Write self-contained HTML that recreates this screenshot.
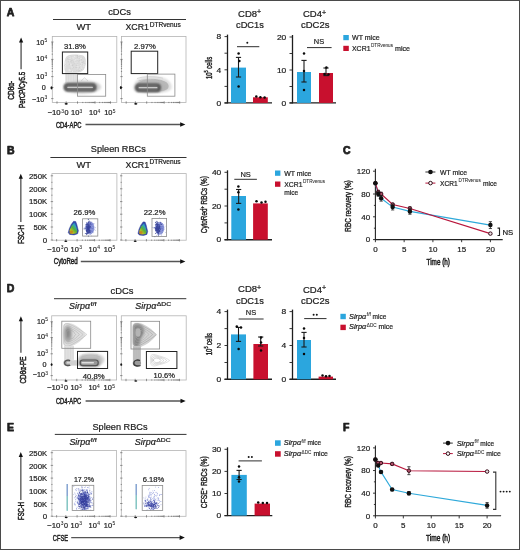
<!DOCTYPE html>
<html><head><meta charset="utf-8"><style>
html,body{margin:0;padding:0;background:#fff;}
svg{display:block;}
text{font-family:"Liberation Sans", sans-serif;fill:#1e1e1e;stroke:#1e1e1e;stroke-width:0.22px;stroke-linejoin:round;paint-order:stroke;}
</style></head><body>
<svg width="520" height="550" viewBox="0 0 520 550">
<defs>
<radialGradient id="gk" cx="0.5" cy="0.5" r="0.5">
 <stop offset="0" stop-color="#1c1c1c"/><stop offset="0.35" stop-color="#3c3c3c"/>
 <stop offset="0.6" stop-color="#808080"/><stop offset="0.85" stop-color="#c4c4c4"/>
 <stop offset="1" stop-color="#e8e8e8" stop-opacity="0"/></radialGradient>
<radialGradient id="gl" cx="0.5" cy="0.5" r="0.5">
 <stop offset="0" stop-color="#9a9a9a"/><stop offset="0.5" stop-color="#bcbcbc"/>
 <stop offset="0.85" stop-color="#dadada"/><stop offset="1" stop-color="#f0f0f0" stop-opacity="0"/></radialGradient>
<radialGradient id="gm" cx="0.5" cy="0.5" r="0.5">
 <stop offset="0" stop-color="#555"/><stop offset="0.4" stop-color="#7a7a7a"/>
 <stop offset="0.75" stop-color="#b8b8b8"/><stop offset="1" stop-color="#e6e6e6" stop-opacity="0"/></radialGradient>
<filter id="bl" x="-30%" y="-30%" width="160%" height="160%"><feGaussianBlur stdDeviation="0.6"/></filter>
<filter id="bl3" x="-30%" y="-30%" width="160%" height="160%"><feGaussianBlur stdDeviation="0.85"/></filter>
<filter id="bl2" x="-30%" y="-30%" width="160%" height="160%"><feGaussianBlur stdDeviation="1.0"/></filter>
<linearGradient id="rb1" x1="0.1" y1="0.95" x2="0.8" y2="0">
 <stop offset="0" stop-color="#c98a20"/><stop offset="0.22" stop-color="#b8c020"/>
 <stop offset="0.5" stop-color="#58b038"/><stop offset="0.78" stop-color="#2ea4c0"/>
 <stop offset="1" stop-color="#3050b8"/></linearGradient>
</defs>
<rect x="0" y="0" width="520" height="550" fill="#fff"/>
<g opacity="0.999"><text x="6.70" y="15.80" font-size="10.5" style="stroke-width:0.75px" font-weight="bold" fill="#000">A</text>
<text x="119.60" y="14.60" font-size="9" text-anchor="middle" textLength="22.8" lengthAdjust="spacingAndGlyphs">cDCs</text>
<line x1="53" y1="19.5" x2="186" y2="19.5" stroke="#333" stroke-width="1" />
<text x="83.80" y="30.00" font-size="9" text-anchor="middle" textLength="14.7" lengthAdjust="spacingAndGlyphs">WT</text>
<text x="125.40" y="30.00" font-size="9" textLength="23.6" lengthAdjust="spacingAndGlyphs">XCR1</text>
<text x="149.70" y="26.60" font-size="6.5" textLength="31" lengthAdjust="spacingAndGlyphs">DTRvenus</text>
<rect x="52.30" y="36.50" width="64.50" height="66.00" fill="#fff" stroke="#b4b4b4" stroke-width="0.8" />
<line x1="51.099999999999994" y1="42" x2="53.5" y2="42" stroke="#555" stroke-width="0.6" />
<line x1="51.099999999999994" y1="59.4" x2="53.5" y2="59.4" stroke="#555" stroke-width="0.6" />
<line x1="51.099999999999994" y1="76.6" x2="53.5" y2="76.6" stroke="#555" stroke-width="0.6" />
<line x1="51.099999999999994" y1="87.5" x2="53.5" y2="87.5" stroke="#555" stroke-width="0.6" />
<line x1="51.099999999999994" y1="98.6" x2="53.5" y2="98.6" stroke="#555" stroke-width="0.6" />
<line x1="51.699999999999996" y1="54.16207807544673" x2="52.9" y2="54.16207807544673" stroke="#555" stroke-width="0.6" />
<line x1="51.699999999999996" y1="51.09809016787787" x2="52.9" y2="51.09809016787787" stroke="#555" stroke-width="0.6" />
<line x1="51.699999999999996" y1="48.92415615089345" x2="52.9" y2="48.92415615089345" stroke="#555" stroke-width="0.6" />
<line x1="51.699999999999996" y1="47.23792192455327" x2="52.9" y2="47.23792192455327" stroke="#555" stroke-width="0.6" />
<line x1="51.699999999999996" y1="45.8601682433246" x2="52.9" y2="45.8601682433246" stroke="#555" stroke-width="0.6" />
<line x1="51.699999999999996" y1="44.695294103751934" x2="52.9" y2="44.695294103751934" stroke="#555" stroke-width="0.6" />
<line x1="51.699999999999996" y1="43.68623422634018" x2="52.9" y2="43.68623422634018" stroke="#555" stroke-width="0.6" />
<line x1="51.699999999999996" y1="42.79618033575575" x2="52.9" y2="42.79618033575575" stroke="#555" stroke-width="0.6" />
<line x1="51.699999999999996" y1="71.42228407457952" x2="52.9" y2="71.42228407457952" stroke="#555" stroke-width="0.6" />
<line x1="51.699999999999996" y1="68.39351441882181" x2="52.9" y2="68.39351441882181" stroke="#555" stroke-width="0.6" />
<line x1="51.699999999999996" y1="66.24456814915905" x2="52.9" y2="66.24456814915905" stroke="#555" stroke-width="0.6" />
<line x1="51.699999999999996" y1="64.57771592542048" x2="52.9" y2="64.57771592542048" stroke="#555" stroke-width="0.6" />
<line x1="51.699999999999996" y1="63.21579849340132" x2="52.9" y2="63.21579849340132" stroke="#555" stroke-width="0.6" />
<line x1="51.699999999999996" y1="62.06431371175478" x2="52.9" y2="62.06431371175478" stroke="#555" stroke-width="0.6" />
<line x1="51.699999999999996" y1="61.06685222373857" x2="52.9" y2="61.06685222373857" stroke="#555" stroke-width="0.6" />
<line x1="51.699999999999996" y1="60.18702883764361" x2="52.9" y2="60.18702883764361" stroke="#555" stroke-width="0.6" />
<line x1="57" y1="101.3" x2="57" y2="103.7" stroke="#555" stroke-width="0.6" />
<line x1="66.2" y1="101.3" x2="66.2" y2="103.7" stroke="#555" stroke-width="0.6" />
<line x1="77.5" y1="101.3" x2="77.5" y2="103.7" stroke="#555" stroke-width="0.6" />
<line x1="95" y1="101.3" x2="95" y2="103.7" stroke="#555" stroke-width="0.6" />
<line x1="110.5" y1="101.3" x2="110.5" y2="103.7" stroke="#555" stroke-width="0.6" />
<line x1="82.76802492411967" y1="101.9" x2="82.76802492411967" y2="103.1" stroke="#555" stroke-width="0.6" />
<line x1="85.8496219575941" y1="101.9" x2="85.8496219575941" y2="103.1" stroke="#555" stroke-width="0.6" />
<line x1="88.03604984823934" y1="101.9" x2="88.03604984823934" y2="103.1" stroke="#555" stroke-width="0.6" />
<line x1="89.73197507588033" y1="101.9" x2="89.73197507588033" y2="103.1" stroke="#555" stroke-width="0.6" />
<line x1="91.11764688171377" y1="101.9" x2="91.11764688171377" y2="103.1" stroke="#555" stroke-width="0.6" />
<line x1="92.2892157002495" y1="101.9" x2="92.2892157002495" y2="103.1" stroke="#555" stroke-width="0.6" />
<line x1="93.30407477235902" y1="101.9" x2="93.30407477235902" y2="103.1" stroke="#555" stroke-width="0.6" />
<line x1="94.19924391518819" y1="101.9" x2="94.19924391518819" y2="103.1" stroke="#555" stroke-width="0.6" />
<line x1="99.66596493279171" y1="101.9" x2="99.66596493279171" y2="103.1" stroke="#555" stroke-width="0.6" />
<line x1="102.39537944815477" y1="101.9" x2="102.39537944815477" y2="103.1" stroke="#555" stroke-width="0.6" />
<line x1="104.33192986558342" y1="101.9" x2="104.33192986558342" y2="103.1" stroke="#555" stroke-width="0.6" />
<line x1="105.83403506720829" y1="101.9" x2="105.83403506720829" y2="103.1" stroke="#555" stroke-width="0.6" />
<line x1="107.06134438094648" y1="101.9" x2="107.06134438094648" y2="103.1" stroke="#555" stroke-width="0.6" />
<line x1="108.09901962022099" y1="101.9" x2="108.09901962022099" y2="103.1" stroke="#555" stroke-width="0.6" />
<line x1="108.99789479837513" y1="101.9" x2="108.99789479837513" y2="103.1" stroke="#555" stroke-width="0.6" />
<line x1="109.79075889630954" y1="101.9" x2="109.79075889630954" y2="103.1" stroke="#555" stroke-width="0.6" />
<text x="47.50" y="115.20" font-size="7.2" textLength="13.2" lengthAdjust="spacingAndGlyphs">−10</text>
<text x="61.20" y="112.60" font-size="4.9" style="stroke-width:0.06px">3</text>
<text x="64.50" y="115.20" font-size="7.2">0</text>
<text x="71.00" y="115.20" font-size="7.2" textLength="8.3" lengthAdjust="spacingAndGlyphs">10</text>
<text x="79.60" y="112.60" font-size="4.9" style="stroke-width:0.06px">3</text>
<text x="89.00" y="115.20" font-size="7.2" textLength="8.3" lengthAdjust="spacingAndGlyphs">10</text>
<text x="97.60" y="112.60" font-size="4.9" style="stroke-width:0.06px">4</text>
<text x="104.20" y="115.20" font-size="7.2" textLength="8.3" lengthAdjust="spacingAndGlyphs">10</text>
<text x="112.80" y="112.60" font-size="4.9" style="stroke-width:0.06px">5</text>
<rect x="121.50" y="36.50" width="64.50" height="66.00" fill="#fff" stroke="#b4b4b4" stroke-width="0.8" />
<line x1="120.3" y1="42" x2="122.7" y2="42" stroke="#555" stroke-width="0.6" />
<line x1="120.3" y1="59.4" x2="122.7" y2="59.4" stroke="#555" stroke-width="0.6" />
<line x1="120.3" y1="76.6" x2="122.7" y2="76.6" stroke="#555" stroke-width="0.6" />
<line x1="120.3" y1="87.5" x2="122.7" y2="87.5" stroke="#555" stroke-width="0.6" />
<line x1="120.3" y1="98.6" x2="122.7" y2="98.6" stroke="#555" stroke-width="0.6" />
<line x1="120.9" y1="54.16207807544673" x2="122.1" y2="54.16207807544673" stroke="#555" stroke-width="0.6" />
<line x1="120.9" y1="51.09809016787787" x2="122.1" y2="51.09809016787787" stroke="#555" stroke-width="0.6" />
<line x1="120.9" y1="48.92415615089345" x2="122.1" y2="48.92415615089345" stroke="#555" stroke-width="0.6" />
<line x1="120.9" y1="47.23792192455327" x2="122.1" y2="47.23792192455327" stroke="#555" stroke-width="0.6" />
<line x1="120.9" y1="45.8601682433246" x2="122.1" y2="45.8601682433246" stroke="#555" stroke-width="0.6" />
<line x1="120.9" y1="44.695294103751934" x2="122.1" y2="44.695294103751934" stroke="#555" stroke-width="0.6" />
<line x1="120.9" y1="43.68623422634018" x2="122.1" y2="43.68623422634018" stroke="#555" stroke-width="0.6" />
<line x1="120.9" y1="42.79618033575575" x2="122.1" y2="42.79618033575575" stroke="#555" stroke-width="0.6" />
<line x1="120.9" y1="71.42228407457952" x2="122.1" y2="71.42228407457952" stroke="#555" stroke-width="0.6" />
<line x1="120.9" y1="68.39351441882181" x2="122.1" y2="68.39351441882181" stroke="#555" stroke-width="0.6" />
<line x1="120.9" y1="66.24456814915905" x2="122.1" y2="66.24456814915905" stroke="#555" stroke-width="0.6" />
<line x1="120.9" y1="64.57771592542048" x2="122.1" y2="64.57771592542048" stroke="#555" stroke-width="0.6" />
<line x1="120.9" y1="63.21579849340132" x2="122.1" y2="63.21579849340132" stroke="#555" stroke-width="0.6" />
<line x1="120.9" y1="62.06431371175478" x2="122.1" y2="62.06431371175478" stroke="#555" stroke-width="0.6" />
<line x1="120.9" y1="61.06685222373857" x2="122.1" y2="61.06685222373857" stroke="#555" stroke-width="0.6" />
<line x1="120.9" y1="60.18702883764361" x2="122.1" y2="60.18702883764361" stroke="#555" stroke-width="0.6" />
<line x1="126.2" y1="101.3" x2="126.2" y2="103.7" stroke="#555" stroke-width="0.6" />
<line x1="135.4" y1="101.3" x2="135.4" y2="103.7" stroke="#555" stroke-width="0.6" />
<line x1="146.7" y1="101.3" x2="146.7" y2="103.7" stroke="#555" stroke-width="0.6" />
<line x1="164.2" y1="101.3" x2="164.2" y2="103.7" stroke="#555" stroke-width="0.6" />
<line x1="179.7" y1="101.3" x2="179.7" y2="103.7" stroke="#555" stroke-width="0.6" />
<line x1="151.96802492411967" y1="101.9" x2="151.96802492411967" y2="103.1" stroke="#555" stroke-width="0.6" />
<line x1="155.0496219575941" y1="101.9" x2="155.0496219575941" y2="103.1" stroke="#555" stroke-width="0.6" />
<line x1="157.23604984823936" y1="101.9" x2="157.23604984823936" y2="103.1" stroke="#555" stroke-width="0.6" />
<line x1="158.93197507588033" y1="101.9" x2="158.93197507588033" y2="103.1" stroke="#555" stroke-width="0.6" />
<line x1="160.31764688171376" y1="101.9" x2="160.31764688171376" y2="103.1" stroke="#555" stroke-width="0.6" />
<line x1="161.4892157002495" y1="101.9" x2="161.4892157002495" y2="103.1" stroke="#555" stroke-width="0.6" />
<line x1="162.50407477235902" y1="101.9" x2="162.50407477235902" y2="103.1" stroke="#555" stroke-width="0.6" />
<line x1="163.3992439151882" y1="101.9" x2="163.3992439151882" y2="103.1" stroke="#555" stroke-width="0.6" />
<line x1="168.8659649327917" y1="101.9" x2="168.8659649327917" y2="103.1" stroke="#555" stroke-width="0.6" />
<line x1="171.59537944815477" y1="101.9" x2="171.59537944815477" y2="103.1" stroke="#555" stroke-width="0.6" />
<line x1="173.53192986558344" y1="101.9" x2="173.53192986558344" y2="103.1" stroke="#555" stroke-width="0.6" />
<line x1="175.0340350672083" y1="101.9" x2="175.0340350672083" y2="103.1" stroke="#555" stroke-width="0.6" />
<line x1="176.26134438094647" y1="101.9" x2="176.26134438094647" y2="103.1" stroke="#555" stroke-width="0.6" />
<line x1="177.29901962022097" y1="101.9" x2="177.29901962022097" y2="103.1" stroke="#555" stroke-width="0.6" />
<line x1="178.19789479837513" y1="101.9" x2="178.19789479837513" y2="103.1" stroke="#555" stroke-width="0.6" />
<line x1="178.99075889630956" y1="101.9" x2="178.99075889630956" y2="103.1" stroke="#555" stroke-width="0.6" />
<text x="44.30" y="44.70" font-size="7.2" text-anchor="end">10</text>
<text x="44.50" y="42.20" font-size="4.9" style="stroke-width:0.06px">5</text>
<text x="44.30" y="61.00" font-size="7.2" text-anchor="end">10</text>
<text x="44.50" y="58.50" font-size="4.9" style="stroke-width:0.06px">4</text>
<text x="44.30" y="78.60" font-size="7.2" text-anchor="end">10</text>
<text x="44.50" y="76.10" font-size="4.9" style="stroke-width:0.06px">3</text>
<text x="45.70" y="89.50" font-size="7.2" text-anchor="end">0</text>
<text x="44.30" y="101.50" font-size="7.2" text-anchor="end">−10</text>
<text x="44.50" y="99.00" font-size="4.9" style="stroke-width:0.06px">3</text>
<path d="M64.6,70 C64,64 64.5,58 67,56 C71,54 78,54.3 82.5,55.3 C85.5,56.5 86.2,60 85.8,64 C85.3,68 83.5,71 80,72.2 C75,73.3 68,73.2 65.5,72.2 Z" fill="#dcdcdc" filter="url(#bl)"/>
<g fill="#b0b0b0" opacity="0.5"><circle cx="69.5" cy="64.3" r="0.45"/><circle cx="72.3" cy="65.3" r="0.45"/><circle cx="77.6" cy="56.1" r="0.45"/><circle cx="69.9" cy="59.0" r="0.45"/><circle cx="85.4" cy="63.0" r="0.45"/><circle cx="82.1" cy="63.1" r="0.45"/><circle cx="77.9" cy="57.6" r="0.45"/><circle cx="77.8" cy="69.8" r="0.45"/><circle cx="75.5" cy="67.6" r="0.45"/><circle cx="78.6" cy="56.1" r="0.45"/><circle cx="80.4" cy="65.0" r="0.45"/><circle cx="82.7" cy="63.0" r="0.45"/><circle cx="79.6" cy="69.9" r="0.45"/><circle cx="79.5" cy="70.7" r="0.45"/><circle cx="72.8" cy="68.6" r="0.45"/><circle cx="73.8" cy="70.9" r="0.45"/><circle cx="67.4" cy="58.7" r="0.45"/><circle cx="84.8" cy="62.4" r="0.45"/><circle cx="77.7" cy="60.1" r="0.45"/><circle cx="75.2" cy="61.6" r="0.45"/><circle cx="71.9" cy="64.9" r="0.45"/><circle cx="76.8" cy="70.4" r="0.45"/><circle cx="78.8" cy="70.8" r="0.45"/><circle cx="78.6" cy="57.8" r="0.45"/><circle cx="83.5" cy="64.7" r="0.45"/><circle cx="79.5" cy="58.6" r="0.45"/><circle cx="82.0" cy="64.8" r="0.45"/><circle cx="70.5" cy="56.1" r="0.45"/><circle cx="73.1" cy="57.6" r="0.45"/><circle cx="70.7" cy="68.1" r="0.45"/><circle cx="77.4" cy="55.8" r="0.45"/><circle cx="79.6" cy="60.6" r="0.45"/><circle cx="75.1" cy="72.0" r="0.45"/><circle cx="71.0" cy="56.3" r="0.45"/><circle cx="77.1" cy="55.5" r="0.45"/><circle cx="68.6" cy="61.9" r="0.45"/><circle cx="77.3" cy="57.7" r="0.45"/><circle cx="71.1" cy="71.3" r="0.45"/><circle cx="83.3" cy="61.4" r="0.45"/><circle cx="74.2" cy="63.8" r="0.45"/><circle cx="78.0" cy="65.1" r="0.45"/><circle cx="76.2" cy="65.5" r="0.45"/><circle cx="84.3" cy="63.6" r="0.45"/><circle cx="73.6" cy="67.2" r="0.45"/><circle cx="69.5" cy="60.1" r="0.45"/><circle cx="85.0" cy="63.9" r="0.45"/><circle cx="76.0" cy="55.2" r="0.45"/><circle cx="73.2" cy="64.9" r="0.45"/><circle cx="64.9" cy="65.5" r="0.45"/><circle cx="77.8" cy="56.0" r="0.45"/><circle cx="77.7" cy="62.9" r="0.45"/><circle cx="78.8" cy="61.0" r="0.45"/><circle cx="79.3" cy="67.5" r="0.45"/><circle cx="78.7" cy="71.4" r="0.45"/><circle cx="69.8" cy="62.8" r="0.45"/><circle cx="76.9" cy="60.4" r="0.45"/><circle cx="72.1" cy="60.3" r="0.45"/><circle cx="72.3" cy="65.1" r="0.45"/><circle cx="70.8" cy="61.4" r="0.45"/><circle cx="76.5" cy="67.5" r="0.45"/><circle cx="71.0" cy="58.8" r="0.45"/><circle cx="81.4" cy="59.1" r="0.45"/><circle cx="68.4" cy="62.4" r="0.45"/><circle cx="79.2" cy="56.7" r="0.45"/><circle cx="71.3" cy="60.7" r="0.45"/><circle cx="82.0" cy="62.5" r="0.45"/><circle cx="82.5" cy="57.9" r="0.45"/><circle cx="71.6" cy="66.1" r="0.45"/><circle cx="83.1" cy="62.7" r="0.45"/><circle cx="69.2" cy="57.1" r="0.45"/><circle cx="75.6" cy="58.2" r="0.45"/><circle cx="81.4" cy="69.3" r="0.45"/><circle cx="68.4" cy="59.7" r="0.45"/><circle cx="81.5" cy="65.9" r="0.45"/><circle cx="81.4" cy="60.9" r="0.45"/><circle cx="67.2" cy="60.0" r="0.45"/><circle cx="81.2" cy="59.6" r="0.45"/><circle cx="71.8" cy="62.1" r="0.45"/><circle cx="73.3" cy="62.0" r="0.45"/><circle cx="73.6" cy="71.2" r="0.45"/></g>
<g fill="#f4f4f4" opacity="0.7"><circle cx="69.5" cy="56.8" r="0.5"/><circle cx="72.8" cy="57.6" r="0.5"/><circle cx="65.9" cy="61.8" r="0.5"/><circle cx="80.6" cy="58.8" r="0.5"/><circle cx="75.8" cy="59.7" r="0.5"/><circle cx="81.9" cy="68.7" r="0.5"/><circle cx="81.3" cy="58.3" r="0.5"/><circle cx="71.0" cy="65.7" r="0.5"/><circle cx="79.9" cy="69.5" r="0.5"/><circle cx="77.2" cy="66.4" r="0.5"/><circle cx="75.1" cy="58.0" r="0.5"/><circle cx="74.4" cy="56.5" r="0.5"/><circle cx="76.0" cy="60.1" r="0.5"/><circle cx="83.6" cy="64.7" r="0.5"/><circle cx="75.2" cy="62.0" r="0.5"/><circle cx="77.1" cy="62.3" r="0.5"/><circle cx="67.9" cy="60.2" r="0.5"/><circle cx="65.5" cy="65.6" r="0.5"/><circle cx="70.4" cy="64.1" r="0.5"/><circle cx="74.4" cy="60.8" r="0.5"/><circle cx="73.2" cy="58.4" r="0.5"/><circle cx="77.8" cy="59.7" r="0.5"/><circle cx="72.0" cy="67.7" r="0.5"/><circle cx="71.2" cy="64.5" r="0.5"/><circle cx="80.6" cy="65.5" r="0.5"/><circle cx="69.5" cy="60.6" r="0.5"/><circle cx="68.2" cy="62.8" r="0.5"/><circle cx="65.4" cy="66.9" r="0.5"/><circle cx="73.1" cy="71.0" r="0.5"/><circle cx="77.5" cy="68.9" r="0.5"/><circle cx="70.7" cy="58.3" r="0.5"/><circle cx="73.8" cy="57.3" r="0.5"/><circle cx="72.5" cy="71.4" r="0.5"/><circle cx="81.0" cy="61.2" r="0.5"/><circle cx="70.6" cy="56.7" r="0.5"/><circle cx="85.1" cy="62.2" r="0.5"/><circle cx="78.7" cy="57.5" r="0.5"/><circle cx="65.4" cy="63.3" r="0.5"/><circle cx="67.1" cy="64.0" r="0.5"/><circle cx="80.7" cy="62.0" r="0.5"/><circle cx="85.2" cy="63.1" r="0.5"/><circle cx="69.6" cy="62.0" r="0.5"/><circle cx="65.3" cy="62.2" r="0.5"/><circle cx="69.7" cy="70.1" r="0.5"/><circle cx="82.0" cy="63.5" r="0.5"/><circle cx="69.6" cy="58.5" r="0.5"/><circle cx="69.4" cy="69.8" r="0.5"/><circle cx="84.0" cy="64.6" r="0.5"/><circle cx="83.4" cy="66.1" r="0.5"/><circle cx="81.1" cy="67.7" r="0.5"/><circle cx="74.9" cy="56.6" r="0.5"/><circle cx="68.9" cy="69.9" r="0.5"/><circle cx="71.6" cy="66.2" r="0.5"/><circle cx="81.3" cy="65.9" r="0.5"/><circle cx="81.6" cy="64.0" r="0.5"/><circle cx="78.2" cy="66.7" r="0.5"/><circle cx="70.1" cy="70.7" r="0.5"/><circle cx="78.5" cy="55.8" r="0.5"/><circle cx="84.8" cy="66.3" r="0.5"/><circle cx="77.8" cy="64.7" r="0.5"/></g>
<rect x="65.2" y="72" width="12" height="11" fill="#e2e2e2" filter="url(#bl)"/>
<line x1="66.5" y1="73" x2="66.5" y2="82" stroke="#d4d4d4" stroke-width="0.4" />
<line x1="68.5" y1="73" x2="68.5" y2="82" stroke="#d4d4d4" stroke-width="0.4" />
<line x1="71" y1="73" x2="71" y2="82" stroke="#d4d4d4" stroke-width="0.4" />
<line x1="73.5" y1="73" x2="73.5" y2="82" stroke="#d4d4d4" stroke-width="0.4" />
<line x1="76" y1="73" x2="76" y2="82" stroke="#d4d4d4" stroke-width="0.4" />
<ellipse cx="82.30" cy="87.00" rx="18.80" ry="6.70" fill="#d0d0d0" filter="url(#bl2)"/>
<rect x="64.00" y="83.10" width="32.50" height="8.4" rx="4" fill="#7c7c7c" filter="url(#bl3)"/>
<rect x="65.00" y="84.30" width="30.10" height="6.0" rx="3" fill="none" stroke="#404040" stroke-width="1.3" filter="url(#bl3)"/>
<rect x="67.20" y="86.65" width="25.80" height="1.3" rx="0.65" fill="#cacaca" filter="url(#bl)"/>
<path d="M81,81 L84.5,77.8 L88,81" fill="none" stroke="#b8b8b8" stroke-width="0.5"/>
<rect x="62.40" y="52.00" width="25.30" height="21.60" fill="none" stroke="#222" stroke-width="1.0" />
<rect x="77.40" y="74.50" width="28.30" height="21.70" fill="none" stroke="#8a8a8a" stroke-width="0.8" />
<text x="64.00" y="49.20" font-size="7.7" textLength="21.8" lengthAdjust="spacingAndGlyphs">31.8%</text>
<path d="M133.5,89 C133,84 136,79.5 142,77.5 C149,75.5 158,75.8 164,78 C170,80.5 172.5,85 171.5,88.5 C170,92 162,93 150,93 C140,93 134,92 133.5,89 Z" fill="#dedede" filter="url(#bl2)"/>
<path d="M135.5,88 C135.5,84.5 138.5,81 144,80 C151,79 159,79.3 164,81 C168.5,82.8 169.5,86 168,88.5 C166,91 158,91.8 150,91.8 C142,91.8 136,91 135.5,88 Z" fill="#b8b8b8" filter="url(#bl)"/>
<path d="M137,78.5 C143,76.2 155,76 163,78.2" fill="none" stroke="#c0c0c0" stroke-width="0.5"/>
<path d="M138.5,81 C145,78.8 156,78.8 162.5,80.8" fill="none" stroke="#a8a8a8" stroke-width="0.5"/>
<ellipse cx="150.70" cy="87.40" rx="15.80" ry="5.20" fill="#b4b4b4" filter="url(#bl2)"/>
<rect x="135.40" y="83.50" width="25.60" height="8.4" rx="4" fill="#7a7a7a" filter="url(#bl3)"/>
<rect x="136.40" y="84.70" width="23.20" height="6.0" rx="3" fill="none" stroke="#3c3c3c" stroke-width="1.3" filter="url(#bl3)"/>
<rect x="138.60" y="87.05" width="18.90" height="1.3" rx="0.65" fill="#cacaca" filter="url(#bl)"/>
<rect x="131.20" y="51.20" width="26.50" height="22.40" fill="none" stroke="#222" stroke-width="1.0" />
<rect x="147.30" y="74.10" width="27.60" height="22.10" fill="none" stroke="#8a8a8a" stroke-width="0.8" />
<text x="134.00" y="49.20" font-size="7.7" textLength="21.8" lengthAdjust="spacingAndGlyphs">2.97%</text>
<ellipse cx="51.5" cy="87.8" rx="1.0" ry="1.6" fill="#111"/>
<ellipse cx="66.2" cy="103.8" rx="1.6" ry="0.9" fill="#111"/>
<ellipse cx="120.9" cy="87.6" rx="1.0" ry="1.6" fill="#111"/>
<ellipse cx="135.8" cy="103.8" rx="1.6" ry="0.9" fill="#111"/>
<line x1="21.1" y1="69.2" x2="21.1" y2="41.7" stroke="#707070" stroke-width="1.6" />
<path d="M19.00,42.60 L21.10,37.60 L23.20,42.60 Z" fill="#111"/>
<text x="14.00" y="90.20" font-size="8.4" style="stroke-width:0.5px" text-anchor="middle" textLength="19" lengthAdjust="spacingAndGlyphs" transform="rotate(-90 14.00 90.20)">CD8α-</text>
<text x="25.30" y="89.90" font-size="8.4" style="stroke-width:0.5px" text-anchor="middle" textLength="36" lengthAdjust="spacingAndGlyphs" transform="rotate(-90 25.30 89.90)">PerCP/Cy5.5</text>
<text x="55.90" y="127.50" font-size="9" style="stroke-width:0.5px" textLength="25.7" lengthAdjust="spacingAndGlyphs">CD4-APC</text>
<line x1="85.5" y1="124.5" x2="181.4" y2="124.5" stroke="#555" stroke-width="1.4" />
<path d="M180.20,122.20 L185.40,124.50 L180.20,126.80 Z" fill="#111"/>
<text x="238.10" y="17.20" font-size="8.5" textLength="19" lengthAdjust="spacingAndGlyphs">CD8</text>
<text x="257.00" y="14.40" font-size="7">+</text>
<text x="236.00" y="28.10" font-size="8.5" textLength="27.8" lengthAdjust="spacingAndGlyphs">cDC1s</text>
<line x1="227.5" y1="34.6" x2="227.5" y2="103.4" stroke="#1e1e1e" stroke-width="1.3" />
<line x1="224.5" y1="102.9" x2="272" y2="102.9" stroke="#1e1e1e" stroke-width="1.4" />
<line x1="224.5" y1="36.6" x2="227.5" y2="36.6" stroke="#222" stroke-width="0.9" />
<line x1="224.5" y1="53.2" x2="227.5" y2="53.2" stroke="#222" stroke-width="0.9" />
<line x1="224.5" y1="69.8" x2="227.5" y2="69.8" stroke="#222" stroke-width="0.9" />
<line x1="224.5" y1="86.4" x2="227.5" y2="86.4" stroke="#222" stroke-width="0.9" />
<line x1="224.5" y1="103" x2="227.5" y2="103" stroke="#222" stroke-width="0.9" />
<text x="221.30" y="39.30" font-size="8.0" text-anchor="end" textLength="4.7" lengthAdjust="spacingAndGlyphs">8</text>
<text x="221.30" y="72.50" font-size="8.0" text-anchor="end" textLength="4.7" lengthAdjust="spacingAndGlyphs">4</text>
<text x="221.30" y="105.70" font-size="8.0" text-anchor="end" textLength="4.7" lengthAdjust="spacingAndGlyphs">0</text>
<rect x="231.00" y="67.60" width="15.00" height="35.30" fill="#2ba6de" />
<line x1="238.5" y1="57.4" x2="238.5" y2="77" stroke="#1a1a1a" stroke-width="1.1" />
<line x1="235.9" y1="57.4" x2="241.1" y2="57.4" stroke="#1a1a1a" stroke-width="1.1" />
<line x1="235.9" y1="77" x2="241.1" y2="77" stroke="#1a1a1a" stroke-width="1.1" />
<circle cx="238.60" cy="53.60" r="1.25" fill="#0a0a0a"/>
<circle cx="239.40" cy="61.00" r="1.25" fill="#0a0a0a"/>
<circle cx="238.60" cy="86.40" r="1.25" fill="#0a0a0a"/>
<rect x="253.00" y="97.30" width="14.80" height="5.60" fill="#c8102e" />
<circle cx="256.30" cy="96.60" r="1.25" fill="#0a0a0a"/>
<circle cx="260.40" cy="97.20" r="1.25" fill="#0a0a0a"/>
<circle cx="264.60" cy="97.60" r="1.25" fill="#0a0a0a"/>
<line x1="237" y1="46.7" x2="259.3" y2="46.7" stroke="#2e2e2e" stroke-width="1.0" />
<circle cx="247.30" cy="42.80" r="1.0" fill="#151515"/>
<text transform="translate(211.6 68) rotate(-90)" text-anchor="middle" font-size="8.4" style="stroke-width:0.4px" textLength="22.2" lengthAdjust="spacingAndGlyphs">10<tspan font-size="5.2" dy="-3.2">5</tspan><tspan dy="3.2"> cells</tspan></text>
<text x="303.00" y="17.40" font-size="8.5" textLength="19" lengthAdjust="spacingAndGlyphs">CD4</text>
<text x="322.00" y="14.60" font-size="7">+</text>
<text x="301.00" y="28.10" font-size="8.5" textLength="28.4" lengthAdjust="spacingAndGlyphs">cDC2s</text>
<line x1="292.5" y1="35.0" x2="292.5" y2="103.4" stroke="#1e1e1e" stroke-width="1.3" />
<line x1="289.5" y1="102.9" x2="336" y2="102.9" stroke="#1e1e1e" stroke-width="1.4" />
<line x1="289.5" y1="37" x2="292.5" y2="37" stroke="#222" stroke-width="0.9" />
<line x1="289.5" y1="53.5" x2="292.5" y2="53.5" stroke="#222" stroke-width="0.9" />
<line x1="289.5" y1="70" x2="292.5" y2="70" stroke="#222" stroke-width="0.9" />
<line x1="289.5" y1="86.5" x2="292.5" y2="86.5" stroke="#222" stroke-width="0.9" />
<line x1="289.5" y1="103" x2="292.5" y2="103" stroke="#222" stroke-width="0.9" />
<text x="286.30" y="39.70" font-size="8.0" text-anchor="end" textLength="9.4" lengthAdjust="spacingAndGlyphs">20</text>
<text x="286.30" y="72.70" font-size="8.0" text-anchor="end" textLength="9.4" lengthAdjust="spacingAndGlyphs">10</text>
<text x="286.30" y="105.70" font-size="8.0" text-anchor="end" textLength="4.7" lengthAdjust="spacingAndGlyphs">0</text>
<rect x="297.00" y="72.00" width="14.00" height="30.90" fill="#2ba6de" />
<line x1="304.0" y1="60.4" x2="304.0" y2="82" stroke="#1a1a1a" stroke-width="1.1" />
<line x1="301.4" y1="60.4" x2="306.6" y2="60.4" stroke="#1a1a1a" stroke-width="1.1" />
<line x1="301.4" y1="82" x2="306.6" y2="82" stroke="#1a1a1a" stroke-width="1.1" />
<circle cx="304.00" cy="53.60" r="1.25" fill="#0a0a0a"/>
<circle cx="304.00" cy="71.00" r="1.25" fill="#0a0a0a"/>
<circle cx="304.00" cy="90.00" r="1.25" fill="#0a0a0a"/>
<rect x="319.00" y="73.00" width="14.00" height="29.90" fill="#c8102e" />
<line x1="326.0" y1="68" x2="326.0" y2="75.6" stroke="#1a1a1a" stroke-width="1.1" />
<line x1="323.4" y1="68" x2="328.6" y2="68" stroke="#1a1a1a" stroke-width="1.1" />
<line x1="323.4" y1="75.6" x2="328.6" y2="75.6" stroke="#1a1a1a" stroke-width="1.1" />
<circle cx="326.40" cy="67.60" r="1.25" fill="#0a0a0a"/>
<circle cx="324.50" cy="74.00" r="1.25" fill="#0a0a0a"/>
<circle cx="328.50" cy="74.50" r="1.25" fill="#0a0a0a"/>
<line x1="307" y1="47.6" x2="331.6" y2="47.6" stroke="#2e2e2e" stroke-width="1.0" />
<text x="319.00" y="44.30" font-size="8.0" text-anchor="middle" textLength="10.4" lengthAdjust="spacingAndGlyphs">NS</text>
<rect x="343.30" y="35.00" width="5.50" height="5.20" fill="#2ba6de" />
<text x="352.00" y="39.90" font-size="7.2" textLength="27.6" lengthAdjust="spacingAndGlyphs">WT mice</text>
<rect x="343.30" y="45.80" width="5.50" height="5.20" fill="#c8102e" />
<text x="352.00" y="50.70" font-size="7.2" textLength="18.5" lengthAdjust="spacingAndGlyphs">XCR1</text>
<text x="371.00" y="47.40" font-size="5.2" style="stroke-width:0.06px" textLength="22" lengthAdjust="spacingAndGlyphs">DTRvenus</text>
<text x="395.00" y="50.70" font-size="7.2" textLength="15" lengthAdjust="spacingAndGlyphs">mice</text>
<text x="7.00" y="153.80" font-size="10.5" style="stroke-width:0.75px" font-weight="bold" fill="#000">B</text>
<text x="90.80" y="152.30" font-size="9" textLength="55" lengthAdjust="spacingAndGlyphs">Spleen RBCs</text>
<line x1="50.4" y1="157.5" x2="186.5" y2="157.5" stroke="#333" stroke-width="1" />
<text x="83.80" y="167.80" font-size="9" text-anchor="middle" textLength="14.7" lengthAdjust="spacingAndGlyphs">WT</text>
<text x="125.50" y="167.60" font-size="9" textLength="23.6" lengthAdjust="spacingAndGlyphs">XCR1</text>
<text x="149.60" y="164.20" font-size="6.5" textLength="31" lengthAdjust="spacingAndGlyphs">DTRvenus</text>
<rect x="51.90" y="173.60" width="65.00" height="66.60" fill="#fff" stroke="#b4b4b4" stroke-width="0.8" />
<line x1="50.699999999999996" y1="175.8" x2="53.1" y2="175.8" stroke="#555" stroke-width="0.6" />
<line x1="50.699999999999996" y1="188.8" x2="53.1" y2="188.8" stroke="#555" stroke-width="0.6" />
<line x1="50.699999999999996" y1="201.6" x2="53.1" y2="201.6" stroke="#555" stroke-width="0.6" />
<line x1="50.699999999999996" y1="214.2" x2="53.1" y2="214.2" stroke="#555" stroke-width="0.6" />
<line x1="50.699999999999996" y1="227" x2="53.1" y2="227" stroke="#555" stroke-width="0.6" />
<line x1="50.699999999999996" y1="240" x2="53.1" y2="240" stroke="#555" stroke-width="0.6" />
<line x1="51.3" y1="182.3" x2="52.5" y2="182.3" stroke="#555" stroke-width="0.6" />
<line x1="51.3" y1="195.2" x2="52.5" y2="195.2" stroke="#555" stroke-width="0.6" />
<line x1="51.3" y1="207.89999999999998" x2="52.5" y2="207.89999999999998" stroke="#555" stroke-width="0.6" />
<line x1="51.3" y1="220.6" x2="52.5" y2="220.6" stroke="#555" stroke-width="0.6" />
<line x1="51.3" y1="233.5" x2="52.5" y2="233.5" stroke="#555" stroke-width="0.6" />
<line x1="56.6" y1="239.0" x2="56.6" y2="241.39999999999998" stroke="#555" stroke-width="0.6" />
<line x1="65.8" y1="239.0" x2="65.8" y2="241.39999999999998" stroke="#555" stroke-width="0.6" />
<line x1="77.1" y1="239.0" x2="77.1" y2="241.39999999999998" stroke="#555" stroke-width="0.6" />
<line x1="94.6" y1="239.0" x2="94.6" y2="241.39999999999998" stroke="#555" stroke-width="0.6" />
<line x1="110.1" y1="239.0" x2="110.1" y2="241.39999999999998" stroke="#555" stroke-width="0.6" />
<line x1="82.36802492411967" y1="239.6" x2="82.36802492411967" y2="240.79999999999998" stroke="#555" stroke-width="0.6" />
<line x1="85.44962195759409" y1="239.6" x2="85.44962195759409" y2="240.79999999999998" stroke="#555" stroke-width="0.6" />
<line x1="87.63604984823934" y1="239.6" x2="87.63604984823934" y2="240.79999999999998" stroke="#555" stroke-width="0.6" />
<line x1="89.33197507588032" y1="239.6" x2="89.33197507588032" y2="240.79999999999998" stroke="#555" stroke-width="0.6" />
<line x1="90.71764688171376" y1="239.6" x2="90.71764688171376" y2="240.79999999999998" stroke="#555" stroke-width="0.6" />
<line x1="91.8892157002495" y1="239.6" x2="91.8892157002495" y2="240.79999999999998" stroke="#555" stroke-width="0.6" />
<line x1="92.90407477235901" y1="239.6" x2="92.90407477235901" y2="240.79999999999998" stroke="#555" stroke-width="0.6" />
<line x1="93.79924391518819" y1="239.6" x2="93.79924391518819" y2="240.79999999999998" stroke="#555" stroke-width="0.6" />
<line x1="99.2659649327917" y1="239.6" x2="99.2659649327917" y2="240.79999999999998" stroke="#555" stroke-width="0.6" />
<line x1="101.99537944815476" y1="239.6" x2="101.99537944815476" y2="240.79999999999998" stroke="#555" stroke-width="0.6" />
<line x1="103.93192986558341" y1="239.6" x2="103.93192986558341" y2="240.79999999999998" stroke="#555" stroke-width="0.6" />
<line x1="105.43403506720828" y1="239.6" x2="105.43403506720828" y2="240.79999999999998" stroke="#555" stroke-width="0.6" />
<line x1="106.66134438094647" y1="239.6" x2="106.66134438094647" y2="240.79999999999998" stroke="#555" stroke-width="0.6" />
<line x1="107.69901962022098" y1="239.6" x2="107.69901962022098" y2="240.79999999999998" stroke="#555" stroke-width="0.6" />
<line x1="108.59789479837512" y1="239.6" x2="108.59789479837512" y2="240.79999999999998" stroke="#555" stroke-width="0.6" />
<line x1="109.39075889630953" y1="239.6" x2="109.39075889630953" y2="240.79999999999998" stroke="#555" stroke-width="0.6" />
<text x="47.10" y="251.80" font-size="7.2" textLength="13.2" lengthAdjust="spacingAndGlyphs">−10</text>
<text x="60.80" y="249.20" font-size="4.9" style="stroke-width:0.06px">3</text>
<text x="64.10" y="251.80" font-size="7.2">0</text>
<text x="70.60" y="251.80" font-size="7.2" textLength="8.3" lengthAdjust="spacingAndGlyphs">10</text>
<text x="79.20" y="249.20" font-size="4.9" style="stroke-width:0.06px">3</text>
<text x="88.60" y="251.80" font-size="7.2" textLength="8.3" lengthAdjust="spacingAndGlyphs">10</text>
<text x="97.20" y="249.20" font-size="4.9" style="stroke-width:0.06px">4</text>
<text x="103.80" y="251.80" font-size="7.2" textLength="8.3" lengthAdjust="spacingAndGlyphs">10</text>
<text x="112.40" y="249.20" font-size="4.9" style="stroke-width:0.06px">5</text>
<rect x="121.20" y="173.60" width="65.00" height="66.60" fill="#fff" stroke="#b4b4b4" stroke-width="0.8" />
<line x1="119.99999999999999" y1="175.8" x2="122.39999999999999" y2="175.8" stroke="#555" stroke-width="0.6" />
<line x1="119.99999999999999" y1="188.8" x2="122.39999999999999" y2="188.8" stroke="#555" stroke-width="0.6" />
<line x1="119.99999999999999" y1="201.6" x2="122.39999999999999" y2="201.6" stroke="#555" stroke-width="0.6" />
<line x1="119.99999999999999" y1="214.2" x2="122.39999999999999" y2="214.2" stroke="#555" stroke-width="0.6" />
<line x1="119.99999999999999" y1="227" x2="122.39999999999999" y2="227" stroke="#555" stroke-width="0.6" />
<line x1="119.99999999999999" y1="240" x2="122.39999999999999" y2="240" stroke="#555" stroke-width="0.6" />
<line x1="120.6" y1="182.3" x2="121.79999999999998" y2="182.3" stroke="#555" stroke-width="0.6" />
<line x1="120.6" y1="195.2" x2="121.79999999999998" y2="195.2" stroke="#555" stroke-width="0.6" />
<line x1="120.6" y1="207.89999999999998" x2="121.79999999999998" y2="207.89999999999998" stroke="#555" stroke-width="0.6" />
<line x1="120.6" y1="220.6" x2="121.79999999999998" y2="220.6" stroke="#555" stroke-width="0.6" />
<line x1="120.6" y1="233.5" x2="121.79999999999998" y2="233.5" stroke="#555" stroke-width="0.6" />
<line x1="125.89999999999999" y1="239.0" x2="125.89999999999999" y2="241.39999999999998" stroke="#555" stroke-width="0.6" />
<line x1="135.1" y1="239.0" x2="135.1" y2="241.39999999999998" stroke="#555" stroke-width="0.6" />
<line x1="146.4" y1="239.0" x2="146.4" y2="241.39999999999998" stroke="#555" stroke-width="0.6" />
<line x1="163.9" y1="239.0" x2="163.9" y2="241.39999999999998" stroke="#555" stroke-width="0.6" />
<line x1="179.4" y1="239.0" x2="179.4" y2="241.39999999999998" stroke="#555" stroke-width="0.6" />
<line x1="151.66802492411966" y1="239.6" x2="151.66802492411966" y2="240.79999999999998" stroke="#555" stroke-width="0.6" />
<line x1="154.7496219575941" y1="239.6" x2="154.7496219575941" y2="240.79999999999998" stroke="#555" stroke-width="0.6" />
<line x1="156.93604984823932" y1="239.6" x2="156.93604984823932" y2="240.79999999999998" stroke="#555" stroke-width="0.6" />
<line x1="158.63197507588032" y1="239.6" x2="158.63197507588032" y2="240.79999999999998" stroke="#555" stroke-width="0.6" />
<line x1="160.01764688171377" y1="239.6" x2="160.01764688171377" y2="240.79999999999998" stroke="#555" stroke-width="0.6" />
<line x1="161.1892157002495" y1="239.6" x2="161.1892157002495" y2="240.79999999999998" stroke="#555" stroke-width="0.6" />
<line x1="162.204074772359" y1="239.6" x2="162.204074772359" y2="240.79999999999998" stroke="#555" stroke-width="0.6" />
<line x1="163.09924391518817" y1="239.6" x2="163.09924391518817" y2="240.79999999999998" stroke="#555" stroke-width="0.6" />
<line x1="168.5659649327917" y1="239.6" x2="168.5659649327917" y2="240.79999999999998" stroke="#555" stroke-width="0.6" />
<line x1="171.29537944815476" y1="239.6" x2="171.29537944815476" y2="240.79999999999998" stroke="#555" stroke-width="0.6" />
<line x1="173.2319298655834" y1="239.6" x2="173.2319298655834" y2="240.79999999999998" stroke="#555" stroke-width="0.6" />
<line x1="174.73403506720828" y1="239.6" x2="174.73403506720828" y2="240.79999999999998" stroke="#555" stroke-width="0.6" />
<line x1="175.96134438094649" y1="239.6" x2="175.96134438094649" y2="240.79999999999998" stroke="#555" stroke-width="0.6" />
<line x1="176.999019620221" y1="239.6" x2="176.999019620221" y2="240.79999999999998" stroke="#555" stroke-width="0.6" />
<line x1="177.89789479837512" y1="239.6" x2="177.89789479837512" y2="240.79999999999998" stroke="#555" stroke-width="0.6" />
<line x1="178.69075889630952" y1="239.6" x2="178.69075889630952" y2="240.79999999999998" stroke="#555" stroke-width="0.6" />
<text x="47.20" y="178.60" font-size="7.9" text-anchor="end" textLength="18.2" lengthAdjust="spacingAndGlyphs">250K</text>
<text x="47.20" y="191.50" font-size="7.9" text-anchor="end" textLength="18.2" lengthAdjust="spacingAndGlyphs">200K</text>
<text x="47.20" y="204.30" font-size="7.9" text-anchor="end" textLength="18.2" lengthAdjust="spacingAndGlyphs">150K</text>
<text x="47.20" y="216.90" font-size="7.9" text-anchor="end" textLength="18.2" lengthAdjust="spacingAndGlyphs">100K</text>
<text x="47.20" y="229.70" font-size="7.9" text-anchor="end" textLength="13.6" lengthAdjust="spacingAndGlyphs">50K</text>
<text x="47.20" y="242.70" font-size="7.9" text-anchor="end">0</text>
<path d="M73.60,221.30 L75.70,221.50 L76.80,224.50 L78.40,230.80 L77.60,233.80 L74.00,234.90 L69.60,234.40 L68.30,232.60 L69.20,229.00 L71.20,224.60 Z" fill="#3048a8" stroke="#2a3a98" stroke-width="0.5" stroke-linejoin="round" filter="url(#bl)"/>
<path d="M74.20,222.80 L75.30,223.20 L77.30,230.80 L76.60,233.30 L72.50,234.00 L69.60,233.40 L69.60,230.20 L71.80,225.60 Z" fill="url(#rb1)" stroke-linejoin="round" filter="url(#bl)"/>
<ellipse cx="71.60" cy="231.80" rx="1.5" ry="1.3" fill="#c8761e" opacity="0.7" filter="url(#bl)"/>
<ellipse cx="89.80" cy="228.00" rx="4.6" ry="6.4" fill="#6a78cc" opacity="0.75" filter="url(#bl)"/>
<g fill="#5a66c4" opacity="0.65"><circle cx="93.76" cy="232.78" r="0.45"/><circle cx="90.95" cy="225.48" r="0.45"/><circle cx="88.29" cy="228.10" r="0.45"/><circle cx="88.45" cy="223.26" r="0.45"/><circle cx="91.26" cy="228.44" r="0.45"/><circle cx="92.06" cy="224.98" r="0.45"/><circle cx="90.81" cy="227.79" r="0.45"/><circle cx="87.34" cy="229.78" r="0.45"/><circle cx="91.54" cy="235.88" r="0.45"/><circle cx="91.27" cy="227.52" r="0.45"/><circle cx="93.64" cy="228.66" r="0.45"/><circle cx="92.89" cy="226.79" r="0.45"/><circle cx="91.30" cy="231.38" r="0.45"/><circle cx="92.40" cy="228.42" r="0.45"/><circle cx="88.31" cy="229.47" r="0.45"/><circle cx="90.98" cy="230.38" r="0.45"/><circle cx="91.30" cy="231.59" r="0.45"/><circle cx="90.68" cy="228.67" r="0.45"/><circle cx="92.33" cy="224.41" r="0.45"/><circle cx="89.88" cy="226.35" r="0.45"/><circle cx="95.36" cy="227.69" r="0.45"/><circle cx="92.30" cy="230.04" r="0.45"/><circle cx="90.15" cy="222.88" r="0.45"/><circle cx="93.02" cy="226.66" r="0.45"/><circle cx="92.45" cy="223.69" r="0.45"/><circle cx="89.79" cy="232.15" r="0.45"/><circle cx="94.09" cy="223.70" r="0.45"/><circle cx="87.73" cy="227.85" r="0.45"/><circle cx="92.47" cy="228.53" r="0.45"/><circle cx="91.50" cy="224.74" r="0.45"/><circle cx="92.15" cy="231.69" r="0.45"/><circle cx="89.80" cy="223.27" r="0.45"/><circle cx="89.05" cy="230.51" r="0.45"/><circle cx="86.81" cy="227.70" r="0.45"/><circle cx="88.52" cy="227.57" r="0.45"/><circle cx="90.24" cy="228.05" r="0.45"/><circle cx="94.25" cy="229.39" r="0.45"/><circle cx="93.87" cy="227.53" r="0.45"/><circle cx="89.70" cy="229.25" r="0.45"/><circle cx="84.28" cy="227.87" r="0.45"/><circle cx="91.17" cy="223.92" r="0.45"/><circle cx="91.87" cy="226.15" r="0.45"/><circle cx="85.14" cy="227.30" r="0.45"/><circle cx="88.55" cy="226.28" r="0.45"/><circle cx="90.45" cy="232.13" r="0.45"/><circle cx="91.04" cy="227.91" r="0.45"/><circle cx="91.69" cy="222.02" r="0.45"/><circle cx="93.65" cy="224.45" r="0.45"/><circle cx="91.81" cy="224.28" r="0.45"/><circle cx="88.55" cy="226.69" r="0.45"/><circle cx="95.16" cy="230.30" r="0.45"/><circle cx="89.41" cy="227.06" r="0.45"/><circle cx="88.15" cy="227.89" r="0.45"/><circle cx="89.48" cy="230.38" r="0.45"/><circle cx="87.68" cy="226.90" r="0.45"/><circle cx="88.86" cy="225.63" r="0.45"/><circle cx="92.44" cy="228.42" r="0.45"/><circle cx="92.15" cy="231.92" r="0.45"/><circle cx="93.44" cy="223.47" r="0.45"/><circle cx="92.04" cy="222.19" r="0.45"/><circle cx="90.65" cy="234.33" r="0.45"/><circle cx="90.35" cy="226.78" r="0.45"/><circle cx="91.19" cy="228.06" r="0.45"/><circle cx="90.86" cy="225.50" r="0.45"/><circle cx="93.29" cy="230.93" r="0.45"/><circle cx="90.31" cy="229.04" r="0.45"/><circle cx="92.31" cy="231.41" r="0.45"/><circle cx="91.70" cy="230.29" r="0.45"/><circle cx="90.19" cy="224.47" r="0.45"/><circle cx="89.66" cy="231.36" r="0.45"/></g>
<g fill="#24308a" opacity="0.75" filter="url(#bl)"><circle cx="89.02" cy="228.44" r="0.6"/><circle cx="87.09" cy="228.92" r="0.6"/><circle cx="89.88" cy="232.06" r="0.6"/><circle cx="86.95" cy="227.87" r="0.6"/><circle cx="85.99" cy="224.59" r="0.6"/><circle cx="88.04" cy="228.07" r="0.6"/><circle cx="89.01" cy="231.80" r="0.6"/><circle cx="88.84" cy="231.96" r="0.6"/><circle cx="87.12" cy="224.61" r="0.6"/><circle cx="88.43" cy="236.04" r="0.6"/><circle cx="88.25" cy="224.54" r="0.6"/><circle cx="88.10" cy="232.28" r="0.6"/><circle cx="86.51" cy="230.41" r="0.6"/><circle cx="87.04" cy="231.82" r="0.6"/><circle cx="88.78" cy="228.91" r="0.6"/><circle cx="90.30" cy="226.77" r="0.6"/><circle cx="86.94" cy="233.56" r="0.6"/><circle cx="86.70" cy="234.60" r="0.6"/><circle cx="87.75" cy="224.89" r="0.6"/><circle cx="87.80" cy="228.39" r="0.6"/><circle cx="88.05" cy="227.42" r="0.6"/><circle cx="89.15" cy="221.04" r="0.6"/><circle cx="87.11" cy="227.21" r="0.6"/><circle cx="90.07" cy="222.02" r="0.6"/><circle cx="87.38" cy="224.57" r="0.6"/><circle cx="86.97" cy="229.92" r="0.6"/><circle cx="88.31" cy="232.32" r="0.6"/><circle cx="87.05" cy="228.81" r="0.6"/><circle cx="89.27" cy="230.71" r="0.6"/><circle cx="87.38" cy="231.38" r="0.6"/><circle cx="86.65" cy="233.41" r="0.6"/><circle cx="87.99" cy="227.66" r="0.6"/><circle cx="88.14" cy="230.55" r="0.6"/><circle cx="89.98" cy="227.57" r="0.6"/><circle cx="87.34" cy="229.76" r="0.6"/><circle cx="86.71" cy="222.91" r="0.6"/><circle cx="88.84" cy="226.86" r="0.6"/><circle cx="89.21" cy="224.92" r="0.6"/><circle cx="84.18" cy="228.85" r="0.6"/><circle cx="87.99" cy="232.80" r="0.6"/><circle cx="88.46" cy="228.93" r="0.6"/><circle cx="88.53" cy="226.90" r="0.6"/><circle cx="87.90" cy="223.94" r="0.6"/><circle cx="88.45" cy="225.58" r="0.6"/><circle cx="87.24" cy="230.10" r="0.6"/><circle cx="88.94" cy="224.98" r="0.6"/><circle cx="90.30" cy="226.23" r="0.6"/><circle cx="88.84" cy="230.85" r="0.6"/><circle cx="88.08" cy="228.52" r="0.6"/><circle cx="90.05" cy="230.67" r="0.6"/><circle cx="88.36" cy="222.53" r="0.6"/><circle cx="86.87" cy="231.49" r="0.6"/><circle cx="88.04" cy="225.13" r="0.6"/><circle cx="87.00" cy="227.08" r="0.6"/><circle cx="88.66" cy="229.16" r="0.6"/><circle cx="89.05" cy="225.55" r="0.6"/><circle cx="89.03" cy="226.49" r="0.6"/><circle cx="87.43" cy="233.20" r="0.6"/><circle cx="87.89" cy="227.58" r="0.6"/><circle cx="87.54" cy="226.85" r="0.6"/><circle cx="89.75" cy="232.13" r="0.6"/><circle cx="88.70" cy="228.55" r="0.6"/><circle cx="89.10" cy="227.77" r="0.6"/><circle cx="88.37" cy="229.21" r="0.6"/><circle cx="87.91" cy="232.95" r="0.6"/><circle cx="89.99" cy="231.97" r="0.6"/><circle cx="85.41" cy="233.51" r="0.6"/><circle cx="88.68" cy="226.65" r="0.6"/><circle cx="87.77" cy="231.41" r="0.6"/><circle cx="89.27" cy="230.57" r="0.6"/><circle cx="87.98" cy="228.11" r="0.6"/><circle cx="88.84" cy="227.73" r="0.6"/><circle cx="86.68" cy="226.13" r="0.6"/><circle cx="87.63" cy="229.00" r="0.6"/><circle cx="90.63" cy="223.89" r="0.6"/><circle cx="88.40" cy="227.73" r="0.6"/><circle cx="88.18" cy="232.06" r="0.6"/><circle cx="89.35" cy="227.53" r="0.6"/><circle cx="87.10" cy="223.91" r="0.6"/><circle cx="87.71" cy="231.74" r="0.6"/><circle cx="87.47" cy="230.11" r="0.6"/><circle cx="88.69" cy="229.19" r="0.6"/><circle cx="89.16" cy="227.66" r="0.6"/><circle cx="86.76" cy="224.48" r="0.6"/><circle cx="88.96" cy="226.91" r="0.6"/><circle cx="87.41" cy="230.50" r="0.6"/><circle cx="86.81" cy="233.31" r="0.6"/><circle cx="88.63" cy="226.42" r="0.6"/><circle cx="87.01" cy="231.25" r="0.6"/><circle cx="86.32" cy="226.08" r="0.6"/><circle cx="87.81" cy="228.61" r="0.6"/><circle cx="87.82" cy="229.16" r="0.6"/><circle cx="87.35" cy="227.64" r="0.6"/><circle cx="89.38" cy="229.94" r="0.6"/><circle cx="87.24" cy="233.14" r="0.6"/><circle cx="85.31" cy="228.25" r="0.6"/><circle cx="88.64" cy="230.92" r="0.6"/><circle cx="87.94" cy="226.85" r="0.6"/><circle cx="88.53" cy="227.42" r="0.6"/><circle cx="88.39" cy="219.43" r="0.6"/><circle cx="88.28" cy="225.63" r="0.6"/><circle cx="88.98" cy="230.24" r="0.6"/><circle cx="88.71" cy="226.79" r="0.6"/><circle cx="88.34" cy="226.97" r="0.6"/><circle cx="88.07" cy="227.59" r="0.6"/><circle cx="86.71" cy="233.93" r="0.6"/><circle cx="88.70" cy="221.83" r="0.6"/><circle cx="88.92" cy="223.82" r="0.6"/><circle cx="87.51" cy="226.25" r="0.6"/><circle cx="87.13" cy="228.72" r="0.6"/></g>
<rect x="82.60" y="218.80" width="15.20" height="17.30" fill="none" stroke="#8a8a8a" stroke-width="0.8" />
<text x="73.60" y="215.40" font-size="7.7" textLength="21.8" lengthAdjust="spacingAndGlyphs">26.9%</text>
<path d="M143.09,221.90 L145.09,222.10 L146.13,225.10 L147.66,231.40 L146.89,234.40 L143.47,235.50 L139.29,235.00 L138.06,233.20 L138.92,229.60 L140.81,225.20 Z" fill="#3048a8" stroke="#2a3a98" stroke-width="0.5" stroke-linejoin="round" filter="url(#bl)"/>
<path d="M143.67,223.40 L144.71,223.80 L146.61,231.40 L145.94,233.90 L142.05,234.60 L139.29,234.00 L139.29,230.80 L141.38,226.20 Z" fill="url(#rb1)" stroke-linejoin="round" filter="url(#bl)"/>
<ellipse cx="141.10" cy="232.40" rx="1.5" ry="1.3" fill="#c8761e" opacity="0.7" filter="url(#bl)"/>
<ellipse cx="159.60" cy="228.30" rx="4.6" ry="6.4" fill="#6a78cc" opacity="0.75" filter="url(#bl)"/>
<g fill="#5a66c4" opacity="0.65"><circle cx="165.98" cy="226.11" r="0.45"/><circle cx="161.51" cy="228.78" r="0.45"/><circle cx="162.52" cy="223.67" r="0.45"/><circle cx="159.65" cy="225.82" r="0.45"/><circle cx="158.13" cy="225.52" r="0.45"/><circle cx="159.42" cy="227.35" r="0.45"/><circle cx="158.51" cy="229.69" r="0.45"/><circle cx="159.34" cy="217.75" r="0.45"/><circle cx="163.34" cy="227.01" r="0.45"/><circle cx="158.89" cy="229.19" r="0.45"/><circle cx="161.13" cy="228.47" r="0.45"/><circle cx="158.63" cy="228.93" r="0.45"/><circle cx="157.06" cy="233.06" r="0.45"/><circle cx="157.69" cy="227.62" r="0.45"/><circle cx="160.64" cy="229.02" r="0.45"/><circle cx="160.03" cy="229.89" r="0.45"/><circle cx="152.24" cy="227.53" r="0.45"/><circle cx="159.93" cy="226.44" r="0.45"/><circle cx="163.82" cy="224.65" r="0.45"/><circle cx="160.11" cy="221.15" r="0.45"/><circle cx="160.93" cy="222.49" r="0.45"/><circle cx="156.67" cy="235.68" r="0.45"/><circle cx="161.92" cy="227.84" r="0.45"/><circle cx="160.69" cy="223.07" r="0.45"/><circle cx="157.85" cy="229.27" r="0.45"/><circle cx="155.38" cy="228.77" r="0.45"/><circle cx="156.26" cy="228.27" r="0.45"/><circle cx="157.71" cy="233.73" r="0.45"/><circle cx="162.67" cy="226.14" r="0.45"/><circle cx="155.89" cy="225.24" r="0.45"/><circle cx="160.16" cy="224.54" r="0.45"/><circle cx="160.96" cy="231.18" r="0.45"/><circle cx="160.17" cy="226.41" r="0.45"/><circle cx="162.12" cy="226.87" r="0.45"/><circle cx="162.28" cy="226.80" r="0.45"/><circle cx="164.07" cy="226.93" r="0.45"/><circle cx="157.82" cy="228.19" r="0.45"/><circle cx="158.82" cy="224.72" r="0.45"/><circle cx="160.01" cy="230.38" r="0.45"/><circle cx="155.25" cy="227.73" r="0.45"/><circle cx="159.95" cy="227.39" r="0.45"/><circle cx="162.18" cy="223.50" r="0.45"/><circle cx="161.85" cy="227.12" r="0.45"/><circle cx="160.57" cy="227.15" r="0.45"/><circle cx="159.55" cy="226.14" r="0.45"/><circle cx="161.29" cy="234.96" r="0.45"/><circle cx="162.80" cy="230.78" r="0.45"/><circle cx="161.65" cy="226.34" r="0.45"/><circle cx="161.77" cy="234.89" r="0.45"/><circle cx="157.37" cy="230.74" r="0.45"/><circle cx="162.74" cy="228.92" r="0.45"/><circle cx="162.22" cy="232.65" r="0.45"/><circle cx="165.56" cy="232.38" r="0.45"/><circle cx="164.27" cy="229.15" r="0.45"/><circle cx="162.35" cy="228.64" r="0.45"/><circle cx="161.12" cy="226.52" r="0.45"/><circle cx="162.03" cy="232.93" r="0.45"/><circle cx="160.09" cy="228.95" r="0.45"/><circle cx="161.92" cy="228.18" r="0.45"/><circle cx="162.66" cy="228.98" r="0.45"/><circle cx="157.76" cy="224.70" r="0.45"/><circle cx="162.18" cy="230.25" r="0.45"/><circle cx="163.06" cy="228.99" r="0.45"/><circle cx="160.98" cy="222.91" r="0.45"/><circle cx="163.75" cy="225.10" r="0.45"/><circle cx="162.93" cy="224.38" r="0.45"/><circle cx="158.98" cy="228.70" r="0.45"/><circle cx="159.53" cy="225.86" r="0.45"/><circle cx="162.61" cy="230.45" r="0.45"/><circle cx="161.45" cy="227.08" r="0.45"/></g>
<g fill="#24308a" opacity="0.75" filter="url(#bl)"><circle cx="156.52" cy="226.77" r="0.6"/><circle cx="156.91" cy="228.14" r="0.6"/><circle cx="158.54" cy="227.72" r="0.6"/><circle cx="156.57" cy="226.36" r="0.6"/><circle cx="159.19" cy="228.73" r="0.6"/><circle cx="157.87" cy="229.09" r="0.6"/><circle cx="158.32" cy="228.67" r="0.6"/><circle cx="159.06" cy="230.71" r="0.6"/><circle cx="154.02" cy="227.85" r="0.6"/><circle cx="161.29" cy="224.41" r="0.6"/><circle cx="157.75" cy="231.53" r="0.6"/><circle cx="157.59" cy="232.31" r="0.6"/><circle cx="156.01" cy="224.51" r="0.6"/><circle cx="157.36" cy="226.06" r="0.6"/><circle cx="156.25" cy="230.01" r="0.6"/><circle cx="157.94" cy="228.32" r="0.6"/><circle cx="157.09" cy="229.09" r="0.6"/><circle cx="157.45" cy="226.10" r="0.6"/><circle cx="158.24" cy="229.41" r="0.6"/><circle cx="157.70" cy="230.39" r="0.6"/><circle cx="156.21" cy="227.86" r="0.6"/><circle cx="156.94" cy="232.30" r="0.6"/><circle cx="158.24" cy="234.65" r="0.6"/><circle cx="159.57" cy="227.19" r="0.6"/><circle cx="156.23" cy="229.75" r="0.6"/><circle cx="157.25" cy="227.83" r="0.6"/><circle cx="156.27" cy="230.10" r="0.6"/><circle cx="157.83" cy="229.51" r="0.6"/><circle cx="157.99" cy="225.59" r="0.6"/><circle cx="154.80" cy="227.49" r="0.6"/><circle cx="156.81" cy="226.71" r="0.6"/><circle cx="158.80" cy="228.00" r="0.6"/><circle cx="159.49" cy="228.84" r="0.6"/><circle cx="158.46" cy="229.82" r="0.6"/><circle cx="158.61" cy="224.52" r="0.6"/><circle cx="158.96" cy="228.62" r="0.6"/><circle cx="156.38" cy="230.14" r="0.6"/><circle cx="158.03" cy="232.16" r="0.6"/><circle cx="158.51" cy="229.40" r="0.6"/><circle cx="155.56" cy="233.33" r="0.6"/><circle cx="159.46" cy="230.63" r="0.6"/><circle cx="158.18" cy="231.95" r="0.6"/><circle cx="156.52" cy="230.40" r="0.6"/><circle cx="157.63" cy="225.29" r="0.6"/><circle cx="158.06" cy="229.36" r="0.6"/><circle cx="159.73" cy="231.13" r="0.6"/><circle cx="155.60" cy="222.41" r="0.6"/><circle cx="157.50" cy="227.67" r="0.6"/><circle cx="156.43" cy="223.93" r="0.6"/><circle cx="157.36" cy="224.83" r="0.6"/><circle cx="156.74" cy="230.89" r="0.6"/><circle cx="157.90" cy="226.04" r="0.6"/><circle cx="156.20" cy="227.74" r="0.6"/><circle cx="159.77" cy="226.78" r="0.6"/><circle cx="159.76" cy="225.94" r="0.6"/><circle cx="157.34" cy="230.38" r="0.6"/><circle cx="156.63" cy="228.46" r="0.6"/><circle cx="155.91" cy="230.29" r="0.6"/><circle cx="159.05" cy="226.35" r="0.6"/><circle cx="157.83" cy="227.07" r="0.6"/><circle cx="154.90" cy="236.53" r="0.6"/><circle cx="158.39" cy="230.78" r="0.6"/><circle cx="158.08" cy="228.82" r="0.6"/><circle cx="160.56" cy="222.82" r="0.6"/><circle cx="157.21" cy="227.04" r="0.6"/><circle cx="157.34" cy="230.39" r="0.6"/><circle cx="156.70" cy="224.32" r="0.6"/><circle cx="156.19" cy="229.67" r="0.6"/><circle cx="158.79" cy="230.72" r="0.6"/><circle cx="159.60" cy="226.74" r="0.6"/><circle cx="158.84" cy="230.35" r="0.6"/><circle cx="157.39" cy="226.04" r="0.6"/><circle cx="158.70" cy="226.25" r="0.6"/><circle cx="157.23" cy="225.38" r="0.6"/><circle cx="159.78" cy="228.14" r="0.6"/><circle cx="156.97" cy="227.55" r="0.6"/><circle cx="157.32" cy="228.56" r="0.6"/><circle cx="155.46" cy="224.81" r="0.6"/><circle cx="158.23" cy="231.55" r="0.6"/><circle cx="156.33" cy="228.64" r="0.6"/><circle cx="156.88" cy="221.47" r="0.6"/><circle cx="157.21" cy="225.04" r="0.6"/><circle cx="158.69" cy="227.66" r="0.6"/><circle cx="157.55" cy="223.90" r="0.6"/><circle cx="157.78" cy="222.45" r="0.6"/><circle cx="157.87" cy="232.43" r="0.6"/><circle cx="156.08" cy="230.85" r="0.6"/><circle cx="159.36" cy="227.69" r="0.6"/><circle cx="158.99" cy="228.54" r="0.6"/><circle cx="156.98" cy="222.26" r="0.6"/><circle cx="156.25" cy="223.83" r="0.6"/><circle cx="160.58" cy="229.07" r="0.6"/><circle cx="157.38" cy="224.24" r="0.6"/><circle cx="159.75" cy="224.81" r="0.6"/><circle cx="159.46" cy="231.56" r="0.6"/><circle cx="157.69" cy="226.31" r="0.6"/><circle cx="157.54" cy="224.32" r="0.6"/><circle cx="158.41" cy="233.36" r="0.6"/><circle cx="158.71" cy="231.45" r="0.6"/><circle cx="156.72" cy="229.22" r="0.6"/><circle cx="156.32" cy="226.94" r="0.6"/><circle cx="158.51" cy="235.82" r="0.6"/><circle cx="157.69" cy="228.40" r="0.6"/><circle cx="155.23" cy="228.82" r="0.6"/><circle cx="156.46" cy="224.08" r="0.6"/><circle cx="155.73" cy="228.72" r="0.6"/><circle cx="157.10" cy="230.34" r="0.6"/><circle cx="157.30" cy="228.29" r="0.6"/><circle cx="159.44" cy="230.72" r="0.6"/><circle cx="158.56" cy="232.73" r="0.6"/></g>
<rect x="152.00" y="218.40" width="14.60" height="18.00" fill="none" stroke="#8a8a8a" stroke-width="0.8" />
<text x="143.70" y="214.60" font-size="7.7" textLength="21.8" lengthAdjust="spacingAndGlyphs">22.2%</text>
<ellipse cx="65.8" cy="241.2" rx="1.5" ry="0.8" fill="#111"/>
<ellipse cx="135.2" cy="241.2" rx="1.5" ry="0.8" fill="#111"/>
<line x1="20.8" y1="222" x2="20.8" y2="177.9" stroke="#707070" stroke-width="1.6" />
<path d="M18.70,178.80 L20.80,173.80 L22.90,178.80 Z" fill="#111"/>
<text x="23.80" y="234.40" font-size="8.8" style="stroke-width:0.5px" text-anchor="middle" textLength="18.9" lengthAdjust="spacingAndGlyphs" transform="rotate(-90 23.80 234.40)">FSC-H</text>
<text x="53.80" y="263.90" font-size="8.3" style="stroke-width:0.5px" textLength="23.9" lengthAdjust="spacingAndGlyphs">CytoRed</text>
<line x1="80.8" y1="261.5" x2="181.4" y2="261.5" stroke="#555" stroke-width="1.4" />
<path d="M180.20,259.20 L185.40,261.50 L180.20,263.80 Z" fill="#111"/>
<line x1="227.5" y1="170.3" x2="227.5" y2="240.2" stroke="#1e1e1e" stroke-width="1.3" />
<line x1="224.5" y1="239.7" x2="272" y2="239.7" stroke="#1e1e1e" stroke-width="1.4" />
<line x1="224.5" y1="172.3" x2="227.5" y2="172.3" stroke="#222" stroke-width="0.9" />
<line x1="224.5" y1="189.2" x2="227.5" y2="189.2" stroke="#222" stroke-width="0.9" />
<line x1="224.5" y1="206" x2="227.5" y2="206" stroke="#222" stroke-width="0.9" />
<line x1="224.5" y1="222.9" x2="227.5" y2="222.9" stroke="#222" stroke-width="0.9" />
<line x1="224.5" y1="239.7" x2="227.5" y2="239.7" stroke="#222" stroke-width="0.9" />
<text x="221.30" y="175.00" font-size="8.0" text-anchor="end" textLength="9.4" lengthAdjust="spacingAndGlyphs">40</text>
<text x="221.30" y="208.70" font-size="8.0" text-anchor="end" textLength="9.4" lengthAdjust="spacingAndGlyphs">20</text>
<text x="221.30" y="242.40" font-size="8.0" text-anchor="end" textLength="4.7" lengthAdjust="spacingAndGlyphs">0</text>
<rect x="231.30" y="196.00" width="14.70" height="43.70" fill="#2ba6de" />
<line x1="238.65" y1="189.5" x2="238.65" y2="203.4" stroke="#1a1a1a" stroke-width="1.1" />
<line x1="236.05" y1="189.5" x2="241.25" y2="189.5" stroke="#1a1a1a" stroke-width="1.1" />
<line x1="236.05" y1="203.4" x2="241.25" y2="203.4" stroke="#1a1a1a" stroke-width="1.1" />
<circle cx="238.40" cy="186.50" r="1.25" fill="#0a0a0a"/>
<circle cx="238.40" cy="192.20" r="1.25" fill="#0a0a0a"/>
<circle cx="238.40" cy="209.60" r="1.25" fill="#0a0a0a"/>
<rect x="253.10" y="203.40" width="14.70" height="36.30" fill="#c8102e" />
<circle cx="256.50" cy="201.20" r="1.25" fill="#0a0a0a"/>
<circle cx="261.50" cy="202.50" r="1.25" fill="#0a0a0a"/>
<circle cx="265.50" cy="201.80" r="1.25" fill="#0a0a0a"/>
<line x1="234.3" y1="179.3" x2="256.9" y2="179.3" stroke="#2e2e2e" stroke-width="1.0" />
<text x="245.60" y="176.70" font-size="8.0" text-anchor="middle" textLength="10.4" lengthAdjust="spacingAndGlyphs">NS</text>
<text transform="translate(207.0 204.7) rotate(-90)" text-anchor="middle" font-size="8.2" style="stroke-width:0.4px" textLength="57" lengthAdjust="spacingAndGlyphs">CytoRed<tspan font-size="5.2" dy="-3.2">+</tspan><tspan dy="3.2"> RBCs (%)</tspan></text>
<rect x="275.00" y="170.50" width="5.40" height="5.30" fill="#2ba6de" />
<text x="284.20" y="175.50" font-size="7.2" textLength="27.3" lengthAdjust="spacingAndGlyphs">WT mice</text>
<rect x="275.00" y="181.50" width="5.40" height="5.30" fill="#c8102e" />
<text x="284.20" y="186.60" font-size="7.2" textLength="18.3" lengthAdjust="spacingAndGlyphs">XCR1</text>
<text x="303.00" y="183.20" font-size="5.2" style="stroke-width:0.06px" textLength="22" lengthAdjust="spacingAndGlyphs">DTRvenus</text>
<text x="284.20" y="194.70" font-size="7.2" textLength="14" lengthAdjust="spacingAndGlyphs">mice</text>
<text x="343.00" y="154.20" font-size="10.5" style="stroke-width:0.75px" font-weight="bold" fill="#000">C</text>
<line x1="375.4" y1="168.79999999999998" x2="375.4" y2="240.1" stroke="#222" stroke-width="1.1" />
<line x1="374.9" y1="239.6" x2="502.7" y2="239.6" stroke="#222" stroke-width="1.1" />
<line x1="373.0" y1="239.6" x2="375.4" y2="239.6" stroke="#222" stroke-width="0.9" />
<line x1="373.9" y1="228.2" x2="375.4" y2="228.2" stroke="#222" stroke-width="0.9" />
<line x1="373.0" y1="216.79999999999998" x2="375.4" y2="216.79999999999998" stroke="#222" stroke-width="0.9" />
<line x1="373.9" y1="205.39999999999998" x2="375.4" y2="205.39999999999998" stroke="#222" stroke-width="0.9" />
<line x1="373.0" y1="194.0" x2="375.4" y2="194.0" stroke="#222" stroke-width="0.9" />
<line x1="373.9" y1="182.6" x2="375.4" y2="182.6" stroke="#222" stroke-width="0.9" />
<line x1="373.0" y1="171.2" x2="375.4" y2="171.2" stroke="#222" stroke-width="0.9" />
<text x="370.20" y="242.30" font-size="8.0" text-anchor="end" textLength="4.45" lengthAdjust="spacingAndGlyphs">0</text>
<text x="370.20" y="219.50" font-size="8.0" text-anchor="end" textLength="8.9" lengthAdjust="spacingAndGlyphs">40</text>
<text x="370.20" y="196.70" font-size="8.0" text-anchor="end" textLength="8.9" lengthAdjust="spacingAndGlyphs">80</text>
<text x="370.20" y="173.90" font-size="8.0" text-anchor="end" textLength="13.350000000000001" lengthAdjust="spacingAndGlyphs">120</text>
<line x1="375.4" y1="239.6" x2="375.4" y2="242.2" stroke="#222" stroke-width="0.9" />
<text x="375.40" y="252.10" font-size="8.0" text-anchor="middle" textLength="4.45" lengthAdjust="spacingAndGlyphs">0</text>
<line x1="404.15" y1="239.6" x2="404.15" y2="242.2" stroke="#222" stroke-width="0.9" />
<text x="404.15" y="252.10" font-size="8.0" text-anchor="middle" textLength="4.45" lengthAdjust="spacingAndGlyphs">5</text>
<line x1="432.9" y1="239.6" x2="432.9" y2="242.2" stroke="#222" stroke-width="0.9" />
<text x="432.90" y="252.10" font-size="8.0" text-anchor="middle" textLength="8.9" lengthAdjust="spacingAndGlyphs">10</text>
<line x1="461.65" y1="239.6" x2="461.65" y2="242.2" stroke="#222" stroke-width="0.9" />
<text x="461.65" y="252.10" font-size="8.0" text-anchor="middle" textLength="8.9" lengthAdjust="spacingAndGlyphs">15</text>
<line x1="490.4" y1="239.6" x2="490.4" y2="242.2" stroke="#222" stroke-width="0.9" />
<text x="490.40" y="252.10" font-size="8.0" text-anchor="middle" textLength="8.9" lengthAdjust="spacingAndGlyphs">20</text>
<path d="M375.40,183.17 L378.27,194.00 L381.15,198.27 L392.65,207.11 L409.90,211.38 L490.40,225.12" fill="none" stroke="#2fa9da" stroke-width="1.1"/>
<path d="M375.40,183.17 L378.27,192.00 L381.15,194.00 L392.65,204.49 L409.90,208.48 L490.40,233.61" fill="none" stroke="#b8163c" stroke-width="1.1"/>
<line x1="378.275" y1="190.295" x2="378.275" y2="193.71499999999997" stroke="#222" stroke-width="0.8" />
<line x1="376.67499999999995" y1="190.295" x2="379.875" y2="190.295" stroke="#222" stroke-width="0.8" />
<line x1="376.67499999999995" y1="193.71499999999997" x2="379.875" y2="193.71499999999997" stroke="#222" stroke-width="0.8" />
<line x1="381.15" y1="192.29" x2="381.15" y2="195.70999999999998" stroke="#222" stroke-width="0.8" />
<line x1="379.54999999999995" y1="192.29" x2="382.75" y2="192.29" stroke="#222" stroke-width="0.8" />
<line x1="379.54999999999995" y1="195.70999999999998" x2="382.75" y2="195.70999999999998" stroke="#222" stroke-width="0.8" />
<line x1="392.65" y1="203.34799999999998" x2="392.65" y2="205.628" stroke="#222" stroke-width="0.8" />
<line x1="391.04999999999995" y1="203.34799999999998" x2="394.25" y2="203.34799999999998" stroke="#222" stroke-width="0.8" />
<line x1="391.04999999999995" y1="205.628" x2="394.25" y2="205.628" stroke="#222" stroke-width="0.8" />
<line x1="409.9" y1="206.76799999999997" x2="409.9" y2="210.188" stroke="#222" stroke-width="0.8" />
<line x1="408.29999999999995" y1="206.76799999999997" x2="411.5" y2="206.76799999999997" stroke="#222" stroke-width="0.8" />
<line x1="408.29999999999995" y1="210.188" x2="411.5" y2="210.188" stroke="#222" stroke-width="0.8" />
<line x1="490.4" y1="233.045" x2="490.4" y2="234.185" stroke="#222" stroke-width="0.8" />
<line x1="488.79999999999995" y1="233.045" x2="492.0" y2="233.045" stroke="#222" stroke-width="0.8" />
<line x1="488.79999999999995" y1="234.185" x2="492.0" y2="234.185" stroke="#222" stroke-width="0.8" />
<circle cx="375.40" cy="183.17" r="1.75" fill="#b0506a" stroke="#3a0c1a" stroke-width="1.0"/>
<circle cx="378.27" cy="192.00" r="1.75" fill="#b0506a" stroke="#3a0c1a" stroke-width="1.0"/>
<circle cx="381.15" cy="194.00" r="1.75" fill="#b0506a" stroke="#3a0c1a" stroke-width="1.0"/>
<circle cx="392.65" cy="204.49" r="1.75" fill="#b0506a" stroke="#3a0c1a" stroke-width="1.0"/>
<circle cx="409.90" cy="208.48" r="1.75" fill="#b0506a" stroke="#3a0c1a" stroke-width="1.0"/>
<circle cx="490.40" cy="233.61" r="1.75" fill="#e8e0e2" stroke="#3a0c1a" stroke-width="1.0"/>
<line x1="378.275" y1="191.72" x2="378.275" y2="196.27999999999997" stroke="#222" stroke-width="0.8" />
<line x1="376.67499999999995" y1="191.72" x2="379.875" y2="191.72" stroke="#222" stroke-width="0.8" />
<line x1="376.67499999999995" y1="196.27999999999997" x2="379.875" y2="196.27999999999997" stroke="#222" stroke-width="0.8" />
<line x1="381.15" y1="195.425" x2="381.15" y2="201.125" stroke="#222" stroke-width="0.8" />
<line x1="379.54999999999995" y1="195.425" x2="382.75" y2="195.425" stroke="#222" stroke-width="0.8" />
<line x1="379.54999999999995" y1="201.125" x2="382.75" y2="201.125" stroke="#222" stroke-width="0.8" />
<line x1="392.65" y1="204.26" x2="392.65" y2="209.95999999999998" stroke="#222" stroke-width="0.8" />
<line x1="391.04999999999995" y1="204.26" x2="394.25" y2="204.26" stroke="#222" stroke-width="0.8" />
<line x1="391.04999999999995" y1="209.95999999999998" x2="394.25" y2="209.95999999999998" stroke="#222" stroke-width="0.8" />
<line x1="409.9" y1="208.535" x2="409.9" y2="214.23499999999999" stroke="#222" stroke-width="0.8" />
<line x1="408.29999999999995" y1="208.535" x2="411.5" y2="208.535" stroke="#222" stroke-width="0.8" />
<line x1="408.29999999999995" y1="214.23499999999999" x2="411.5" y2="214.23499999999999" stroke="#222" stroke-width="0.8" />
<line x1="490.4" y1="221.702" x2="490.4" y2="228.542" stroke="#222" stroke-width="0.8" />
<line x1="488.79999999999995" y1="221.702" x2="492.0" y2="221.702" stroke="#222" stroke-width="0.8" />
<line x1="488.79999999999995" y1="228.542" x2="492.0" y2="228.542" stroke="#222" stroke-width="0.8" />
<circle cx="375.40" cy="183.17" r="2.25" fill="#111"/>
<circle cx="378.27" cy="194.00" r="2.25" fill="#111"/>
<circle cx="381.15" cy="198.27" r="2.25" fill="#111"/>
<circle cx="392.65" cy="207.11" r="2.25" fill="#111"/>
<circle cx="409.90" cy="211.38" r="2.25" fill="#111"/>
<circle cx="490.40" cy="225.12" r="2.25" fill="#111"/>
<text x="351.40" y="0.00" font-size="1" style="stroke-width:0.06px"></text>
<text transform="translate(351.0 206) rotate(-90)" text-anchor="middle" font-size="8.2" style="stroke-width:0.4px" textLength="51.4" lengthAdjust="spacingAndGlyphs">RBC recovery (%)</text>
<text x="426.50" y="264.70" font-size="8.6" style="stroke-width:0.5px" textLength="23.5" lengthAdjust="spacingAndGlyphs">Time (h)</text>
<line x1="425.4" y1="172" x2="435.4" y2="172" stroke="#333" stroke-width="1" />
<circle cx="430.50" cy="172.00" r="2.3" fill="#111"/>
<text x="440.00" y="174.60" font-size="7.2" textLength="27" lengthAdjust="spacingAndGlyphs">WT mice</text>
<line x1="425.4" y1="183.1" x2="435.4" y2="183.1" stroke="#b8163c" stroke-width="1" />
<circle cx="430.50" cy="183.10" r="1.8" fill="#fff" stroke="#2a0a12" stroke-width="1.0"/>
<text x="440.00" y="185.60" font-size="7.2" textLength="17.7" lengthAdjust="spacingAndGlyphs">XCR1</text>
<text x="458.50" y="182.00" font-size="5.2" style="stroke-width:0.06px" textLength="22.3" lengthAdjust="spacingAndGlyphs">DTRvenus</text>
<text x="483.00" y="185.60" font-size="7.2" textLength="14" lengthAdjust="spacingAndGlyphs">mice</text>
<path d="M497.5,228.1 L499.5,228.1 L499.5,235.5 L497.5,235.5" fill="none" stroke="#222" stroke-width="1.1"/>
<text x="502.50" y="234.50" font-size="7.1" textLength="10.8" lengthAdjust="spacingAndGlyphs">NS</text>
<text x="6.70" y="291.90" font-size="10.5" style="stroke-width:0.75px" font-weight="bold" fill="#000">D</text>
<text x="122.00" y="294.20" font-size="9" text-anchor="middle" textLength="22.9" lengthAdjust="spacingAndGlyphs">cDCs</text>
<line x1="54" y1="298.7" x2="186.3" y2="298.7" stroke="#333" stroke-width="1" />
<text x="69.00" y="308.70" font-size="8.4" textLength="21.0" lengthAdjust="spacingAndGlyphs" font-style="italic">Sirpα</text>
<text x="90.40" y="305.70" font-size="6.0" textLength="6.1" lengthAdjust="spacingAndGlyphs">f/f</text>
<text x="135.30" y="309.00" font-size="8.4" textLength="21.0" lengthAdjust="spacingAndGlyphs" font-style="italic">Sirpα</text>
<text x="156.70" y="306.00" font-size="6.0" textLength="14.4" lengthAdjust="spacingAndGlyphs">ΔDC</text>
<rect x="51.70" y="315.80" width="64.90" height="64.20" fill="#fff" stroke="#b4b4b4" stroke-width="0.8" />
<line x1="50.5" y1="321.7" x2="52.900000000000006" y2="321.7" stroke="#555" stroke-width="0.6" />
<line x1="50.5" y1="337.5" x2="52.900000000000006" y2="337.5" stroke="#555" stroke-width="0.6" />
<line x1="50.5" y1="353.8" x2="52.900000000000006" y2="353.8" stroke="#555" stroke-width="0.6" />
<line x1="50.5" y1="364.8" x2="52.900000000000006" y2="364.8" stroke="#555" stroke-width="0.6" />
<line x1="50.5" y1="375.6" x2="52.900000000000006" y2="375.6" stroke="#555" stroke-width="0.6" />
<line x1="51.1" y1="332.7437260685091" x2="52.300000000000004" y2="332.7437260685091" stroke="#555" stroke-width="0.6" />
<line x1="51.1" y1="329.96148417542935" x2="52.300000000000004" y2="329.96148417542935" stroke="#555" stroke-width="0.6" />
<line x1="51.1" y1="327.9874521370182" x2="52.300000000000004" y2="327.9874521370182" stroke="#555" stroke-width="0.6" />
<line x1="51.1" y1="326.4562739314909" x2="52.300000000000004" y2="326.4562739314909" stroke="#555" stroke-width="0.6" />
<line x1="51.1" y1="325.20521024393844" x2="52.300000000000004" y2="325.20521024393844" stroke="#555" stroke-width="0.6" />
<line x1="51.1" y1="324.1474509677747" x2="52.300000000000004" y2="324.1474509677747" stroke="#555" stroke-width="0.6" />
<line x1="51.1" y1="323.23117820552727" x2="52.300000000000004" y2="323.23117820552727" stroke="#555" stroke-width="0.6" />
<line x1="51.1" y1="322.42296835085864" x2="52.300000000000004" y2="322.42296835085864" stroke="#555" stroke-width="0.6" />
<line x1="51.1" y1="348.8932110706771" x2="52.300000000000004" y2="348.8932110706771" stroke="#555" stroke-width="0.6" />
<line x1="51.1" y1="346.0229235480695" x2="52.300000000000004" y2="346.0229235480695" stroke="#555" stroke-width="0.6" />
<line x1="51.1" y1="343.98642214135424" x2="52.300000000000004" y2="343.98642214135424" stroke="#555" stroke-width="0.6" />
<line x1="51.1" y1="342.4067889293229" x2="52.300000000000004" y2="342.4067889293229" stroke="#555" stroke-width="0.6" />
<line x1="51.1" y1="341.1161346187466" x2="52.300000000000004" y2="341.1161346187466" stroke="#555" stroke-width="0.6" />
<line x1="51.1" y1="340.0249019477676" x2="52.300000000000004" y2="340.0249019477676" stroke="#555" stroke-width="0.6" />
<line x1="51.1" y1="339.0796332120313" x2="52.300000000000004" y2="339.0796332120313" stroke="#555" stroke-width="0.6" />
<line x1="51.1" y1="338.245847096139" x2="52.300000000000004" y2="338.245847096139" stroke="#555" stroke-width="0.6" />
<line x1="56.4" y1="378.8" x2="56.4" y2="381.2" stroke="#555" stroke-width="0.6" />
<line x1="65.60000000000001" y1="378.8" x2="65.60000000000001" y2="381.2" stroke="#555" stroke-width="0.6" />
<line x1="76.9" y1="378.8" x2="76.9" y2="381.2" stroke="#555" stroke-width="0.6" />
<line x1="94.4" y1="378.8" x2="94.4" y2="381.2" stroke="#555" stroke-width="0.6" />
<line x1="109.9" y1="378.8" x2="109.9" y2="381.2" stroke="#555" stroke-width="0.6" />
<line x1="82.16802492411968" y1="379.4" x2="82.16802492411968" y2="380.6" stroke="#555" stroke-width="0.6" />
<line x1="85.2496219575941" y1="379.4" x2="85.2496219575941" y2="380.6" stroke="#555" stroke-width="0.6" />
<line x1="87.43604984823935" y1="379.4" x2="87.43604984823935" y2="380.6" stroke="#555" stroke-width="0.6" />
<line x1="89.13197507588033" y1="379.4" x2="89.13197507588033" y2="380.6" stroke="#555" stroke-width="0.6" />
<line x1="90.51764688171377" y1="379.4" x2="90.51764688171377" y2="380.6" stroke="#555" stroke-width="0.6" />
<line x1="91.6892157002495" y1="379.4" x2="91.6892157002495" y2="380.6" stroke="#555" stroke-width="0.6" />
<line x1="92.70407477235902" y1="379.4" x2="92.70407477235902" y2="380.6" stroke="#555" stroke-width="0.6" />
<line x1="93.5992439151882" y1="379.4" x2="93.5992439151882" y2="380.6" stroke="#555" stroke-width="0.6" />
<line x1="99.06596493279172" y1="379.4" x2="99.06596493279172" y2="380.6" stroke="#555" stroke-width="0.6" />
<line x1="101.79537944815478" y1="379.4" x2="101.79537944815478" y2="380.6" stroke="#555" stroke-width="0.6" />
<line x1="103.73192986558342" y1="379.4" x2="103.73192986558342" y2="380.6" stroke="#555" stroke-width="0.6" />
<line x1="105.2340350672083" y1="379.4" x2="105.2340350672083" y2="380.6" stroke="#555" stroke-width="0.6" />
<line x1="106.46134438094649" y1="379.4" x2="106.46134438094649" y2="380.6" stroke="#555" stroke-width="0.6" />
<line x1="107.49901962022099" y1="379.4" x2="107.49901962022099" y2="380.6" stroke="#555" stroke-width="0.6" />
<line x1="108.39789479837513" y1="379.4" x2="108.39789479837513" y2="380.6" stroke="#555" stroke-width="0.6" />
<line x1="109.19075889630955" y1="379.4" x2="109.19075889630955" y2="380.6" stroke="#555" stroke-width="0.6" />
<text x="46.90" y="390.20" font-size="7.2" textLength="13.2" lengthAdjust="spacingAndGlyphs">−10</text>
<text x="60.60" y="387.60" font-size="4.9" style="stroke-width:0.06px">3</text>
<text x="63.90" y="390.20" font-size="7.2">0</text>
<text x="70.40" y="390.20" font-size="7.2" textLength="8.3" lengthAdjust="spacingAndGlyphs">10</text>
<text x="79.00" y="387.60" font-size="4.9" style="stroke-width:0.06px">3</text>
<text x="88.40" y="390.20" font-size="7.2" textLength="8.3" lengthAdjust="spacingAndGlyphs">10</text>
<text x="97.00" y="387.60" font-size="4.9" style="stroke-width:0.06px">4</text>
<text x="103.60" y="390.20" font-size="7.2" textLength="8.3" lengthAdjust="spacingAndGlyphs">10</text>
<text x="112.20" y="387.60" font-size="4.9" style="stroke-width:0.06px">5</text>
<rect x="121.30" y="315.80" width="64.90" height="64.20" fill="#fff" stroke="#b4b4b4" stroke-width="0.8" />
<line x1="120.1" y1="321.7" x2="122.5" y2="321.7" stroke="#555" stroke-width="0.6" />
<line x1="120.1" y1="337.5" x2="122.5" y2="337.5" stroke="#555" stroke-width="0.6" />
<line x1="120.1" y1="353.8" x2="122.5" y2="353.8" stroke="#555" stroke-width="0.6" />
<line x1="120.1" y1="364.8" x2="122.5" y2="364.8" stroke="#555" stroke-width="0.6" />
<line x1="120.1" y1="375.6" x2="122.5" y2="375.6" stroke="#555" stroke-width="0.6" />
<line x1="120.7" y1="332.7437260685091" x2="121.89999999999999" y2="332.7437260685091" stroke="#555" stroke-width="0.6" />
<line x1="120.7" y1="329.96148417542935" x2="121.89999999999999" y2="329.96148417542935" stroke="#555" stroke-width="0.6" />
<line x1="120.7" y1="327.9874521370182" x2="121.89999999999999" y2="327.9874521370182" stroke="#555" stroke-width="0.6" />
<line x1="120.7" y1="326.4562739314909" x2="121.89999999999999" y2="326.4562739314909" stroke="#555" stroke-width="0.6" />
<line x1="120.7" y1="325.20521024393844" x2="121.89999999999999" y2="325.20521024393844" stroke="#555" stroke-width="0.6" />
<line x1="120.7" y1="324.1474509677747" x2="121.89999999999999" y2="324.1474509677747" stroke="#555" stroke-width="0.6" />
<line x1="120.7" y1="323.23117820552727" x2="121.89999999999999" y2="323.23117820552727" stroke="#555" stroke-width="0.6" />
<line x1="120.7" y1="322.42296835085864" x2="121.89999999999999" y2="322.42296835085864" stroke="#555" stroke-width="0.6" />
<line x1="120.7" y1="348.8932110706771" x2="121.89999999999999" y2="348.8932110706771" stroke="#555" stroke-width="0.6" />
<line x1="120.7" y1="346.0229235480695" x2="121.89999999999999" y2="346.0229235480695" stroke="#555" stroke-width="0.6" />
<line x1="120.7" y1="343.98642214135424" x2="121.89999999999999" y2="343.98642214135424" stroke="#555" stroke-width="0.6" />
<line x1="120.7" y1="342.4067889293229" x2="121.89999999999999" y2="342.4067889293229" stroke="#555" stroke-width="0.6" />
<line x1="120.7" y1="341.1161346187466" x2="121.89999999999999" y2="341.1161346187466" stroke="#555" stroke-width="0.6" />
<line x1="120.7" y1="340.0249019477676" x2="121.89999999999999" y2="340.0249019477676" stroke="#555" stroke-width="0.6" />
<line x1="120.7" y1="339.0796332120313" x2="121.89999999999999" y2="339.0796332120313" stroke="#555" stroke-width="0.6" />
<line x1="120.7" y1="338.245847096139" x2="121.89999999999999" y2="338.245847096139" stroke="#555" stroke-width="0.6" />
<line x1="126.0" y1="378.8" x2="126.0" y2="381.2" stroke="#555" stroke-width="0.6" />
<line x1="135.20000000000002" y1="378.8" x2="135.20000000000002" y2="381.2" stroke="#555" stroke-width="0.6" />
<line x1="146.5" y1="378.8" x2="146.5" y2="381.2" stroke="#555" stroke-width="0.6" />
<line x1="164.0" y1="378.8" x2="164.0" y2="381.2" stroke="#555" stroke-width="0.6" />
<line x1="179.5" y1="378.8" x2="179.5" y2="381.2" stroke="#555" stroke-width="0.6" />
<line x1="151.76802492411966" y1="379.4" x2="151.76802492411966" y2="380.6" stroke="#555" stroke-width="0.6" />
<line x1="154.8496219575941" y1="379.4" x2="154.8496219575941" y2="380.6" stroke="#555" stroke-width="0.6" />
<line x1="157.03604984823934" y1="379.4" x2="157.03604984823934" y2="380.6" stroke="#555" stroke-width="0.6" />
<line x1="158.73197507588034" y1="379.4" x2="158.73197507588034" y2="380.6" stroke="#555" stroke-width="0.6" />
<line x1="160.11764688171377" y1="379.4" x2="160.11764688171377" y2="380.6" stroke="#555" stroke-width="0.6" />
<line x1="161.2892157002495" y1="379.4" x2="161.2892157002495" y2="380.6" stroke="#555" stroke-width="0.6" />
<line x1="162.30407477235903" y1="379.4" x2="162.30407477235903" y2="380.6" stroke="#555" stroke-width="0.6" />
<line x1="163.1992439151882" y1="379.4" x2="163.1992439151882" y2="380.6" stroke="#555" stroke-width="0.6" />
<line x1="168.6659649327917" y1="379.4" x2="168.6659649327917" y2="380.6" stroke="#555" stroke-width="0.6" />
<line x1="171.39537944815478" y1="379.4" x2="171.39537944815478" y2="380.6" stroke="#555" stroke-width="0.6" />
<line x1="173.33192986558342" y1="379.4" x2="173.33192986558342" y2="380.6" stroke="#555" stroke-width="0.6" />
<line x1="174.8340350672083" y1="379.4" x2="174.8340350672083" y2="380.6" stroke="#555" stroke-width="0.6" />
<line x1="176.06134438094648" y1="379.4" x2="176.06134438094648" y2="380.6" stroke="#555" stroke-width="0.6" />
<line x1="177.099019620221" y1="379.4" x2="177.099019620221" y2="380.6" stroke="#555" stroke-width="0.6" />
<line x1="177.99789479837514" y1="379.4" x2="177.99789479837514" y2="380.6" stroke="#555" stroke-width="0.6" />
<line x1="178.79075889630954" y1="379.4" x2="178.79075889630954" y2="380.6" stroke="#555" stroke-width="0.6" />
<text x="45.00" y="323.80" font-size="7.2" text-anchor="end">10</text>
<text x="45.20" y="321.30" font-size="4.9" style="stroke-width:0.06px">5</text>
<text x="45.00" y="339.40" font-size="7.2" text-anchor="end">10</text>
<text x="45.20" y="336.90" font-size="4.9" style="stroke-width:0.06px">4</text>
<text x="45.00" y="355.60" font-size="7.2" text-anchor="end">10</text>
<text x="45.20" y="353.10" font-size="4.9" style="stroke-width:0.06px">3</text>
<text x="46.40" y="366.90" font-size="7.2" text-anchor="end">0</text>
<text x="45.00" y="377.40" font-size="7.2" text-anchor="end">−10</text>
<text x="45.20" y="374.90" font-size="4.9" style="stroke-width:0.06px">3</text>
<path d="M63.3,327 C63.3,323.5 66,322.8 70,323.2 C76,324 82,329.5 86,335 C82,340 77,344.5 71,346.5 C66,347.5 63.3,346 63.3,342 Z" fill="#dedede" filter="url(#bl)"/>
<ellipse cx="68" cy="334" rx="4.2" ry="8.5" fill="#a8a8a8" filter="url(#bl3)"/>
<ellipse cx="67.8" cy="333" rx="2" ry="5" fill="#888" filter="url(#bl3)"/>
<g><path d="M63.80,326.00 C63.80,323.50 66.30,323.20 68.80,324.00 C72.80,325.50 83.80,331.50 86.80,334.50 C83.80,337.50 72.80,344.50 68.80,346.00 C65.80,346.80 63.80,345.50 63.80,343.50 Z" fill="none" stroke="#b0b0b0" stroke-width="0.5"/><path d="M64.70,328.20 C64.70,325.70 67.20,325.40 69.70,326.20 C73.70,327.70 80.10,331.50 83.10,334.50 C80.10,337.50 73.70,342.10 69.70,343.60 C66.70,344.40 64.70,343.10 64.70,341.10 Z" fill="none" stroke="#b4b4b4" stroke-width="0.5"/><path d="M65.60,330.40 C65.60,327.90 68.10,327.60 70.60,328.40 C74.60,329.90 76.40,331.50 79.40,334.50 C76.40,337.50 74.60,339.70 70.60,341.20 C67.60,342.00 65.60,340.70 65.60,338.70 Z" fill="none" stroke="#a8a8a8" stroke-width="0.5"/><path d="M66.50,332.60 C66.50,330.10 69.00,329.80 71.50,330.60 C75.50,332.10 72.70,331.50 75.70,334.50 C72.70,337.50 75.50,337.30 71.50,338.80 C68.50,339.60 66.50,338.30 66.50,336.30 Z" fill="none" stroke="#a0a0a0" stroke-width="0.5"/></g>
<rect x="64" y="346" width="10" height="14" fill="#e0e0e0" filter="url(#bl)"/>
<line x1="65.5" y1="347" x2="65.5" y2="359" stroke="#d0d0d0" stroke-width="0.4" />
<line x1="68" y1="347" x2="68" y2="359" stroke="#d0d0d0" stroke-width="0.4" />
<line x1="70.5" y1="347" x2="70.5" y2="359" stroke="#d0d0d0" stroke-width="0.4" />
<line x1="73" y1="347" x2="73" y2="359" stroke="#d0d0d0" stroke-width="0.4" />
<ellipse cx="67.6" cy="362.8" rx="4.2" ry="3.4" fill="#b0b0b0" filter="url(#bl)"/>
<path d="M71,360.8 C68,359.6 64.8,360.2 64.6,362.8 C64.5,365.5 68,366 71,365" fill="none" stroke="#555" stroke-width="1.3" filter="url(#bl)"/>
<line x1="67" y1="362.8" x2="74" y2="362.8" stroke="#e4e4e4" stroke-width="1.2"/>
<ellipse cx="91" cy="359.8" rx="13.5" ry="6.8" fill="#d4d4d4" filter="url(#bl2)"/>
<rect x="70" y="360.2" width="12" height="5.4" fill="#d0d0d0" filter="url(#bl)"/>
<rect x="79.3" y="355.5" width="22" height="11" rx="4.5" fill="#bdbdbd" filter="url(#bl3)"/>
<rect x="79.3" y="359.2" width="20" height="7.2" rx="3.4" fill="#989898" filter="url(#bl3)"/>
<rect x="80.2" y="360.0" width="18" height="5.6" rx="2.7" fill="none" stroke="#585858" stroke-width="1.2" filter="url(#bl)"/>
<rect x="81.5" y="362.0" width="12.5" height="1.5" rx="0.7" fill="#dedede" filter="url(#bl)"/>
<line x1="82" y1="355.0" x2="98" y2="355.0" stroke="#bcbcbc" stroke-width="0.45" />
<line x1="82" y1="356.8" x2="98" y2="356.8" stroke="#bcbcbc" stroke-width="0.45" />
<path d="M81,357.5 C86,354.5 95,354.5 100,357" fill="none" stroke="#b4b4b4" stroke-width="0.5"/>
<rect x="61.80" y="321.20" width="28.90" height="27.10" fill="none" stroke="#8a8a8a" stroke-width="0.8" />
<rect x="77.50" y="351.40" width="30.10" height="17.10" fill="none" stroke="#222" stroke-width="1.0" />
<text x="82.70" y="378.80" font-size="7.7" textLength="22" lengthAdjust="spacingAndGlyphs">40.8%</text>
<path d="M132.89999999999998,327 C132.89999999999998,323.5 135.6,322.8 139.6,323.2 C145.6,324 152.6,329.5 156.6,335 C152.6,340 146.6,345 140.6,347 C135.6,348 132.89999999999998,346.5 132.89999999999998,342 Z" fill="#d2d2d2" filter="url(#bl)"/>
<path d="M133.1,327.5 C133.1,324.5 135.1,323.8 137.6,324 C141.1,324.3 143.6,326.5 144.1,330 C144.6,334 141.6,336 140.6,340 C140.1,343 139.6,346.5 136.6,347 C134.1,347.2 133.1,345 133.1,341 Z" fill="#858585" filter="url(#bl3)"/>
<ellipse cx="138.1" cy="332.5" rx="2.6" ry="4.2" fill="#b4b4b4" filter="url(#bl)"/>
<g><path d="M133.40,326.00 C133.40,323.50 135.90,323.20 138.40,324.00 C142.40,325.50 153.40,331.50 156.40,334.50 C153.40,337.50 142.40,344.50 138.40,346.00 C135.40,346.80 133.40,345.50 133.40,343.50 Z" fill="none" stroke="#9a9a9a" stroke-width="0.5"/><path d="M134.30,328.20 C134.30,325.70 136.80,325.40 139.30,326.20 C143.30,327.70 149.70,331.50 152.70,334.50 C149.70,337.50 143.30,342.10 139.30,343.60 C136.30,344.40 134.30,343.10 134.30,341.10 Z" fill="none" stroke="#a0a0a0" stroke-width="0.5"/><path d="M135.20,330.40 C135.20,327.90 137.70,327.60 140.20,328.40 C144.20,329.90 146.00,331.50 149.00,334.50 C146.00,337.50 144.20,339.70 140.20,341.20 C137.20,342.00 135.20,340.70 135.20,338.70 Z" fill="none" stroke="#a8a8a8" stroke-width="0.5"/><path d="M136.10,332.60 C136.10,330.10 138.60,329.80 141.10,330.60 C145.10,332.10 142.30,331.50 145.30,334.50 C142.30,337.50 145.10,337.30 141.10,338.80 C138.10,339.60 136.10,338.30 136.10,336.30 Z" fill="none" stroke="#b0b0b0" stroke-width="0.5"/></g>
<rect x="132.89999999999998" y="346" width="8" height="15" fill="#c4c4c4" filter="url(#bl)"/>
<line x1="134.1" y1="347" x2="134.1" y2="360" stroke="#a0a0a0" stroke-width="0.4" />
<line x1="136.1" y1="347" x2="136.1" y2="360" stroke="#a0a0a0" stroke-width="0.4" />
<line x1="138.1" y1="347" x2="138.1" y2="360" stroke="#a0a0a0" stroke-width="0.4" />
<line x1="139.89999999999998" y1="347" x2="139.89999999999998" y2="360" stroke="#a0a0a0" stroke-width="0.4" />
<ellipse cx="136.89999999999998" cy="363" rx="4.2" ry="3.3" fill="#9a9a9a" filter="url(#bl)"/>
<path d="M140.1,360.5 C137.6,359.5 134.1,360 133.8,363 C133.6,366 137.6,366.5 140.6,365.5" fill="none" stroke="#3a3a3a" stroke-width="1.3" filter="url(#bl)"/>
<g><path d="M150.70,356.80 C150.70,354.30 153.20,354.00 155.70,354.80 C159.70,356.30 166.70,357.50 169.70,360.50 C166.70,363.50 159.70,364.30 155.70,365.80 C152.70,366.60 150.70,365.30 150.70,363.30 Z" fill="none" stroke="#c4c4c4" stroke-width="0.5"/><path d="M151.60,358.04 C151.60,355.54 154.10,355.24 156.60,356.04 C160.60,357.54 163.80,357.50 166.80,360.50 C163.80,363.50 160.60,363.14 156.60,364.64 C153.60,365.44 151.60,364.14 151.60,362.14 Z" fill="none" stroke="#bcbcbc" stroke-width="0.5"/><path d="M152.50,359.28 C152.50,356.78 155.00,356.48 157.50,357.28 C161.50,358.78 160.90,357.50 163.90,360.50 C160.90,363.50 161.50,361.98 157.50,363.48 C154.50,364.28 152.50,362.98 152.50,360.98 Z" fill="none" stroke="#b4b4b4" stroke-width="0.5"/><path d="M153.40,360.52 C153.40,358.02 155.90,357.72 158.40,358.52 C162.40,360.02 158.00,357.50 161.00,360.50 C158.00,363.50 162.40,360.82 158.40,362.32 C155.40,363.12 153.40,361.82 153.40,359.82 Z" fill="none" stroke="#acacac" stroke-width="0.5"/></g>
<rect x="131.00" y="321.30" width="28.60" height="27.70" fill="none" stroke="#8a8a8a" stroke-width="0.8" />
<rect x="146.40" y="351.50" width="30.50" height="17.00" fill="none" stroke="#222" stroke-width="1.0" />
<text x="153.60" y="377.80" font-size="7.7" textLength="21.4" lengthAdjust="spacingAndGlyphs">10.6%</text>
<ellipse cx="51.6" cy="364.6" rx="0.8" ry="1.4" fill="#111"/>
<ellipse cx="66.0" cy="381.0" rx="1.5" ry="0.8" fill="#111"/>
<ellipse cx="121.2" cy="364.6" rx="0.8" ry="1.4" fill="#111"/>
<ellipse cx="135.8" cy="381.0" rx="1.5" ry="0.8" fill="#111"/>
<line x1="20.9" y1="352.7" x2="20.9" y2="320.4" stroke="#707070" stroke-width="1.6" />
<path d="M18.80,321.30 L20.90,316.30 L23.00,321.30 Z" fill="#111"/>
<text x="25.80" y="370.00" font-size="8.4" style="stroke-width:0.5px" text-anchor="middle" textLength="27.2" lengthAdjust="spacingAndGlyphs" transform="rotate(-90 25.80 370.00)">CD8α-PE</text>
<text x="55.90" y="404.00" font-size="9" style="stroke-width:0.5px" textLength="25.3" lengthAdjust="spacingAndGlyphs">CD4-APC</text>
<line x1="85.6" y1="401" x2="181.7" y2="401" stroke="#555" stroke-width="1.4" />
<path d="M180.50,398.70 L185.70,401.00 L180.50,403.30 Z" fill="#111"/>
<text x="238.10" y="292.40" font-size="8.5" textLength="19" lengthAdjust="spacingAndGlyphs">CD8</text>
<text x="257.00" y="289.60" font-size="7">+</text>
<text x="236.00" y="303.60" font-size="8.5" textLength="27.8" lengthAdjust="spacingAndGlyphs">cDC1s</text>
<line x1="227.5" y1="309.6" x2="227.5" y2="379.8" stroke="#1e1e1e" stroke-width="1.3" />
<line x1="224.5" y1="379.3" x2="272" y2="379.3" stroke="#1e1e1e" stroke-width="1.4" />
<line x1="224.5" y1="311.6" x2="227.5" y2="311.6" stroke="#222" stroke-width="0.9" />
<line x1="224.5" y1="328.6" x2="227.5" y2="328.6" stroke="#222" stroke-width="0.9" />
<line x1="224.5" y1="345.5" x2="227.5" y2="345.5" stroke="#222" stroke-width="0.9" />
<line x1="224.5" y1="362.5" x2="227.5" y2="362.5" stroke="#222" stroke-width="0.9" />
<line x1="224.5" y1="379.4" x2="227.5" y2="379.4" stroke="#222" stroke-width="0.9" />
<text x="221.30" y="314.30" font-size="8.0" text-anchor="end" textLength="4.7" lengthAdjust="spacingAndGlyphs">4</text>
<text x="221.30" y="348.20" font-size="8.0" text-anchor="end" textLength="4.7" lengthAdjust="spacingAndGlyphs">2</text>
<text x="221.30" y="382.10" font-size="8.0" text-anchor="end" textLength="4.7" lengthAdjust="spacingAndGlyphs">0</text>
<rect x="231.00" y="334.40" width="15.00" height="44.90" fill="#2ba6de" />
<line x1="238.5" y1="327.4" x2="238.5" y2="341.4" stroke="#1a1a1a" stroke-width="1.1" />
<line x1="235.9" y1="327.4" x2="241.1" y2="327.4" stroke="#1a1a1a" stroke-width="1.1" />
<line x1="235.9" y1="341.4" x2="241.1" y2="341.4" stroke="#1a1a1a" stroke-width="1.1" />
<circle cx="236.80" cy="326.40" r="1.25" fill="#0a0a0a"/>
<circle cx="241.00" cy="327.60" r="1.25" fill="#0a0a0a"/>
<circle cx="238.60" cy="349.00" r="1.25" fill="#0a0a0a"/>
<rect x="253.40" y="344.00" width="14.60" height="35.30" fill="#c8102e" />
<line x1="260.7" y1="337" x2="260.7" y2="346" stroke="#1a1a1a" stroke-width="1.1" />
<line x1="258.09999999999997" y1="337" x2="263.3" y2="337" stroke="#1a1a1a" stroke-width="1.1" />
<line x1="258.09999999999997" y1="346" x2="263.3" y2="346" stroke="#1a1a1a" stroke-width="1.1" />
<circle cx="261.00" cy="337.60" r="1.25" fill="#0a0a0a"/>
<circle cx="261.00" cy="342.40" r="1.25" fill="#0a0a0a"/>
<circle cx="261.00" cy="350.40" r="1.25" fill="#0a0a0a"/>
<line x1="238.6" y1="319" x2="263.6" y2="319" stroke="#2e2e2e" stroke-width="1.0" />
<text x="251.00" y="315.30" font-size="8.0" text-anchor="middle" textLength="10.4" lengthAdjust="spacingAndGlyphs">NS</text>
<text transform="translate(211.6 344.1) rotate(-90)" text-anchor="middle" font-size="8.4" style="stroke-width:0.4px" textLength="22.2" lengthAdjust="spacingAndGlyphs">10<tspan font-size="5.2" dy="-3.2">5</tspan><tspan dy="3.2"> cells</tspan></text>
<text x="303.00" y="292.80" font-size="8.5" textLength="19" lengthAdjust="spacingAndGlyphs">CD4</text>
<text x="322.00" y="290.00" font-size="7">+</text>
<text x="301.00" y="303.60" font-size="8.5" textLength="28.4" lengthAdjust="spacingAndGlyphs">cDC2s</text>
<line x1="292.5" y1="309.6" x2="292.5" y2="379.8" stroke="#1e1e1e" stroke-width="1.3" />
<line x1="289.5" y1="379.3" x2="336" y2="379.3" stroke="#1e1e1e" stroke-width="1.4" />
<line x1="289.5" y1="311.6" x2="292.5" y2="311.6" stroke="#222" stroke-width="0.9" />
<line x1="289.5" y1="328.6" x2="292.5" y2="328.6" stroke="#222" stroke-width="0.9" />
<line x1="289.5" y1="345.5" x2="292.5" y2="345.5" stroke="#222" stroke-width="0.9" />
<line x1="289.5" y1="362.5" x2="292.5" y2="362.5" stroke="#222" stroke-width="0.9" />
<line x1="289.5" y1="379.4" x2="292.5" y2="379.4" stroke="#222" stroke-width="0.9" />
<text x="286.30" y="314.30" font-size="8.0" text-anchor="end" textLength="4.7" lengthAdjust="spacingAndGlyphs">8</text>
<text x="286.30" y="348.20" font-size="8.0" text-anchor="end" textLength="4.7" lengthAdjust="spacingAndGlyphs">4</text>
<text x="286.30" y="382.10" font-size="8.0" text-anchor="end" textLength="4.7" lengthAdjust="spacingAndGlyphs">0</text>
<rect x="297.00" y="340.00" width="14.00" height="39.30" fill="#2ba6de" />
<line x1="304.0" y1="332.4" x2="304.0" y2="347" stroke="#1a1a1a" stroke-width="1.1" />
<line x1="301.4" y1="332.4" x2="306.6" y2="332.4" stroke="#1a1a1a" stroke-width="1.1" />
<line x1="301.4" y1="347" x2="306.6" y2="347" stroke="#1a1a1a" stroke-width="1.1" />
<circle cx="304.00" cy="328.60" r="1.25" fill="#0a0a0a"/>
<circle cx="304.00" cy="338.00" r="1.25" fill="#0a0a0a"/>
<circle cx="304.00" cy="354.00" r="1.25" fill="#0a0a0a"/>
<rect x="318.60" y="376.60" width="14.40" height="2.70" fill="#c8102e" />
<circle cx="322.50" cy="375.60" r="1.25" fill="#0a0a0a"/>
<circle cx="326.00" cy="376.20" r="1.25" fill="#0a0a0a"/>
<circle cx="329.50" cy="376.00" r="1.25" fill="#0a0a0a"/>
<line x1="304.2" y1="318.6" x2="326.5" y2="318.6" stroke="#2e2e2e" stroke-width="1.0" />
<circle cx="313.60" cy="314.70" r="1.0" fill="#151515"/>
<circle cx="316.80" cy="314.70" r="1.0" fill="#151515"/>
<rect x="340.40" y="313.80" width="5.40" height="5.40" fill="#2ba6de" />
<text x="349.00" y="319.00" font-size="7.2" textLength="17.3" lengthAdjust="spacingAndGlyphs" font-style="italic">Sirpα</text>
<text x="366.80" y="316.30" font-size="4.6" style="stroke-width:0.06px" textLength="4.1" lengthAdjust="spacingAndGlyphs">f/f</text>
<text x="372.60" y="319.00" font-size="7.2" textLength="13.8" lengthAdjust="spacingAndGlyphs">mice</text>
<rect x="340.40" y="324.70" width="5.40" height="5.40" fill="#c8102e" />
<text x="349.00" y="329.30" font-size="7.2" textLength="17.3" lengthAdjust="spacingAndGlyphs" font-style="italic">Sirpα</text>
<text x="366.80" y="326.60" font-size="4.6" style="stroke-width:0.06px" textLength="9.8" lengthAdjust="spacingAndGlyphs">ΔDC</text>
<text x="378.60" y="329.30" font-size="7.2" textLength="14.5" lengthAdjust="spacingAndGlyphs">mice</text>
<text x="7.00" y="430.80" font-size="10.5" style="stroke-width:0.75px" font-weight="bold" fill="#000">E</text>
<text x="92.50" y="429.80" font-size="9" textLength="55" lengthAdjust="spacingAndGlyphs">Spleen RBCs</text>
<line x1="54.8" y1="434.4" x2="186.5" y2="434.4" stroke="#333" stroke-width="1" />
<text x="69.40" y="445.00" font-size="8.4" textLength="21.0" lengthAdjust="spacingAndGlyphs" font-style="italic">Sirpα</text>
<text x="90.80" y="442.00" font-size="6.0" textLength="6.1" lengthAdjust="spacingAndGlyphs">f/f</text>
<text x="134.80" y="445.00" font-size="8.4" textLength="21.0" lengthAdjust="spacingAndGlyphs" font-style="italic">Sirpα</text>
<text x="156.20" y="442.00" font-size="6.0" textLength="14.4" lengthAdjust="spacingAndGlyphs">ΔDC</text>
<rect x="51.90" y="450.60" width="64.70" height="65.70" fill="#fff" stroke="#b4b4b4" stroke-width="0.8" />
<line x1="50.699999999999996" y1="452.7" x2="53.1" y2="452.7" stroke="#555" stroke-width="0.6" />
<line x1="50.699999999999996" y1="465.4" x2="53.1" y2="465.4" stroke="#555" stroke-width="0.6" />
<line x1="50.699999999999996" y1="478.1" x2="53.1" y2="478.1" stroke="#555" stroke-width="0.6" />
<line x1="50.699999999999996" y1="490.8" x2="53.1" y2="490.8" stroke="#555" stroke-width="0.6" />
<line x1="50.699999999999996" y1="503.5" x2="53.1" y2="503.5" stroke="#555" stroke-width="0.6" />
<line x1="50.699999999999996" y1="516.2" x2="53.1" y2="516.2" stroke="#555" stroke-width="0.6" />
<line x1="51.3" y1="459.04999999999995" x2="52.5" y2="459.04999999999995" stroke="#555" stroke-width="0.6" />
<line x1="51.3" y1="471.75" x2="52.5" y2="471.75" stroke="#555" stroke-width="0.6" />
<line x1="51.3" y1="484.45000000000005" x2="52.5" y2="484.45000000000005" stroke="#555" stroke-width="0.6" />
<line x1="51.3" y1="497.15" x2="52.5" y2="497.15" stroke="#555" stroke-width="0.6" />
<line x1="51.3" y1="509.85" x2="52.5" y2="509.85" stroke="#555" stroke-width="0.6" />
<line x1="56.6" y1="515.0999999999999" x2="56.6" y2="517.5" stroke="#555" stroke-width="0.6" />
<line x1="65.8" y1="515.0999999999999" x2="65.8" y2="517.5" stroke="#555" stroke-width="0.6" />
<line x1="77.1" y1="515.0999999999999" x2="77.1" y2="517.5" stroke="#555" stroke-width="0.6" />
<line x1="94.6" y1="515.0999999999999" x2="94.6" y2="517.5" stroke="#555" stroke-width="0.6" />
<line x1="110.1" y1="515.0999999999999" x2="110.1" y2="517.5" stroke="#555" stroke-width="0.6" />
<line x1="82.36802492411967" y1="515.6999999999999" x2="82.36802492411967" y2="516.9" stroke="#555" stroke-width="0.6" />
<line x1="85.44962195759409" y1="515.6999999999999" x2="85.44962195759409" y2="516.9" stroke="#555" stroke-width="0.6" />
<line x1="87.63604984823934" y1="515.6999999999999" x2="87.63604984823934" y2="516.9" stroke="#555" stroke-width="0.6" />
<line x1="89.33197507588032" y1="515.6999999999999" x2="89.33197507588032" y2="516.9" stroke="#555" stroke-width="0.6" />
<line x1="90.71764688171376" y1="515.6999999999999" x2="90.71764688171376" y2="516.9" stroke="#555" stroke-width="0.6" />
<line x1="91.8892157002495" y1="515.6999999999999" x2="91.8892157002495" y2="516.9" stroke="#555" stroke-width="0.6" />
<line x1="92.90407477235901" y1="515.6999999999999" x2="92.90407477235901" y2="516.9" stroke="#555" stroke-width="0.6" />
<line x1="93.79924391518819" y1="515.6999999999999" x2="93.79924391518819" y2="516.9" stroke="#555" stroke-width="0.6" />
<line x1="99.2659649327917" y1="515.6999999999999" x2="99.2659649327917" y2="516.9" stroke="#555" stroke-width="0.6" />
<line x1="101.99537944815476" y1="515.6999999999999" x2="101.99537944815476" y2="516.9" stroke="#555" stroke-width="0.6" />
<line x1="103.93192986558341" y1="515.6999999999999" x2="103.93192986558341" y2="516.9" stroke="#555" stroke-width="0.6" />
<line x1="105.43403506720828" y1="515.6999999999999" x2="105.43403506720828" y2="516.9" stroke="#555" stroke-width="0.6" />
<line x1="106.66134438094647" y1="515.6999999999999" x2="106.66134438094647" y2="516.9" stroke="#555" stroke-width="0.6" />
<line x1="107.69901962022098" y1="515.6999999999999" x2="107.69901962022098" y2="516.9" stroke="#555" stroke-width="0.6" />
<line x1="108.59789479837512" y1="515.6999999999999" x2="108.59789479837512" y2="516.9" stroke="#555" stroke-width="0.6" />
<line x1="109.39075889630953" y1="515.6999999999999" x2="109.39075889630953" y2="516.9" stroke="#555" stroke-width="0.6" />
<text x="47.10" y="527.60" font-size="7.2" textLength="13.2" lengthAdjust="spacingAndGlyphs">−10</text>
<text x="60.80" y="525.00" font-size="4.9" style="stroke-width:0.06px">3</text>
<text x="64.10" y="527.60" font-size="7.2">0</text>
<text x="70.60" y="527.60" font-size="7.2" textLength="8.3" lengthAdjust="spacingAndGlyphs">10</text>
<text x="79.20" y="525.00" font-size="4.9" style="stroke-width:0.06px">3</text>
<text x="88.60" y="527.60" font-size="7.2" textLength="8.3" lengthAdjust="spacingAndGlyphs">10</text>
<text x="97.20" y="525.00" font-size="4.9" style="stroke-width:0.06px">4</text>
<text x="103.80" y="527.60" font-size="7.2" textLength="8.3" lengthAdjust="spacingAndGlyphs">10</text>
<text x="112.40" y="525.00" font-size="4.9" style="stroke-width:0.06px">5</text>
<rect x="121.30" y="450.60" width="64.70" height="65.70" fill="#fff" stroke="#b4b4b4" stroke-width="0.8" />
<line x1="120.10000000000001" y1="452.7" x2="122.50000000000001" y2="452.7" stroke="#555" stroke-width="0.6" />
<line x1="120.10000000000001" y1="465.4" x2="122.50000000000001" y2="465.4" stroke="#555" stroke-width="0.6" />
<line x1="120.10000000000001" y1="478.1" x2="122.50000000000001" y2="478.1" stroke="#555" stroke-width="0.6" />
<line x1="120.10000000000001" y1="490.8" x2="122.50000000000001" y2="490.8" stroke="#555" stroke-width="0.6" />
<line x1="120.10000000000001" y1="503.5" x2="122.50000000000001" y2="503.5" stroke="#555" stroke-width="0.6" />
<line x1="120.10000000000001" y1="516.2" x2="122.50000000000001" y2="516.2" stroke="#555" stroke-width="0.6" />
<line x1="120.70000000000002" y1="459.04999999999995" x2="121.9" y2="459.04999999999995" stroke="#555" stroke-width="0.6" />
<line x1="120.70000000000002" y1="471.75" x2="121.9" y2="471.75" stroke="#555" stroke-width="0.6" />
<line x1="120.70000000000002" y1="484.45000000000005" x2="121.9" y2="484.45000000000005" stroke="#555" stroke-width="0.6" />
<line x1="120.70000000000002" y1="497.15" x2="121.9" y2="497.15" stroke="#555" stroke-width="0.6" />
<line x1="120.70000000000002" y1="509.85" x2="121.9" y2="509.85" stroke="#555" stroke-width="0.6" />
<line x1="126.0" y1="515.0999999999999" x2="126.0" y2="517.5" stroke="#555" stroke-width="0.6" />
<line x1="135.20000000000002" y1="515.0999999999999" x2="135.20000000000002" y2="517.5" stroke="#555" stroke-width="0.6" />
<line x1="146.5" y1="515.0999999999999" x2="146.5" y2="517.5" stroke="#555" stroke-width="0.6" />
<line x1="164.0" y1="515.0999999999999" x2="164.0" y2="517.5" stroke="#555" stroke-width="0.6" />
<line x1="179.5" y1="515.0999999999999" x2="179.5" y2="517.5" stroke="#555" stroke-width="0.6" />
<line x1="151.76802492411966" y1="515.6999999999999" x2="151.76802492411966" y2="516.9" stroke="#555" stroke-width="0.6" />
<line x1="154.8496219575941" y1="515.6999999999999" x2="154.8496219575941" y2="516.9" stroke="#555" stroke-width="0.6" />
<line x1="157.03604984823934" y1="515.6999999999999" x2="157.03604984823934" y2="516.9" stroke="#555" stroke-width="0.6" />
<line x1="158.73197507588034" y1="515.6999999999999" x2="158.73197507588034" y2="516.9" stroke="#555" stroke-width="0.6" />
<line x1="160.11764688171377" y1="515.6999999999999" x2="160.11764688171377" y2="516.9" stroke="#555" stroke-width="0.6" />
<line x1="161.2892157002495" y1="515.6999999999999" x2="161.2892157002495" y2="516.9" stroke="#555" stroke-width="0.6" />
<line x1="162.30407477235903" y1="515.6999999999999" x2="162.30407477235903" y2="516.9" stroke="#555" stroke-width="0.6" />
<line x1="163.1992439151882" y1="515.6999999999999" x2="163.1992439151882" y2="516.9" stroke="#555" stroke-width="0.6" />
<line x1="168.6659649327917" y1="515.6999999999999" x2="168.6659649327917" y2="516.9" stroke="#555" stroke-width="0.6" />
<line x1="171.39537944815478" y1="515.6999999999999" x2="171.39537944815478" y2="516.9" stroke="#555" stroke-width="0.6" />
<line x1="173.33192986558342" y1="515.6999999999999" x2="173.33192986558342" y2="516.9" stroke="#555" stroke-width="0.6" />
<line x1="174.8340350672083" y1="515.6999999999999" x2="174.8340350672083" y2="516.9" stroke="#555" stroke-width="0.6" />
<line x1="176.06134438094648" y1="515.6999999999999" x2="176.06134438094648" y2="516.9" stroke="#555" stroke-width="0.6" />
<line x1="177.099019620221" y1="515.6999999999999" x2="177.099019620221" y2="516.9" stroke="#555" stroke-width="0.6" />
<line x1="177.99789479837514" y1="515.6999999999999" x2="177.99789479837514" y2="516.9" stroke="#555" stroke-width="0.6" />
<line x1="178.79075889630954" y1="515.6999999999999" x2="178.79075889630954" y2="516.9" stroke="#555" stroke-width="0.6" />
<text x="47.20" y="456.10" font-size="7.9" text-anchor="end" textLength="18.2" lengthAdjust="spacingAndGlyphs">250K</text>
<text x="47.20" y="468.70" font-size="7.9" text-anchor="end" textLength="18.2" lengthAdjust="spacingAndGlyphs">200K</text>
<text x="47.20" y="481.30" font-size="7.9" text-anchor="end" textLength="18.2" lengthAdjust="spacingAndGlyphs">150K</text>
<text x="47.20" y="493.90" font-size="7.9" text-anchor="end" textLength="18.2" lengthAdjust="spacingAndGlyphs">100K</text>
<text x="47.20" y="506.50" font-size="7.9" text-anchor="end" textLength="13.6" lengthAdjust="spacingAndGlyphs">50K</text>
<text x="47.20" y="519.10" font-size="7.9" text-anchor="end">0</text>
<line x1="67.2" y1="484" x2="67.2" y2="510.8" stroke="#8cc4d4" stroke-width="1.4" opacity="0.7"/>
<line x1="67.2" y1="484" x2="67.2" y2="496.1" stroke="#5868c0" stroke-width="0.9" opacity="0.75"/>
<line x1="67.2" y1="496.1" x2="67.2" y2="510.8" stroke="#3aa890" stroke-width="0.8" opacity="0.7"/>
<ellipse cx="84" cy="500" rx="6" ry="8.5" fill="#7080d0" opacity="0.45" filter="url(#bl2)"/>
<g opacity="0.7"><rect x="79.2" y="495.8" width="0.8" height="0.8" fill="#5060c4"/><rect x="89.5" y="499.7" width="0.8" height="0.8" fill="#8090d8"/><rect x="87.2" y="489.9" width="0.8" height="0.8" fill="#6a78d0"/><rect x="89.7" y="500.7" width="0.8" height="0.8" fill="#6a78d0"/><rect x="85.5" y="499.0" width="0.8" height="0.8" fill="#6a78d0"/><rect x="80.1" y="494.9" width="0.8" height="0.8" fill="#8090d8"/><rect x="85.8" y="494.2" width="0.8" height="0.8" fill="#6a78d0"/><rect x="81.1" y="489.5" width="0.8" height="0.8" fill="#6a78d0"/><rect x="74.4" y="502.7" width="0.8" height="0.8" fill="#6a78d0"/><rect x="90.8" y="497.2" width="0.8" height="0.8" fill="#6a78d0"/><rect x="80.8" y="496.4" width="0.8" height="0.8" fill="#6a78d0"/><rect x="88.0" y="496.8" width="0.8" height="0.8" fill="#8090d8"/><rect x="84.5" y="493.9" width="0.8" height="0.8" fill="#5060c4"/><rect x="78.9" y="496.7" width="0.8" height="0.8" fill="#6a78d0"/><rect x="81.5" y="493.9" width="0.8" height="0.8" fill="#5060c4"/><rect x="86.0" y="503.2" width="0.8" height="0.8" fill="#8090d8"/><rect x="84.1" y="500.8" width="0.8" height="0.8" fill="#8090d8"/><rect x="87.0" y="489.7" width="0.8" height="0.8" fill="#5060c4"/><rect x="85.8" y="497.7" width="0.8" height="0.8" fill="#8090d8"/><rect x="79.6" y="496.2" width="0.8" height="0.8" fill="#5060c4"/><rect x="84.8" y="491.5" width="0.8" height="0.8" fill="#6a78d0"/><rect x="89.0" y="496.6" width="0.8" height="0.8" fill="#8090d8"/><rect x="76.9" y="502.5" width="0.8" height="0.8" fill="#6a78d0"/><rect x="81.7" y="496.1" width="0.8" height="0.8" fill="#6a78d0"/><rect x="83.5" y="504.9" width="0.8" height="0.8" fill="#5060c4"/><rect x="78.5" y="488.6" width="0.8" height="0.8" fill="#6a78d0"/><rect x="79.4" y="499.8" width="0.8" height="0.8" fill="#8090d8"/><rect x="85.0" y="507.7" width="0.8" height="0.8" fill="#6a78d0"/><rect x="81.8" y="504.4" width="0.8" height="0.8" fill="#6a78d0"/><rect x="83.6" y="506.1" width="0.8" height="0.8" fill="#6a78d0"/><rect x="76.2" y="508.0" width="0.8" height="0.8" fill="#5060c4"/><rect x="90.4" y="491.9" width="0.8" height="0.8" fill="#8090d8"/><rect x="77.3" y="497.8" width="0.8" height="0.8" fill="#6a78d0"/><rect x="87.8" y="508.1" width="0.8" height="0.8" fill="#8090d8"/><rect x="88.1" y="505.6" width="0.8" height="0.8" fill="#8090d8"/><rect x="78.4" y="497.0" width="0.8" height="0.8" fill="#6a78d0"/><rect x="81.9" y="497.8" width="0.8" height="0.8" fill="#8090d8"/><rect x="88.8" y="486.5" width="0.8" height="0.8" fill="#8090d8"/><rect x="82.4" y="498.5" width="0.8" height="0.8" fill="#6a78d0"/><rect x="88.0" y="506.8" width="0.8" height="0.8" fill="#8090d8"/><rect x="90.4" y="509.7" width="0.8" height="0.8" fill="#5060c4"/><rect x="88.1" y="496.0" width="0.8" height="0.8" fill="#8090d8"/><rect x="90.2" y="492.5" width="0.8" height="0.8" fill="#8090d8"/><rect x="81.1" y="506.5" width="0.8" height="0.8" fill="#5060c4"/><rect x="86.1" y="503.2" width="0.8" height="0.8" fill="#5060c4"/><rect x="87.2" y="499.9" width="0.8" height="0.8" fill="#5060c4"/><rect x="77.7" y="494.5" width="0.8" height="0.8" fill="#6a78d0"/><rect x="74.9" y="504.5" width="0.8" height="0.8" fill="#5060c4"/><rect x="83.5" y="501.9" width="0.8" height="0.8" fill="#5060c4"/><rect x="91.3" y="492.8" width="0.8" height="0.8" fill="#6a78d0"/><rect x="88.1" y="498.3" width="0.8" height="0.8" fill="#5060c4"/><rect x="79.3" y="499.9" width="0.8" height="0.8" fill="#8090d8"/><rect x="86.9" y="496.8" width="0.8" height="0.8" fill="#8090d8"/><rect x="86.8" y="507.5" width="0.8" height="0.8" fill="#8090d8"/><rect x="84.6" y="502.0" width="0.8" height="0.8" fill="#8090d8"/><rect x="88.2" y="493.9" width="0.8" height="0.8" fill="#5060c4"/><rect x="83.1" y="491.5" width="0.8" height="0.8" fill="#5060c4"/><rect x="80.3" y="497.1" width="0.8" height="0.8" fill="#8090d8"/><rect x="90.5" y="507.1" width="0.8" height="0.8" fill="#6a78d0"/><rect x="85.7" y="508.3" width="0.8" height="0.8" fill="#8090d8"/><rect x="89.0" y="491.6" width="0.8" height="0.8" fill="#6a78d0"/><rect x="85.2" y="486.6" width="0.8" height="0.8" fill="#6a78d0"/><rect x="81.3" y="504.4" width="0.8" height="0.8" fill="#8090d8"/><rect x="84.4" y="489.2" width="0.8" height="0.8" fill="#8090d8"/><rect x="79.9" y="500.2" width="0.8" height="0.8" fill="#8090d8"/><rect x="80.1" y="498.7" width="0.8" height="0.8" fill="#8090d8"/><rect x="81.0" y="494.0" width="0.8" height="0.8" fill="#8090d8"/><rect x="78.6" y="499.8" width="0.8" height="0.8" fill="#8090d8"/><rect x="82.2" y="497.5" width="0.8" height="0.8" fill="#5060c4"/><rect x="82.3" y="486.6" width="0.8" height="0.8" fill="#8090d8"/><rect x="86.6" y="496.7" width="0.8" height="0.8" fill="#5060c4"/><rect x="92.0" y="498.5" width="0.8" height="0.8" fill="#6a78d0"/><rect x="77.3" y="492.6" width="0.8" height="0.8" fill="#8090d8"/><rect x="88.4" y="499.6" width="0.8" height="0.8" fill="#8090d8"/><rect x="88.5" y="502.1" width="0.8" height="0.8" fill="#8090d8"/><rect x="83.4" y="503.4" width="0.8" height="0.8" fill="#6a78d0"/><rect x="81.7" y="507.3" width="0.8" height="0.8" fill="#6a78d0"/><rect x="87.1" y="497.6" width="0.8" height="0.8" fill="#5060c4"/><rect x="86.3" y="490.2" width="0.8" height="0.8" fill="#8090d8"/><rect x="78.6" y="495.2" width="0.8" height="0.8" fill="#5060c4"/><rect x="83.3" y="500.9" width="0.8" height="0.8" fill="#5060c4"/><rect x="82.8" y="498.1" width="0.8" height="0.8" fill="#8090d8"/><rect x="87.2" y="493.6" width="0.8" height="0.8" fill="#5060c4"/><rect x="78.4" y="489.8" width="0.8" height="0.8" fill="#6a78d0"/><rect x="76.1" y="490.3" width="0.8" height="0.8" fill="#6a78d0"/><rect x="79.4" y="498.5" width="0.8" height="0.8" fill="#8090d8"/><rect x="74.4" y="504.4" width="0.8" height="0.8" fill="#6a78d0"/><rect x="82.1" y="489.8" width="0.8" height="0.8" fill="#5060c4"/><rect x="77.6" y="502.4" width="0.8" height="0.8" fill="#8090d8"/><rect x="88.2" y="487.4" width="0.8" height="0.8" fill="#8090d8"/><rect x="89.8" y="496.7" width="0.8" height="0.8" fill="#8090d8"/><rect x="85.8" y="506.0" width="0.8" height="0.8" fill="#6a78d0"/><rect x="81.9" y="495.5" width="0.8" height="0.8" fill="#8090d8"/><rect x="92.8" y="497.0" width="0.8" height="0.8" fill="#8090d8"/><rect x="81.6" y="496.4" width="0.8" height="0.8" fill="#6a78d0"/><rect x="87.0" y="500.3" width="0.8" height="0.8" fill="#5060c4"/><rect x="75.3" y="493.7" width="0.8" height="0.8" fill="#8090d8"/><rect x="85.4" y="498.3" width="0.8" height="0.8" fill="#5060c4"/><rect x="84.2" y="496.2" width="0.8" height="0.8" fill="#6a78d0"/><rect x="81.0" y="499.2" width="0.8" height="0.8" fill="#8090d8"/><rect x="88.2" y="496.7" width="0.8" height="0.8" fill="#6a78d0"/><rect x="79.4" y="495.4" width="0.8" height="0.8" fill="#5060c4"/><rect x="79.1" y="490.6" width="0.8" height="0.8" fill="#6a78d0"/><rect x="76.7" y="506.8" width="0.8" height="0.8" fill="#6a78d0"/><rect x="90.3" y="506.0" width="0.8" height="0.8" fill="#8090d8"/><rect x="83.0" y="490.5" width="0.8" height="0.8" fill="#6a78d0"/><rect x="79.0" y="492.5" width="0.8" height="0.8" fill="#5060c4"/><rect x="82.1" y="509.0" width="0.8" height="0.8" fill="#5060c4"/><rect x="81.3" y="502.3" width="0.8" height="0.8" fill="#5060c4"/><rect x="80.3" y="493.0" width="0.8" height="0.8" fill="#5060c4"/><rect x="89.5" y="493.8" width="0.8" height="0.8" fill="#8090d8"/><rect x="82.1" y="498.5" width="0.8" height="0.8" fill="#6a78d0"/><rect x="83.3" y="492.5" width="0.8" height="0.8" fill="#5060c4"/><rect x="75.3" y="500.8" width="0.8" height="0.8" fill="#6a78d0"/><rect x="85.1" y="504.6" width="0.8" height="0.8" fill="#6a78d0"/><rect x="84.1" y="504.3" width="0.8" height="0.8" fill="#5060c4"/><rect x="77.5" y="496.4" width="0.8" height="0.8" fill="#5060c4"/><rect x="84.2" y="495.4" width="0.8" height="0.8" fill="#6a78d0"/><rect x="85.7" y="499.4" width="0.8" height="0.8" fill="#6a78d0"/><rect x="87.5" y="503.9" width="0.8" height="0.8" fill="#6a78d0"/><rect x="79.7" y="489.2" width="0.8" height="0.8" fill="#6a78d0"/><rect x="76.3" y="488.4" width="0.8" height="0.8" fill="#5060c4"/><rect x="87.8" y="508.5" width="0.8" height="0.8" fill="#5060c4"/><rect x="79.6" y="500.6" width="0.8" height="0.8" fill="#6a78d0"/><rect x="79.5" y="503.6" width="0.8" height="0.8" fill="#5060c4"/><rect x="82.3" y="488.9" width="0.8" height="0.8" fill="#6a78d0"/><rect x="83.7" y="503.3" width="0.8" height="0.8" fill="#8090d8"/><rect x="88.0" y="499.5" width="0.8" height="0.8" fill="#5060c4"/><rect x="80.0" y="497.7" width="0.8" height="0.8" fill="#5060c4"/><rect x="87.2" y="487.0" width="0.8" height="0.8" fill="#5060c4"/><rect x="73.9" y="497.4" width="0.8" height="0.8" fill="#6a78d0"/><rect x="82.4" y="489.3" width="0.8" height="0.8" fill="#5060c4"/><rect x="87.2" y="500.8" width="0.8" height="0.8" fill="#6a78d0"/><rect x="85.0" y="504.8" width="0.8" height="0.8" fill="#5060c4"/><rect x="85.6" y="495.6" width="0.8" height="0.8" fill="#6a78d0"/><rect x="78.8" y="506.4" width="0.8" height="0.8" fill="#6a78d0"/><rect x="78.5" y="500.1" width="0.8" height="0.8" fill="#8090d8"/><rect x="87.2" y="507.8" width="0.8" height="0.8" fill="#6a78d0"/><rect x="81.6" y="501.3" width="0.8" height="0.8" fill="#5060c4"/><rect x="91.5" y="491.3" width="0.8" height="0.8" fill="#6a78d0"/><rect x="80.1" y="507.8" width="0.8" height="0.8" fill="#6a78d0"/><rect x="90.4" y="501.5" width="0.8" height="0.8" fill="#6a78d0"/><rect x="80.1" y="500.1" width="0.8" height="0.8" fill="#6a78d0"/><rect x="79.3" y="499.2" width="0.8" height="0.8" fill="#5060c4"/><rect x="76.3" y="509.1" width="0.8" height="0.8" fill="#8090d8"/><rect x="83.7" y="492.9" width="0.8" height="0.8" fill="#6a78d0"/><rect x="76.8" y="501.8" width="0.8" height="0.8" fill="#5060c4"/><rect x="79.2" y="498.1" width="0.8" height="0.8" fill="#6a78d0"/><rect x="90.8" y="493.2" width="0.8" height="0.8" fill="#6a78d0"/><rect x="84.7" y="499.2" width="0.8" height="0.8" fill="#8090d8"/><rect x="77.3" y="503.1" width="0.8" height="0.8" fill="#5060c4"/><rect x="90.9" y="493.4" width="0.8" height="0.8" fill="#6a78d0"/><rect x="85.9" y="492.1" width="0.8" height="0.8" fill="#6a78d0"/><rect x="84.0" y="487.1" width="0.8" height="0.8" fill="#8090d8"/><rect x="78.0" y="496.7" width="0.8" height="0.8" fill="#5060c4"/><rect x="87.5" y="497.4" width="0.8" height="0.8" fill="#6a78d0"/><rect x="85.8" y="494.8" width="0.8" height="0.8" fill="#5060c4"/><rect x="77.8" y="492.8" width="0.8" height="0.8" fill="#5060c4"/><rect x="90.2" y="498.3" width="0.8" height="0.8" fill="#5060c4"/><rect x="87.8" y="506.9" width="0.8" height="0.8" fill="#5060c4"/><rect x="89.0" y="506.5" width="0.8" height="0.8" fill="#8090d8"/><rect x="89.1" y="496.1" width="0.8" height="0.8" fill="#5060c4"/><rect x="86.4" y="505.1" width="0.8" height="0.8" fill="#6a78d0"/><rect x="84.1" y="504.9" width="0.8" height="0.8" fill="#8090d8"/><rect x="87.2" y="505.7" width="0.8" height="0.8" fill="#8090d8"/><rect x="81.6" y="504.2" width="0.8" height="0.8" fill="#8090d8"/><rect x="75.3" y="498.9" width="0.8" height="0.8" fill="#5060c4"/><rect x="91.6" y="502.3" width="0.8" height="0.8" fill="#8090d8"/><rect x="88.0" y="494.4" width="0.8" height="0.8" fill="#6a78d0"/><rect x="86.2" y="501.9" width="0.8" height="0.8" fill="#6a78d0"/><rect x="86.6" y="491.2" width="0.8" height="0.8" fill="#6a78d0"/><rect x="76.0" y="497.6" width="0.8" height="0.8" fill="#8090d8"/><rect x="74.3" y="492.6" width="0.8" height="0.8" fill="#6a78d0"/><rect x="81.8" y="500.6" width="0.8" height="0.8" fill="#8090d8"/><rect x="89.4" y="488.6" width="0.8" height="0.8" fill="#8090d8"/><rect x="88.3" y="494.4" width="0.8" height="0.8" fill="#8090d8"/><rect x="78.7" y="490.8" width="0.8" height="0.8" fill="#5060c4"/><rect x="78.4" y="503.4" width="0.8" height="0.8" fill="#6a78d0"/><rect x="80.6" y="500.5" width="0.8" height="0.8" fill="#8090d8"/><rect x="79.4" y="495.9" width="0.8" height="0.8" fill="#5060c4"/><rect x="78.8" y="496.6" width="0.8" height="0.8" fill="#6a78d0"/><rect x="79.2" y="499.0" width="0.8" height="0.8" fill="#5060c4"/><rect x="85.7" y="493.5" width="0.8" height="0.8" fill="#6a78d0"/><rect x="85.1" y="508.4" width="0.8" height="0.8" fill="#5060c4"/><rect x="84.2" y="497.4" width="0.8" height="0.8" fill="#5060c4"/><rect x="88.9" y="501.6" width="0.8" height="0.8" fill="#8090d8"/><rect x="85.7" y="503.0" width="0.8" height="0.8" fill="#6a78d0"/><rect x="82.6" y="499.4" width="0.8" height="0.8" fill="#6a78d0"/><rect x="86.7" y="499.9" width="0.8" height="0.8" fill="#8090d8"/><rect x="79.5" y="500.9" width="0.8" height="0.8" fill="#8090d8"/><rect x="80.8" y="494.2" width="0.8" height="0.8" fill="#6a78d0"/><rect x="84.8" y="500.7" width="0.8" height="0.8" fill="#5060c4"/><rect x="90.0" y="506.3" width="0.8" height="0.8" fill="#8090d8"/><rect x="84.7" y="493.2" width="0.8" height="0.8" fill="#8090d8"/><rect x="75.8" y="495.1" width="0.8" height="0.8" fill="#5060c4"/><rect x="81.8" y="500.4" width="0.8" height="0.8" fill="#5060c4"/><rect x="83.2" y="492.5" width="0.8" height="0.8" fill="#5060c4"/><rect x="79.7" y="501.5" width="0.8" height="0.8" fill="#6a78d0"/><rect x="78.5" y="494.7" width="0.8" height="0.8" fill="#8090d8"/><rect x="83.9" y="499.7" width="0.8" height="0.8" fill="#5060c4"/><rect x="77.1" y="493.2" width="0.8" height="0.8" fill="#6a78d0"/><rect x="84.2" y="494.7" width="0.8" height="0.8" fill="#8090d8"/><rect x="82.4" y="501.7" width="0.8" height="0.8" fill="#6a78d0"/><rect x="84.9" y="494.4" width="0.8" height="0.8" fill="#5060c4"/><rect x="87.4" y="492.4" width="0.8" height="0.8" fill="#6a78d0"/><rect x="73.4" y="494.2" width="0.8" height="0.8" fill="#8090d8"/><rect x="91.5" y="505.1" width="0.8" height="0.8" fill="#5060c4"/><rect x="73.4" y="486.2" width="0.8" height="0.8" fill="#6a78d0"/><rect x="84.2" y="509.1" width="0.8" height="0.8" fill="#6a78d0"/><rect x="73.9" y="503.6" width="0.8" height="0.8" fill="#5060c4"/><rect x="85.9" y="505.8" width="0.8" height="0.8" fill="#6a78d0"/><rect x="81.0" y="500.8" width="0.8" height="0.8" fill="#5060c4"/><rect x="81.2" y="486.3" width="0.8" height="0.8" fill="#8090d8"/><rect x="85.4" y="495.8" width="0.8" height="0.8" fill="#6a78d0"/><rect x="86.4" y="489.3" width="0.8" height="0.8" fill="#5060c4"/><rect x="91.2" y="502.4" width="0.8" height="0.8" fill="#5060c4"/><rect x="84.9" y="494.7" width="0.8" height="0.8" fill="#5060c4"/><rect x="78.0" y="505.6" width="0.8" height="0.8" fill="#6a78d0"/><rect x="75.1" y="489.4" width="0.8" height="0.8" fill="#5060c4"/><rect x="82.6" y="490.2" width="0.8" height="0.8" fill="#8090d8"/></g>
<g opacity="0.85"><rect x="80.3" y="502.4" width="0.8" height="0.8" fill="#1c2480"/><rect x="78.4" y="503.4" width="0.8" height="0.8" fill="#2a3298"/><rect x="85.4" y="506.0" width="0.8" height="0.8" fill="#2a3298"/><rect x="86.1" y="502.9" width="0.8" height="0.8" fill="#20288a"/><rect x="77.9" y="498.0" width="0.8" height="0.8" fill="#20288a"/><rect x="81.5" y="497.7" width="0.8" height="0.8" fill="#1c2480"/><rect x="81.6" y="494.8" width="0.8" height="0.8" fill="#2a3298"/><rect x="79.9" y="493.9" width="0.8" height="0.8" fill="#20288a"/><rect x="85.8" y="501.7" width="0.8" height="0.8" fill="#2a3298"/><rect x="79.8" y="495.4" width="0.8" height="0.8" fill="#3440a8"/><rect x="78.6" y="504.0" width="0.8" height="0.8" fill="#2a3298"/><rect x="81.8" y="496.0" width="0.8" height="0.8" fill="#20288a"/><rect x="81.7" y="501.6" width="0.8" height="0.8" fill="#20288a"/><rect x="83.3" y="496.3" width="0.8" height="0.8" fill="#2a3298"/><rect x="83.3" y="500.4" width="0.8" height="0.8" fill="#20288a"/><rect x="79.3" y="506.2" width="0.8" height="0.8" fill="#1c2480"/><rect x="84.5" y="500.9" width="0.8" height="0.8" fill="#20288a"/><rect x="86.8" y="502.1" width="0.8" height="0.8" fill="#1c2480"/><rect x="80.6" y="503.6" width="0.8" height="0.8" fill="#2a3298"/><rect x="84.4" y="496.6" width="0.8" height="0.8" fill="#20288a"/><rect x="83.8" y="501.3" width="0.8" height="0.8" fill="#1c2480"/><rect x="84.1" y="498.0" width="0.8" height="0.8" fill="#2a3298"/><rect x="83.9" y="499.8" width="0.8" height="0.8" fill="#1c2480"/><rect x="84.5" y="497.5" width="0.8" height="0.8" fill="#2a3298"/><rect x="82.2" y="501.6" width="0.8" height="0.8" fill="#2a3298"/><rect x="81.4" y="502.9" width="0.8" height="0.8" fill="#1c2480"/><rect x="82.2" y="502.2" width="0.8" height="0.8" fill="#3440a8"/><rect x="89.4" y="490.3" width="0.8" height="0.8" fill="#3440a8"/><rect x="84.6" y="500.5" width="0.8" height="0.8" fill="#2a3298"/><rect x="79.4" y="506.6" width="0.8" height="0.8" fill="#20288a"/><rect x="85.6" y="501.2" width="0.8" height="0.8" fill="#1c2480"/><rect x="83.7" y="509.1" width="0.8" height="0.8" fill="#3440a8"/><rect x="85.4" y="496.2" width="0.8" height="0.8" fill="#20288a"/><rect x="87.3" y="504.0" width="0.8" height="0.8" fill="#2a3298"/><rect x="86.9" y="501.0" width="0.8" height="0.8" fill="#1c2480"/><rect x="86.8" y="505.3" width="0.8" height="0.8" fill="#2a3298"/><rect x="85.3" y="498.1" width="0.8" height="0.8" fill="#2a3298"/><rect x="83.2" y="503.8" width="0.8" height="0.8" fill="#2a3298"/><rect x="83.7" y="497.6" width="0.8" height="0.8" fill="#2a3298"/><rect x="82.9" y="495.9" width="0.8" height="0.8" fill="#1c2480"/><rect x="81.5" y="497.3" width="0.8" height="0.8" fill="#20288a"/><rect x="86.8" y="504.3" width="0.8" height="0.8" fill="#3440a8"/><rect x="84.3" y="508.3" width="0.8" height="0.8" fill="#3440a8"/><rect x="78.3" y="505.7" width="0.8" height="0.8" fill="#1c2480"/><rect x="83.5" y="503.5" width="0.8" height="0.8" fill="#20288a"/><rect x="86.4" y="504.6" width="0.8" height="0.8" fill="#20288a"/><rect x="84.2" y="501.4" width="0.8" height="0.8" fill="#3440a8"/><rect x="82.1" y="502.5" width="0.8" height="0.8" fill="#20288a"/><rect x="85.3" y="504.8" width="0.8" height="0.8" fill="#2a3298"/><rect x="85.4" y="502.0" width="0.8" height="0.8" fill="#1c2480"/><rect x="88.4" y="499.6" width="0.8" height="0.8" fill="#2a3298"/><rect x="78.3" y="494.4" width="0.8" height="0.8" fill="#1c2480"/><rect x="87.9" y="496.3" width="0.8" height="0.8" fill="#20288a"/><rect x="88.2" y="501.4" width="0.8" height="0.8" fill="#1c2480"/><rect x="86.4" y="502.3" width="0.8" height="0.8" fill="#2a3298"/><rect x="85.2" y="500.5" width="0.8" height="0.8" fill="#3440a8"/><rect x="83.5" y="489.8" width="0.8" height="0.8" fill="#2a3298"/><rect x="85.8" y="489.8" width="0.8" height="0.8" fill="#3440a8"/><rect x="86.9" y="503.4" width="0.8" height="0.8" fill="#20288a"/><rect x="86.1" y="496.7" width="0.8" height="0.8" fill="#20288a"/><rect x="86.6" y="495.6" width="0.8" height="0.8" fill="#1c2480"/><rect x="83.7" y="501.0" width="0.8" height="0.8" fill="#20288a"/><rect x="87.8" y="503.9" width="0.8" height="0.8" fill="#3440a8"/><rect x="87.5" y="495.0" width="0.8" height="0.8" fill="#1c2480"/><rect x="88.2" y="497.4" width="0.8" height="0.8" fill="#1c2480"/><rect x="78.7" y="504.0" width="0.8" height="0.8" fill="#20288a"/><rect x="80.4" y="499.8" width="0.8" height="0.8" fill="#3440a8"/><rect x="81.2" y="497.1" width="0.8" height="0.8" fill="#2a3298"/><rect x="85.4" y="499.9" width="0.8" height="0.8" fill="#1c2480"/><rect x="84.0" y="501.3" width="0.8" height="0.8" fill="#3440a8"/><rect x="86.6" y="505.9" width="0.8" height="0.8" fill="#2a3298"/><rect x="84.1" y="495.9" width="0.8" height="0.8" fill="#1c2480"/><rect x="81.8" y="500.5" width="0.8" height="0.8" fill="#1c2480"/><rect x="83.0" y="497.6" width="0.8" height="0.8" fill="#1c2480"/><rect x="85.7" y="492.6" width="0.8" height="0.8" fill="#2a3298"/><rect x="86.2" y="497.1" width="0.8" height="0.8" fill="#3440a8"/><rect x="84.4" y="503.1" width="0.8" height="0.8" fill="#3440a8"/><rect x="87.0" y="492.2" width="0.8" height="0.8" fill="#20288a"/><rect x="86.3" y="499.3" width="0.8" height="0.8" fill="#2a3298"/><rect x="86.6" y="504.2" width="0.8" height="0.8" fill="#2a3298"/><rect x="85.4" y="496.2" width="0.8" height="0.8" fill="#1c2480"/><rect x="81.8" y="493.5" width="0.8" height="0.8" fill="#1c2480"/><rect x="81.6" y="509.0" width="0.8" height="0.8" fill="#3440a8"/><rect x="84.6" y="499.5" width="0.8" height="0.8" fill="#3440a8"/><rect x="81.7" y="498.7" width="0.8" height="0.8" fill="#20288a"/><rect x="82.1" y="496.6" width="0.8" height="0.8" fill="#2a3298"/><rect x="89.6" y="502.0" width="0.8" height="0.8" fill="#2a3298"/><rect x="85.0" y="491.7" width="0.8" height="0.8" fill="#20288a"/><rect x="80.0" y="502.8" width="0.8" height="0.8" fill="#3440a8"/><rect x="88.4" y="498.5" width="0.8" height="0.8" fill="#2a3298"/><rect x="85.0" y="497.1" width="0.8" height="0.8" fill="#20288a"/><rect x="84.1" y="494.3" width="0.8" height="0.8" fill="#20288a"/><rect x="85.0" y="504.1" width="0.8" height="0.8" fill="#3440a8"/><rect x="77.0" y="497.5" width="0.8" height="0.8" fill="#2a3298"/><rect x="79.8" y="506.0" width="0.8" height="0.8" fill="#2a3298"/><rect x="89.9" y="506.5" width="0.8" height="0.8" fill="#1c2480"/><rect x="86.3" y="504.5" width="0.8" height="0.8" fill="#20288a"/><rect x="81.2" y="505.0" width="0.8" height="0.8" fill="#3440a8"/><rect x="79.8" y="502.1" width="0.8" height="0.8" fill="#2a3298"/><rect x="88.9" y="506.3" width="0.8" height="0.8" fill="#20288a"/><rect x="92.2" y="498.8" width="0.8" height="0.8" fill="#3440a8"/><rect x="83.6" y="508.4" width="0.8" height="0.8" fill="#20288a"/><rect x="83.3" y="502.2" width="0.8" height="0.8" fill="#1c2480"/><rect x="82.3" y="504.9" width="0.8" height="0.8" fill="#3440a8"/><rect x="83.3" y="500.6" width="0.8" height="0.8" fill="#20288a"/><rect x="83.3" y="501.1" width="0.8" height="0.8" fill="#3440a8"/><rect x="81.4" y="490.2" width="0.8" height="0.8" fill="#1c2480"/><rect x="86.2" y="505.3" width="0.8" height="0.8" fill="#1c2480"/><rect x="87.3" y="498.6" width="0.8" height="0.8" fill="#20288a"/><rect x="84.2" y="495.1" width="0.8" height="0.8" fill="#3440a8"/><rect x="85.9" y="494.9" width="0.8" height="0.8" fill="#2a3298"/><rect x="78.3" y="499.1" width="0.8" height="0.8" fill="#3440a8"/><rect x="82.9" y="505.0" width="0.8" height="0.8" fill="#2a3298"/><rect x="83.4" y="503.1" width="0.8" height="0.8" fill="#3440a8"/><rect x="82.2" y="499.0" width="0.8" height="0.8" fill="#20288a"/><rect x="79.9" y="500.4" width="0.8" height="0.8" fill="#20288a"/><rect x="83.1" y="500.1" width="0.8" height="0.8" fill="#1c2480"/><rect x="75.3" y="496.4" width="0.8" height="0.8" fill="#20288a"/><rect x="79.4" y="500.9" width="0.8" height="0.8" fill="#20288a"/><rect x="87.0" y="498.2" width="0.8" height="0.8" fill="#1c2480"/><rect x="83.6" y="506.1" width="0.8" height="0.8" fill="#2a3298"/><rect x="80.6" y="509.6" width="0.8" height="0.8" fill="#1c2480"/><rect x="82.6" y="500.1" width="0.8" height="0.8" fill="#1c2480"/><rect x="79.0" y="492.8" width="0.8" height="0.8" fill="#2a3298"/><rect x="81.6" y="487.4" width="0.8" height="0.8" fill="#20288a"/><rect x="84.7" y="503.9" width="0.8" height="0.8" fill="#3440a8"/><rect x="82.8" y="504.7" width="0.8" height="0.8" fill="#1c2480"/><rect x="87.8" y="505.5" width="0.8" height="0.8" fill="#20288a"/><rect x="86.5" y="494.9" width="0.8" height="0.8" fill="#2a3298"/><rect x="82.1" y="490.7" width="0.8" height="0.8" fill="#20288a"/><rect x="81.8" y="504.1" width="0.8" height="0.8" fill="#2a3298"/><rect x="78.2" y="498.1" width="0.8" height="0.8" fill="#2a3298"/><rect x="78.2" y="498.7" width="0.8" height="0.8" fill="#2a3298"/><rect x="84.5" y="508.7" width="0.8" height="0.8" fill="#3440a8"/><rect x="86.1" y="498.0" width="0.8" height="0.8" fill="#3440a8"/><rect x="85.5" y="498.4" width="0.8" height="0.8" fill="#2a3298"/><rect x="85.2" y="498.8" width="0.8" height="0.8" fill="#2a3298"/><rect x="84.9" y="502.1" width="0.8" height="0.8" fill="#1c2480"/><rect x="88.6" y="505.9" width="0.8" height="0.8" fill="#1c2480"/><rect x="79.5" y="498.4" width="0.8" height="0.8" fill="#2a3298"/><rect x="80.3" y="504.9" width="0.8" height="0.8" fill="#20288a"/><rect x="87.2" y="504.2" width="0.8" height="0.8" fill="#3440a8"/><rect x="90.7" y="493.6" width="0.8" height="0.8" fill="#20288a"/><rect x="82.8" y="493.7" width="0.8" height="0.8" fill="#3440a8"/><rect x="79.4" y="500.4" width="0.8" height="0.8" fill="#2a3298"/><rect x="85.1" y="495.1" width="0.8" height="0.8" fill="#20288a"/><rect x="87.7" y="502.0" width="0.8" height="0.8" fill="#1c2480"/><rect x="85.2" y="503.0" width="0.8" height="0.8" fill="#2a3298"/><rect x="84.8" y="503.1" width="0.8" height="0.8" fill="#3440a8"/><rect x="85.2" y="499.5" width="0.8" height="0.8" fill="#20288a"/><rect x="87.0" y="506.2" width="0.8" height="0.8" fill="#20288a"/><rect x="84.2" y="496.1" width="0.8" height="0.8" fill="#1c2480"/><rect x="81.5" y="502.6" width="0.8" height="0.8" fill="#2a3298"/><rect x="83.6" y="500.0" width="0.8" height="0.8" fill="#20288a"/><rect x="85.1" y="497.9" width="0.8" height="0.8" fill="#1c2480"/><rect x="82.2" y="504.2" width="0.8" height="0.8" fill="#2a3298"/><rect x="82.9" y="499.1" width="0.8" height="0.8" fill="#20288a"/><rect x="83.4" y="502.4" width="0.8" height="0.8" fill="#1c2480"/><rect x="82.2" y="499.1" width="0.8" height="0.8" fill="#3440a8"/><rect x="84.8" y="496.9" width="0.8" height="0.8" fill="#20288a"/><rect x="83.8" y="491.8" width="0.8" height="0.8" fill="#1c2480"/><rect x="85.8" y="503.8" width="0.8" height="0.8" fill="#3440a8"/><rect x="84.6" y="492.0" width="0.8" height="0.8" fill="#1c2480"/><rect x="84.5" y="503.6" width="0.8" height="0.8" fill="#3440a8"/><rect x="83.6" y="502.7" width="0.8" height="0.8" fill="#3440a8"/><rect x="90.5" y="499.9" width="0.8" height="0.8" fill="#20288a"/><rect x="82.6" y="496.6" width="0.8" height="0.8" fill="#1c2480"/><rect x="80.6" y="497.9" width="0.8" height="0.8" fill="#1c2480"/><rect x="80.5" y="500.0" width="0.8" height="0.8" fill="#2a3298"/><rect x="82.5" y="492.4" width="0.8" height="0.8" fill="#20288a"/><rect x="85.1" y="502.1" width="0.8" height="0.8" fill="#2a3298"/><rect x="83.9" y="505.6" width="0.8" height="0.8" fill="#20288a"/><rect x="84.3" y="493.3" width="0.8" height="0.8" fill="#20288a"/><rect x="85.9" y="502.7" width="0.8" height="0.8" fill="#3440a8"/><rect x="80.6" y="498.7" width="0.8" height="0.8" fill="#20288a"/><rect x="80.5" y="493.6" width="0.8" height="0.8" fill="#20288a"/><rect x="79.8" y="498.2" width="0.8" height="0.8" fill="#20288a"/><rect x="78.6" y="508.2" width="0.8" height="0.8" fill="#1c2480"/><rect x="82.2" y="501.0" width="0.8" height="0.8" fill="#1c2480"/><rect x="80.1" y="498.7" width="0.8" height="0.8" fill="#1c2480"/><rect x="87.0" y="498.7" width="0.8" height="0.8" fill="#1c2480"/><rect x="81.7" y="497.7" width="0.8" height="0.8" fill="#3440a8"/><rect x="81.6" y="500.9" width="0.8" height="0.8" fill="#3440a8"/><rect x="81.4" y="493.4" width="0.8" height="0.8" fill="#20288a"/><rect x="86.2" y="500.8" width="0.8" height="0.8" fill="#20288a"/><rect x="81.9" y="496.7" width="0.8" height="0.8" fill="#1c2480"/><rect x="86.5" y="501.9" width="0.8" height="0.8" fill="#1c2480"/><rect x="92.5" y="505.1" width="0.8" height="0.8" fill="#3440a8"/><rect x="89.8" y="505.3" width="0.8" height="0.8" fill="#1c2480"/><rect x="83.6" y="496.8" width="0.8" height="0.8" fill="#2a3298"/><rect x="85.3" y="501.1" width="0.8" height="0.8" fill="#1c2480"/><rect x="84.1" y="508.3" width="0.8" height="0.8" fill="#20288a"/><rect x="81.6" y="496.6" width="0.8" height="0.8" fill="#2a3298"/><rect x="85.8" y="496.9" width="0.8" height="0.8" fill="#2a3298"/><rect x="86.3" y="504.3" width="0.8" height="0.8" fill="#1c2480"/><rect x="81.8" y="501.6" width="0.8" height="0.8" fill="#1c2480"/><rect x="80.7" y="506.7" width="0.8" height="0.8" fill="#2a3298"/><rect x="88.7" y="498.1" width="0.8" height="0.8" fill="#2a3298"/><rect x="80.5" y="501.2" width="0.8" height="0.8" fill="#3440a8"/><rect x="84.9" y="493.7" width="0.8" height="0.8" fill="#3440a8"/><rect x="83.4" y="507.3" width="0.8" height="0.8" fill="#2a3298"/><rect x="80.6" y="494.3" width="0.8" height="0.8" fill="#2a3298"/><rect x="87.4" y="498.7" width="0.8" height="0.8" fill="#2a3298"/><rect x="84.6" y="499.5" width="0.8" height="0.8" fill="#20288a"/><rect x="86.3" y="500.7" width="0.8" height="0.8" fill="#20288a"/><rect x="83.0" y="498.9" width="0.8" height="0.8" fill="#3440a8"/><rect x="85.1" y="501.4" width="0.8" height="0.8" fill="#2a3298"/><rect x="80.0" y="498.3" width="0.8" height="0.8" fill="#3440a8"/><rect x="81.2" y="501.0" width="0.8" height="0.8" fill="#3440a8"/><rect x="81.2" y="507.4" width="0.8" height="0.8" fill="#20288a"/><rect x="85.1" y="495.3" width="0.8" height="0.8" fill="#2a3298"/><rect x="79.3" y="503.3" width="0.8" height="0.8" fill="#1c2480"/><rect x="85.1" y="496.0" width="0.8" height="0.8" fill="#3440a8"/><rect x="82.7" y="508.7" width="0.8" height="0.8" fill="#2a3298"/><rect x="81.4" y="502.6" width="0.8" height="0.8" fill="#20288a"/><rect x="81.4" y="501.5" width="0.8" height="0.8" fill="#20288a"/><rect x="80.5" y="503.2" width="0.8" height="0.8" fill="#1c2480"/><rect x="82.4" y="508.7" width="0.8" height="0.8" fill="#20288a"/><rect x="80.3" y="495.8" width="0.8" height="0.8" fill="#1c2480"/><rect x="83.3" y="492.9" width="0.8" height="0.8" fill="#3440a8"/><rect x="85.6" y="498.1" width="0.8" height="0.8" fill="#3440a8"/><rect x="83.0" y="502.4" width="0.8" height="0.8" fill="#1c2480"/><rect x="77.9" y="495.8" width="0.8" height="0.8" fill="#3440a8"/><rect x="79.0" y="503.9" width="0.8" height="0.8" fill="#3440a8"/><rect x="82.0" y="501.4" width="0.8" height="0.8" fill="#2a3298"/><rect x="88.9" y="505.2" width="0.8" height="0.8" fill="#20288a"/><rect x="82.0" y="504.3" width="0.8" height="0.8" fill="#1c2480"/><rect x="85.4" y="492.6" width="0.8" height="0.8" fill="#3440a8"/><rect x="85.1" y="494.5" width="0.8" height="0.8" fill="#2a3298"/><rect x="86.3" y="508.1" width="0.8" height="0.8" fill="#3440a8"/><rect x="84.8" y="497.2" width="0.8" height="0.8" fill="#20288a"/><rect x="80.3" y="498.7" width="0.8" height="0.8" fill="#20288a"/><rect x="80.8" y="493.2" width="0.8" height="0.8" fill="#20288a"/><rect x="81.8" y="498.4" width="0.8" height="0.8" fill="#20288a"/><rect x="82.8" y="503.9" width="0.8" height="0.8" fill="#20288a"/><rect x="85.0" y="499.3" width="0.8" height="0.8" fill="#2a3298"/><rect x="88.5" y="505.8" width="0.8" height="0.8" fill="#1c2480"/><rect x="84.1" y="504.0" width="0.8" height="0.8" fill="#3440a8"/><rect x="84.3" y="495.5" width="0.8" height="0.8" fill="#3440a8"/><rect x="85.0" y="496.3" width="0.8" height="0.8" fill="#2a3298"/><rect x="80.3" y="500.7" width="0.8" height="0.8" fill="#20288a"/><rect x="82.3" y="489.8" width="0.8" height="0.8" fill="#1c2480"/><rect x="83.8" y="500.9" width="0.8" height="0.8" fill="#1c2480"/><rect x="87.2" y="491.4" width="0.8" height="0.8" fill="#20288a"/><rect x="79.3" y="499.3" width="0.8" height="0.8" fill="#20288a"/><rect x="81.2" y="503.0" width="0.8" height="0.8" fill="#2a3298"/><rect x="84.0" y="503.5" width="0.8" height="0.8" fill="#1c2480"/><rect x="82.9" y="496.5" width="0.8" height="0.8" fill="#1c2480"/><rect x="81.8" y="502.4" width="0.8" height="0.8" fill="#20288a"/><rect x="79.2" y="501.9" width="0.8" height="0.8" fill="#3440a8"/><rect x="80.9" y="493.6" width="0.8" height="0.8" fill="#2a3298"/><rect x="88.3" y="496.1" width="0.8" height="0.8" fill="#20288a"/><rect x="78.3" y="495.0" width="0.8" height="0.8" fill="#20288a"/><rect x="83.2" y="503.6" width="0.8" height="0.8" fill="#3440a8"/><rect x="84.4" y="504.1" width="0.8" height="0.8" fill="#1c2480"/><rect x="82.2" y="498.5" width="0.8" height="0.8" fill="#2a3298"/><rect x="86.4" y="497.4" width="0.8" height="0.8" fill="#3440a8"/><rect x="79.0" y="492.0" width="0.8" height="0.8" fill="#1c2480"/><rect x="86.1" y="495.9" width="0.8" height="0.8" fill="#1c2480"/><rect x="86.4" y="498.2" width="0.8" height="0.8" fill="#20288a"/><rect x="81.9" y="500.9" width="0.8" height="0.8" fill="#20288a"/><rect x="84.3" y="503.1" width="0.8" height="0.8" fill="#1c2480"/><rect x="89.3" y="499.2" width="0.8" height="0.8" fill="#3440a8"/><rect x="84.2" y="498.8" width="0.8" height="0.8" fill="#2a3298"/><rect x="88.8" y="494.1" width="0.8" height="0.8" fill="#3440a8"/><rect x="81.9" y="501.7" width="0.8" height="0.8" fill="#1c2480"/><rect x="82.6" y="498.7" width="0.8" height="0.8" fill="#2a3298"/><rect x="84.2" y="497.7" width="0.8" height="0.8" fill="#2a3298"/><rect x="77.8" y="488.5" width="0.8" height="0.8" fill="#3440a8"/><rect x="83.0" y="500.3" width="0.8" height="0.8" fill="#2a3298"/><rect x="89.6" y="500.6" width="0.8" height="0.8" fill="#2a3298"/><rect x="84.5" y="498.6" width="0.8" height="0.8" fill="#3440a8"/><rect x="81.2" y="496.5" width="0.8" height="0.8" fill="#1c2480"/><rect x="83.6" y="498.5" width="0.8" height="0.8" fill="#3440a8"/><rect x="85.9" y="500.9" width="0.8" height="0.8" fill="#2a3298"/><rect x="85.1" y="499.4" width="0.8" height="0.8" fill="#1c2480"/><rect x="85.0" y="506.5" width="0.8" height="0.8" fill="#1c2480"/><rect x="87.1" y="508.4" width="0.8" height="0.8" fill="#3440a8"/><rect x="82.8" y="505.2" width="0.8" height="0.8" fill="#3440a8"/><rect x="88.4" y="500.4" width="0.8" height="0.8" fill="#20288a"/><rect x="81.1" y="506.4" width="0.8" height="0.8" fill="#20288a"/><rect x="81.8" y="494.0" width="0.8" height="0.8" fill="#20288a"/><rect x="83.7" y="499.9" width="0.8" height="0.8" fill="#1c2480"/><rect x="83.2" y="495.0" width="0.8" height="0.8" fill="#3440a8"/><rect x="80.9" y="498.3" width="0.8" height="0.8" fill="#20288a"/><rect x="87.6" y="492.9" width="0.8" height="0.8" fill="#2a3298"/><rect x="85.4" y="498.8" width="0.8" height="0.8" fill="#1c2480"/><rect x="88.6" y="497.3" width="0.8" height="0.8" fill="#3440a8"/><rect x="84.1" y="494.1" width="0.8" height="0.8" fill="#20288a"/><rect x="83.9" y="503.8" width="0.8" height="0.8" fill="#20288a"/><rect x="79.6" y="497.4" width="0.8" height="0.8" fill="#3440a8"/><rect x="81.2" y="502.1" width="0.8" height="0.8" fill="#20288a"/><rect x="84.8" y="502.2" width="0.8" height="0.8" fill="#2a3298"/><rect x="85.3" y="505.1" width="0.8" height="0.8" fill="#1c2480"/><rect x="82.9" y="499.3" width="0.8" height="0.8" fill="#2a3298"/><rect x="92.7" y="503.5" width="0.8" height="0.8" fill="#1c2480"/><rect x="83.0" y="501.6" width="0.8" height="0.8" fill="#1c2480"/><rect x="85.5" y="499.3" width="0.8" height="0.8" fill="#2a3298"/><rect x="84.6" y="491.3" width="0.8" height="0.8" fill="#1c2480"/><rect x="77.3" y="501.7" width="0.8" height="0.8" fill="#20288a"/><rect x="83.4" y="493.7" width="0.8" height="0.8" fill="#3440a8"/><rect x="89.3" y="499.5" width="0.8" height="0.8" fill="#20288a"/><rect x="83.9" y="503.7" width="0.8" height="0.8" fill="#3440a8"/><rect x="83.2" y="498.6" width="0.8" height="0.8" fill="#1c2480"/><rect x="84.8" y="504.8" width="0.8" height="0.8" fill="#3440a8"/><rect x="85.9" y="494.4" width="0.8" height="0.8" fill="#2a3298"/><rect x="83.9" y="506.7" width="0.8" height="0.8" fill="#3440a8"/><rect x="81.3" y="499.1" width="0.8" height="0.8" fill="#2a3298"/><rect x="82.2" y="499.0" width="0.8" height="0.8" fill="#2a3298"/><rect x="83.4" y="500.0" width="0.8" height="0.8" fill="#2a3298"/><rect x="84.3" y="497.8" width="0.8" height="0.8" fill="#1c2480"/><rect x="79.9" y="496.9" width="0.8" height="0.8" fill="#3440a8"/><rect x="89.1" y="506.0" width="0.8" height="0.8" fill="#3440a8"/><rect x="82.5" y="501.1" width="0.8" height="0.8" fill="#2a3298"/><rect x="84.3" y="507.0" width="0.8" height="0.8" fill="#20288a"/><rect x="81.8" y="499.0" width="0.8" height="0.8" fill="#3440a8"/><rect x="82.8" y="499.0" width="0.8" height="0.8" fill="#20288a"/><rect x="84.2" y="507.0" width="0.8" height="0.8" fill="#2a3298"/><rect x="85.5" y="506.3" width="0.8" height="0.8" fill="#20288a"/><rect x="81.1" y="501.9" width="0.8" height="0.8" fill="#2a3298"/><rect x="82.4" y="507.5" width="0.8" height="0.8" fill="#1c2480"/><rect x="80.8" y="495.8" width="0.8" height="0.8" fill="#20288a"/><rect x="85.7" y="504.8" width="0.8" height="0.8" fill="#20288a"/><rect x="85.8" y="504.4" width="0.8" height="0.8" fill="#1c2480"/><rect x="85.7" y="505.9" width="0.8" height="0.8" fill="#3440a8"/><rect x="89.0" y="503.4" width="0.8" height="0.8" fill="#2a3298"/><rect x="81.1" y="503.9" width="0.8" height="0.8" fill="#20288a"/><rect x="81.0" y="501.5" width="0.8" height="0.8" fill="#1c2480"/><rect x="84.0" y="494.7" width="0.8" height="0.8" fill="#1c2480"/><rect x="87.1" y="492.1" width="0.8" height="0.8" fill="#1c2480"/><rect x="84.7" y="498.3" width="0.8" height="0.8" fill="#20288a"/><rect x="87.0" y="497.1" width="0.8" height="0.8" fill="#1c2480"/><rect x="83.4" y="501.0" width="0.8" height="0.8" fill="#20288a"/><rect x="82.8" y="507.1" width="0.8" height="0.8" fill="#1c2480"/><rect x="83.5" y="493.8" width="0.8" height="0.8" fill="#3440a8"/><rect x="88.5" y="493.6" width="0.8" height="0.8" fill="#2a3298"/><rect x="86.3" y="504.3" width="0.8" height="0.8" fill="#1c2480"/><rect x="87.4" y="499.5" width="0.8" height="0.8" fill="#20288a"/><rect x="81.8" y="499.9" width="0.8" height="0.8" fill="#3440a8"/><rect x="80.1" y="490.6" width="0.8" height="0.8" fill="#20288a"/><rect x="88.9" y="500.5" width="0.8" height="0.8" fill="#3440a8"/><rect x="86.1" y="496.6" width="0.8" height="0.8" fill="#2a3298"/><rect x="84.9" y="508.7" width="0.8" height="0.8" fill="#20288a"/><rect x="85.1" y="499.2" width="0.8" height="0.8" fill="#2a3298"/><rect x="86.7" y="504.9" width="0.8" height="0.8" fill="#1c2480"/><rect x="86.2" y="500.5" width="0.8" height="0.8" fill="#3440a8"/><rect x="85.8" y="501.0" width="0.8" height="0.8" fill="#1c2480"/><rect x="88.4" y="494.9" width="0.8" height="0.8" fill="#1c2480"/><rect x="86.9" y="506.5" width="0.8" height="0.8" fill="#2a3298"/><rect x="84.7" y="500.9" width="0.8" height="0.8" fill="#3440a8"/><rect x="82.7" y="506.0" width="0.8" height="0.8" fill="#1c2480"/><rect x="85.5" y="498.2" width="0.8" height="0.8" fill="#20288a"/><rect x="85.9" y="509.5" width="0.8" height="0.8" fill="#3440a8"/><rect x="84.4" y="500.0" width="0.8" height="0.8" fill="#2a3298"/><rect x="81.8" y="499.7" width="0.8" height="0.8" fill="#20288a"/><rect x="82.5" y="497.0" width="0.8" height="0.8" fill="#3440a8"/><rect x="86.3" y="499.5" width="0.8" height="0.8" fill="#1c2480"/><rect x="83.6" y="497.9" width="0.8" height="0.8" fill="#1c2480"/><rect x="82.4" y="502.0" width="0.8" height="0.8" fill="#3440a8"/><rect x="87.3" y="505.8" width="0.8" height="0.8" fill="#3440a8"/><rect x="84.9" y="503.8" width="0.8" height="0.8" fill="#3440a8"/><rect x="84.7" y="495.8" width="0.8" height="0.8" fill="#20288a"/><rect x="82.2" y="498.6" width="0.8" height="0.8" fill="#3440a8"/><rect x="85.5" y="498.6" width="0.8" height="0.8" fill="#2a3298"/><rect x="83.3" y="507.5" width="0.8" height="0.8" fill="#20288a"/><rect x="82.8" y="501.0" width="0.8" height="0.8" fill="#20288a"/><rect x="83.1" y="500.2" width="0.8" height="0.8" fill="#3440a8"/><rect x="80.9" y="499.3" width="0.8" height="0.8" fill="#20288a"/><rect x="84.7" y="503.4" width="0.8" height="0.8" fill="#20288a"/><rect x="84.8" y="500.4" width="0.8" height="0.8" fill="#1c2480"/><rect x="87.4" y="497.2" width="0.8" height="0.8" fill="#20288a"/><rect x="87.2" y="498.0" width="0.8" height="0.8" fill="#2a3298"/><rect x="88.8" y="503.9" width="0.8" height="0.8" fill="#3440a8"/><rect x="82.5" y="505.7" width="0.8" height="0.8" fill="#20288a"/><rect x="80.5" y="499.9" width="0.8" height="0.8" fill="#2a3298"/><rect x="79.7" y="495.7" width="0.8" height="0.8" fill="#20288a"/><rect x="82.3" y="498.2" width="0.8" height="0.8" fill="#1c2480"/><rect x="81.8" y="499.4" width="0.8" height="0.8" fill="#2a3298"/><rect x="83.8" y="506.8" width="0.8" height="0.8" fill="#1c2480"/><rect x="83.9" y="503.9" width="0.8" height="0.8" fill="#20288a"/></g>
<rect x="72.20" y="485.30" width="21.60" height="25.10" fill="none" stroke="#8a8a8a" stroke-width="0.8" />
<text x="73.90" y="481.90" font-size="7.7" textLength="20.1" lengthAdjust="spacingAndGlyphs">17.2%</text>
<line x1="136.2" y1="484" x2="136.2" y2="509.2" stroke="#8cc4d4" stroke-width="1.4" opacity="0.7"/>
<line x1="136.2" y1="484" x2="136.2" y2="495.3" stroke="#5868c0" stroke-width="0.9" opacity="0.75"/>
<line x1="136.2" y1="495.3" x2="136.2" y2="509.2" stroke="#3aa890" stroke-width="0.8" opacity="0.7"/>
<ellipse cx="151.5" cy="504.5" rx="6" ry="3" fill="#7a88d4" opacity="0.3" filter="url(#bl2)"/>
<g opacity="0.7"><rect x="144.8" y="501.5" width="0.8" height="0.8" fill="#5060c4"/><rect x="149.1" y="505.2" width="0.8" height="0.8" fill="#8090d8"/><rect x="144.9" y="501.0" width="0.8" height="0.8" fill="#8090d8"/><rect x="149.5" y="491.8" width="0.8" height="0.8" fill="#5060c4"/><rect x="159.0" y="500.1" width="0.8" height="0.8" fill="#8090d8"/><rect x="148.9" y="504.4" width="0.8" height="0.8" fill="#6a78d0"/><rect x="160.6" y="504.3" width="0.8" height="0.8" fill="#6a78d0"/><rect x="148.3" y="489.4" width="0.8" height="0.8" fill="#6a78d0"/><rect x="153.8" y="500.3" width="0.8" height="0.8" fill="#5060c4"/><rect x="149.8" y="499.8" width="0.8" height="0.8" fill="#8090d8"/><rect x="154.3" y="499.0" width="0.8" height="0.8" fill="#8090d8"/><rect x="158.1" y="498.5" width="0.8" height="0.8" fill="#5060c4"/><rect x="156.8" y="494.6" width="0.8" height="0.8" fill="#5060c4"/><rect x="154.0" y="494.0" width="0.8" height="0.8" fill="#8090d8"/><rect x="149.2" y="493.6" width="0.8" height="0.8" fill="#5060c4"/><rect x="151.1" y="501.1" width="0.8" height="0.8" fill="#5060c4"/><rect x="154.8" y="502.1" width="0.8" height="0.8" fill="#5060c4"/><rect x="155.3" y="495.2" width="0.8" height="0.8" fill="#8090d8"/><rect x="154.8" y="503.1" width="0.8" height="0.8" fill="#8090d8"/><rect x="147.5" y="506.1" width="0.8" height="0.8" fill="#5060c4"/><rect x="154.1" y="505.7" width="0.8" height="0.8" fill="#8090d8"/><rect x="153.1" y="500.3" width="0.8" height="0.8" fill="#5060c4"/><rect x="147.6" y="502.8" width="0.8" height="0.8" fill="#5060c4"/><rect x="157.1" y="504.9" width="0.8" height="0.8" fill="#6a78d0"/><rect x="155.5" y="502.4" width="0.8" height="0.8" fill="#8090d8"/><rect x="151.2" y="505.9" width="0.8" height="0.8" fill="#5060c4"/><rect x="151.1" y="492.3" width="0.8" height="0.8" fill="#8090d8"/><rect x="153.0" y="505.1" width="0.8" height="0.8" fill="#8090d8"/><rect x="148.8" y="487.9" width="0.8" height="0.8" fill="#6a78d0"/><rect x="154.9" y="498.9" width="0.8" height="0.8" fill="#5060c4"/><rect x="149.9" y="503.2" width="0.8" height="0.8" fill="#5060c4"/><rect x="153.3" y="508.7" width="0.8" height="0.8" fill="#8090d8"/><rect x="159.8" y="494.1" width="0.8" height="0.8" fill="#6a78d0"/><rect x="152.0" y="500.9" width="0.8" height="0.8" fill="#6a78d0"/><rect x="152.0" y="503.2" width="0.8" height="0.8" fill="#8090d8"/><rect x="157.9" y="499.9" width="0.8" height="0.8" fill="#6a78d0"/><rect x="161.3" y="494.1" width="0.8" height="0.8" fill="#5060c4"/><rect x="155.5" y="491.9" width="0.8" height="0.8" fill="#6a78d0"/><rect x="153.3" y="492.5" width="0.8" height="0.8" fill="#8090d8"/><rect x="149.3" y="496.4" width="0.8" height="0.8" fill="#8090d8"/><rect x="154.3" y="497.6" width="0.8" height="0.8" fill="#8090d8"/><rect x="150.9" y="498.7" width="0.8" height="0.8" fill="#8090d8"/><rect x="157.6" y="497.3" width="0.8" height="0.8" fill="#5060c4"/><rect x="143.7" y="503.9" width="0.8" height="0.8" fill="#5060c4"/><rect x="151.2" y="504.9" width="0.8" height="0.8" fill="#5060c4"/><rect x="153.2" y="500.0" width="0.8" height="0.8" fill="#5060c4"/><rect x="155.9" y="495.6" width="0.8" height="0.8" fill="#6a78d0"/><rect x="153.7" y="507.0" width="0.8" height="0.8" fill="#6a78d0"/><rect x="145.5" y="496.7" width="0.8" height="0.8" fill="#8090d8"/><rect x="152.3" y="493.3" width="0.8" height="0.8" fill="#5060c4"/><rect x="156.3" y="503.6" width="0.8" height="0.8" fill="#6a78d0"/><rect x="148.0" y="497.1" width="0.8" height="0.8" fill="#8090d8"/><rect x="148.8" y="495.1" width="0.8" height="0.8" fill="#6a78d0"/><rect x="159.8" y="501.1" width="0.8" height="0.8" fill="#6a78d0"/><rect x="155.2" y="486.7" width="0.8" height="0.8" fill="#8090d8"/><rect x="143.4" y="497.5" width="0.8" height="0.8" fill="#8090d8"/><rect x="154.1" y="490.1" width="0.8" height="0.8" fill="#6a78d0"/><rect x="149.7" y="492.5" width="0.8" height="0.8" fill="#5060c4"/><rect x="149.4" y="497.1" width="0.8" height="0.8" fill="#5060c4"/><rect x="150.5" y="493.8" width="0.8" height="0.8" fill="#6a78d0"/><rect x="156.2" y="502.7" width="0.8" height="0.8" fill="#6a78d0"/><rect x="150.9" y="496.7" width="0.8" height="0.8" fill="#6a78d0"/><rect x="151.2" y="494.5" width="0.8" height="0.8" fill="#6a78d0"/><rect x="152.4" y="490.5" width="0.8" height="0.8" fill="#8090d8"/><rect x="151.2" y="501.2" width="0.8" height="0.8" fill="#8090d8"/><rect x="147.9" y="494.8" width="0.8" height="0.8" fill="#6a78d0"/><rect x="149.7" y="494.8" width="0.8" height="0.8" fill="#6a78d0"/><rect x="153.7" y="498.0" width="0.8" height="0.8" fill="#6a78d0"/><rect x="156.7" y="500.3" width="0.8" height="0.8" fill="#8090d8"/><rect x="156.4" y="491.9" width="0.8" height="0.8" fill="#8090d8"/><rect x="144.3" y="499.9" width="0.8" height="0.8" fill="#6a78d0"/><rect x="147.0" y="500.0" width="0.8" height="0.8" fill="#5060c4"/><rect x="154.1" y="495.9" width="0.8" height="0.8" fill="#8090d8"/><rect x="152.4" y="498.0" width="0.8" height="0.8" fill="#6a78d0"/><rect x="145.5" y="505.5" width="0.8" height="0.8" fill="#8090d8"/><rect x="146.7" y="499.1" width="0.8" height="0.8" fill="#6a78d0"/><rect x="158.3" y="498.6" width="0.8" height="0.8" fill="#5060c4"/><rect x="160.6" y="501.2" width="0.8" height="0.8" fill="#8090d8"/><rect x="149.9" y="497.1" width="0.8" height="0.8" fill="#8090d8"/><rect x="153.0" y="508.1" width="0.8" height="0.8" fill="#8090d8"/><rect x="146.7" y="500.2" width="0.8" height="0.8" fill="#8090d8"/><rect x="148.0" y="496.2" width="0.8" height="0.8" fill="#5060c4"/><rect x="150.9" y="503.0" width="0.8" height="0.8" fill="#5060c4"/><rect x="159.2" y="501.9" width="0.8" height="0.8" fill="#8090d8"/><rect x="146.1" y="504.7" width="0.8" height="0.8" fill="#8090d8"/><rect x="147.4" y="509.4" width="0.8" height="0.8" fill="#8090d8"/><rect x="148.2" y="504.4" width="0.8" height="0.8" fill="#6a78d0"/><rect x="153.6" y="503.9" width="0.8" height="0.8" fill="#8090d8"/><rect x="155.0" y="503.3" width="0.8" height="0.8" fill="#6a78d0"/><rect x="156.9" y="493.0" width="0.8" height="0.8" fill="#5060c4"/><rect x="154.0" y="494.5" width="0.8" height="0.8" fill="#5060c4"/><rect x="159.4" y="494.3" width="0.8" height="0.8" fill="#8090d8"/><rect x="153.7" y="496.1" width="0.8" height="0.8" fill="#6a78d0"/><rect x="150.6" y="499.3" width="0.8" height="0.8" fill="#6a78d0"/><rect x="153.1" y="504.1" width="0.8" height="0.8" fill="#8090d8"/><rect x="152.9" y="491.9" width="0.8" height="0.8" fill="#6a78d0"/><rect x="150.2" y="498.1" width="0.8" height="0.8" fill="#5060c4"/><rect x="148.7" y="500.0" width="0.8" height="0.8" fill="#6a78d0"/><rect x="144.8" y="498.4" width="0.8" height="0.8" fill="#8090d8"/><rect x="144.9" y="499.7" width="0.8" height="0.8" fill="#8090d8"/><rect x="146.1" y="509.8" width="0.8" height="0.8" fill="#8090d8"/><rect x="152.9" y="499.0" width="0.8" height="0.8" fill="#8090d8"/><rect x="154.9" y="500.5" width="0.8" height="0.8" fill="#8090d8"/><rect x="149.8" y="493.8" width="0.8" height="0.8" fill="#8090d8"/><rect x="156.7" y="498.5" width="0.8" height="0.8" fill="#6a78d0"/><rect x="153.4" y="497.1" width="0.8" height="0.8" fill="#6a78d0"/><rect x="152.6" y="506.8" width="0.8" height="0.8" fill="#6a78d0"/><rect x="158.0" y="487.1" width="0.8" height="0.8" fill="#6a78d0"/><rect x="157.8" y="506.5" width="0.8" height="0.8" fill="#5060c4"/><rect x="159.1" y="495.2" width="0.8" height="0.8" fill="#5060c4"/></g>
<g opacity="0.85"><rect x="150.7" y="508.8" width="0.8" height="0.8" fill="#3440a8"/><rect x="153.7" y="500.0" width="0.8" height="0.8" fill="#3440a8"/><rect x="151.3" y="506.4" width="0.8" height="0.8" fill="#20288a"/><rect x="149.4" y="503.8" width="0.8" height="0.8" fill="#20288a"/><rect x="148.3" y="504.7" width="0.8" height="0.8" fill="#2a3298"/><rect x="153.0" y="505.2" width="0.8" height="0.8" fill="#3440a8"/><rect x="150.5" y="504.7" width="0.8" height="0.8" fill="#2a3298"/><rect x="151.9" y="504.1" width="0.8" height="0.8" fill="#2a3298"/><rect x="154.1" y="501.3" width="0.8" height="0.8" fill="#20288a"/><rect x="151.8" y="503.1" width="0.8" height="0.8" fill="#20288a"/><rect x="144.3" y="505.3" width="0.8" height="0.8" fill="#3440a8"/><rect x="156.9" y="504.6" width="0.8" height="0.8" fill="#2a3298"/><rect x="147.2" y="502.2" width="0.8" height="0.8" fill="#2a3298"/><rect x="154.0" y="500.9" width="0.8" height="0.8" fill="#2a3298"/><rect x="149.2" y="502.0" width="0.8" height="0.8" fill="#3440a8"/><rect x="155.3" y="504.8" width="0.8" height="0.8" fill="#3440a8"/><rect x="148.7" y="505.5" width="0.8" height="0.8" fill="#20288a"/><rect x="152.6" y="507.1" width="0.8" height="0.8" fill="#2a3298"/><rect x="145.7" y="505.9" width="0.8" height="0.8" fill="#2a3298"/><rect x="155.0" y="502.9" width="0.8" height="0.8" fill="#3440a8"/><rect x="151.3" y="506.8" width="0.8" height="0.8" fill="#20288a"/><rect x="150.4" y="503.7" width="0.8" height="0.8" fill="#2a3298"/><rect x="145.2" y="500.0" width="0.8" height="0.8" fill="#2a3298"/><rect x="155.2" y="505.0" width="0.8" height="0.8" fill="#20288a"/><rect x="151.7" y="507.9" width="0.8" height="0.8" fill="#3440a8"/><rect x="154.0" y="502.0" width="0.8" height="0.8" fill="#20288a"/><rect x="150.3" y="500.9" width="0.8" height="0.8" fill="#2a3298"/><rect x="156.4" y="502.0" width="0.8" height="0.8" fill="#20288a"/><rect x="149.4" y="501.6" width="0.8" height="0.8" fill="#3440a8"/><rect x="150.5" y="503.7" width="0.8" height="0.8" fill="#3440a8"/><rect x="145.9" y="502.6" width="0.8" height="0.8" fill="#20288a"/><rect x="151.8" y="504.4" width="0.8" height="0.8" fill="#3440a8"/><rect x="147.8" y="503.7" width="0.8" height="0.8" fill="#3440a8"/><rect x="148.7" y="504.3" width="0.8" height="0.8" fill="#20288a"/><rect x="154.1" y="508.3" width="0.8" height="0.8" fill="#20288a"/><rect x="153.0" y="504.1" width="0.8" height="0.8" fill="#2a3298"/><rect x="147.8" y="502.5" width="0.8" height="0.8" fill="#3440a8"/><rect x="147.4" y="498.7" width="0.8" height="0.8" fill="#2a3298"/><rect x="148.0" y="502.6" width="0.8" height="0.8" fill="#20288a"/><rect x="153.0" y="505.0" width="0.8" height="0.8" fill="#2a3298"/><rect x="155.3" y="503.2" width="0.8" height="0.8" fill="#3440a8"/><rect x="155.0" y="506.3" width="0.8" height="0.8" fill="#2a3298"/><rect x="151.6" y="504.5" width="0.8" height="0.8" fill="#2a3298"/><rect x="148.6" y="507.5" width="0.8" height="0.8" fill="#3440a8"/><rect x="146.5" y="504.7" width="0.8" height="0.8" fill="#3440a8"/><rect x="152.9" y="509.3" width="0.8" height="0.8" fill="#2a3298"/><rect x="150.8" y="503.1" width="0.8" height="0.8" fill="#3440a8"/><rect x="152.3" y="503.4" width="0.8" height="0.8" fill="#2a3298"/><rect x="147.8" y="503.8" width="0.8" height="0.8" fill="#20288a"/><rect x="147.5" y="503.6" width="0.8" height="0.8" fill="#3440a8"/><rect x="150.3" y="505.6" width="0.8" height="0.8" fill="#2a3298"/><rect x="149.5" y="505.2" width="0.8" height="0.8" fill="#20288a"/><rect x="150.7" y="504.9" width="0.8" height="0.8" fill="#2a3298"/><rect x="152.7" y="507.7" width="0.8" height="0.8" fill="#3440a8"/><rect x="149.9" y="505.6" width="0.8" height="0.8" fill="#3440a8"/><rect x="149.0" y="505.5" width="0.8" height="0.8" fill="#20288a"/><rect x="156.7" y="508.0" width="0.8" height="0.8" fill="#20288a"/><rect x="149.1" y="508.2" width="0.8" height="0.8" fill="#2a3298"/><rect x="153.1" y="505.3" width="0.8" height="0.8" fill="#2a3298"/><rect x="145.7" y="505.2" width="0.8" height="0.8" fill="#3440a8"/><rect x="152.2" y="505.0" width="0.8" height="0.8" fill="#3440a8"/><rect x="153.3" y="505.5" width="0.8" height="0.8" fill="#3440a8"/><rect x="150.4" y="499.6" width="0.8" height="0.8" fill="#20288a"/><rect x="156.2" y="503.0" width="0.8" height="0.8" fill="#20288a"/><rect x="147.2" y="505.3" width="0.8" height="0.8" fill="#2a3298"/><rect x="150.3" y="509.6" width="0.8" height="0.8" fill="#20288a"/><rect x="149.8" y="501.4" width="0.8" height="0.8" fill="#20288a"/><rect x="146.1" y="506.2" width="0.8" height="0.8" fill="#3440a8"/><rect x="155.7" y="506.1" width="0.8" height="0.8" fill="#20288a"/><rect x="152.6" y="505.9" width="0.8" height="0.8" fill="#3440a8"/><rect x="151.2" y="502.6" width="0.8" height="0.8" fill="#2a3298"/><rect x="150.5" y="506.0" width="0.8" height="0.8" fill="#20288a"/><rect x="153.2" y="504.4" width="0.8" height="0.8" fill="#20288a"/><rect x="156.0" y="507.5" width="0.8" height="0.8" fill="#20288a"/><rect x="158.3" y="505.0" width="0.8" height="0.8" fill="#2a3298"/><rect x="148.2" y="501.5" width="0.8" height="0.8" fill="#20288a"/><rect x="153.7" y="506.4" width="0.8" height="0.8" fill="#2a3298"/><rect x="147.9" y="505.4" width="0.8" height="0.8" fill="#20288a"/><rect x="150.7" y="505.1" width="0.8" height="0.8" fill="#20288a"/><rect x="147.8" y="504.6" width="0.8" height="0.8" fill="#20288a"/><rect x="153.8" y="504.3" width="0.8" height="0.8" fill="#2a3298"/><rect x="151.3" y="502.1" width="0.8" height="0.8" fill="#2a3298"/><rect x="154.0" y="507.7" width="0.8" height="0.8" fill="#3440a8"/><rect x="144.4" y="506.0" width="0.8" height="0.8" fill="#3440a8"/><rect x="148.4" y="505.2" width="0.8" height="0.8" fill="#3440a8"/><rect x="154.8" y="503.4" width="0.8" height="0.8" fill="#3440a8"/><rect x="151.8" y="506.1" width="0.8" height="0.8" fill="#3440a8"/><rect x="152.1" y="505.8" width="0.8" height="0.8" fill="#2a3298"/><rect x="145.2" y="503.3" width="0.8" height="0.8" fill="#20288a"/><rect x="152.5" y="509.0" width="0.8" height="0.8" fill="#3440a8"/><rect x="150.7" y="504.5" width="0.8" height="0.8" fill="#3440a8"/><rect x="158.9" y="505.7" width="0.8" height="0.8" fill="#20288a"/><rect x="149.3" y="508.3" width="0.8" height="0.8" fill="#3440a8"/><rect x="155.4" y="506.0" width="0.8" height="0.8" fill="#2a3298"/><rect x="151.1" y="505.5" width="0.8" height="0.8" fill="#20288a"/><rect x="151.2" y="508.1" width="0.8" height="0.8" fill="#20288a"/><rect x="143.4" y="502.7" width="0.8" height="0.8" fill="#2a3298"/><rect x="147.9" y="502.2" width="0.8" height="0.8" fill="#3440a8"/><rect x="149.7" y="502.5" width="0.8" height="0.8" fill="#3440a8"/><rect x="150.9" y="503.9" width="0.8" height="0.8" fill="#20288a"/><rect x="157.7" y="503.1" width="0.8" height="0.8" fill="#20288a"/><rect x="148.3" y="501.4" width="0.8" height="0.8" fill="#3440a8"/><rect x="150.6" y="506.1" width="0.8" height="0.8" fill="#3440a8"/><rect x="155.3" y="508.0" width="0.8" height="0.8" fill="#3440a8"/><rect x="155.0" y="506.9" width="0.8" height="0.8" fill="#20288a"/><rect x="147.3" y="503.1" width="0.8" height="0.8" fill="#2a3298"/><rect x="153.8" y="503.3" width="0.8" height="0.8" fill="#3440a8"/><rect x="145.8" y="505.0" width="0.8" height="0.8" fill="#2a3298"/><rect x="158.2" y="507.0" width="0.8" height="0.8" fill="#3440a8"/><rect x="154.5" y="504.3" width="0.8" height="0.8" fill="#3440a8"/><rect x="152.9" y="506.2" width="0.8" height="0.8" fill="#2a3298"/><rect x="149.9" y="505.7" width="0.8" height="0.8" fill="#2a3298"/><rect x="154.1" y="504.1" width="0.8" height="0.8" fill="#20288a"/><rect x="155.3" y="504.8" width="0.8" height="0.8" fill="#2a3298"/><rect x="153.8" y="505.7" width="0.8" height="0.8" fill="#20288a"/><rect x="153.2" y="506.8" width="0.8" height="0.8" fill="#2a3298"/><rect x="153.6" y="502.4" width="0.8" height="0.8" fill="#2a3298"/><rect x="154.1" y="504.2" width="0.8" height="0.8" fill="#20288a"/><rect x="145.4" y="501.3" width="0.8" height="0.8" fill="#3440a8"/><rect x="152.6" y="505.9" width="0.8" height="0.8" fill="#20288a"/></g>
<rect x="142.20" y="485.50" width="20.50" height="25.00" fill="none" stroke="#8a8a8a" stroke-width="0.8" />
<text x="142.70" y="481.90" font-size="7.7" textLength="21.5" lengthAdjust="spacingAndGlyphs">6.18%</text>
<ellipse cx="66.2" cy="517.5" rx="1.5" ry="0.8" fill="#111"/>
<ellipse cx="135.6" cy="517.5" rx="1.5" ry="0.8" fill="#111"/>
<line x1="20.8" y1="500.0" x2="20.8" y2="456.0" stroke="#707070" stroke-width="1.6" />
<path d="M18.70,456.90 L20.80,451.90 L22.90,456.90 Z" fill="#111"/>
<text x="24.00" y="510.90" font-size="9" style="stroke-width:0.5px" text-anchor="middle" textLength="18.1" lengthAdjust="spacingAndGlyphs" transform="rotate(-90 24.00 510.90)">FSC-H</text>
<text x="52.80" y="540.90" font-size="9" style="stroke-width:0.5px" textLength="15.3" lengthAdjust="spacingAndGlyphs">CFSE</text>
<line x1="71.2" y1="537.6" x2="180.8" y2="537.6" stroke="#555" stroke-width="1.4" />
<path d="M179.60,535.30 L184.80,537.60 L179.60,539.90 Z" fill="#111"/>
<line x1="227.5" y1="447.3" x2="227.5" y2="516.1" stroke="#1e1e1e" stroke-width="1.3" />
<line x1="224.5" y1="515.6" x2="272.3" y2="515.6" stroke="#1e1e1e" stroke-width="1.4" />
<line x1="224.5" y1="449.3" x2="227.5" y2="449.3" stroke="#222" stroke-width="0.9" />
<line x1="224.5" y1="471.4" x2="227.5" y2="471.4" stroke="#222" stroke-width="0.9" />
<line x1="224.5" y1="493.5" x2="227.5" y2="493.5" stroke="#222" stroke-width="0.9" />
<line x1="224.5" y1="515.6" x2="227.5" y2="515.6" stroke="#222" stroke-width="0.9" />
<text x="221.30" y="452.00" font-size="8.0" text-anchor="end" textLength="9.4" lengthAdjust="spacingAndGlyphs">30</text>
<text x="221.30" y="474.10" font-size="8.0" text-anchor="end" textLength="9.4" lengthAdjust="spacingAndGlyphs">20</text>
<text x="221.30" y="496.20" font-size="8.0" text-anchor="end" textLength="9.4" lengthAdjust="spacingAndGlyphs">10</text>
<text x="221.30" y="518.30" font-size="8.0" text-anchor="end" textLength="4.7" lengthAdjust="spacingAndGlyphs">0</text>
<rect x="231.40" y="474.90" width="15.40" height="40.70" fill="#2ba6de" />
<line x1="239.10000000000002" y1="470.4" x2="239.10000000000002" y2="479.5" stroke="#1a1a1a" stroke-width="1.1" />
<line x1="236.50000000000003" y1="470.4" x2="241.70000000000002" y2="470.4" stroke="#1a1a1a" stroke-width="1.1" />
<line x1="236.50000000000003" y1="479.5" x2="241.70000000000002" y2="479.5" stroke="#1a1a1a" stroke-width="1.1" />
<circle cx="239.00" cy="466.40" r="1.25" fill="#0a0a0a"/>
<circle cx="239.00" cy="477.30" r="1.25" fill="#0a0a0a"/>
<circle cx="239.00" cy="481.50" r="1.25" fill="#0a0a0a"/>
<rect x="254.60" y="503.60" width="15.40" height="12.00" fill="#c8102e" />
<circle cx="258.20" cy="502.60" r="1.25" fill="#0a0a0a"/>
<circle cx="262.80" cy="502.90" r="1.25" fill="#0a0a0a"/>
<circle cx="267.00" cy="503.00" r="1.25" fill="#0a0a0a"/>
<line x1="238.6" y1="460.9" x2="261.9" y2="460.9" stroke="#2e2e2e" stroke-width="1.0" />
<circle cx="248.70" cy="457.00" r="1.0" fill="#151515"/>
<circle cx="251.90" cy="457.00" r="1.0" fill="#151515"/>
<text transform="translate(207.0 482.2) rotate(-90)" text-anchor="middle" font-size="8.4" style="stroke-width:0.4px" textLength="51.9" lengthAdjust="spacingAndGlyphs">CFSE<tspan font-size="5.2" dy="-3.2">+</tspan><tspan dy="3.2"> RBCs (%)</tspan></text>
<rect x="275.00" y="440.30" width="5.70" height="5.50" fill="#2ba6de" />
<text x="283.80" y="445.40" font-size="7.2" textLength="17.3" lengthAdjust="spacingAndGlyphs" font-style="italic">Sirpα</text>
<text x="301.60" y="442.70" font-size="4.6" style="stroke-width:0.06px" textLength="4.1" lengthAdjust="spacingAndGlyphs">f/f</text>
<text x="307.40" y="445.40" font-size="7.2" textLength="13.8" lengthAdjust="spacingAndGlyphs">mice</text>
<rect x="275.00" y="451.20" width="5.70" height="5.50" fill="#c8102e" />
<text x="283.80" y="456.20" font-size="7.2" textLength="17.3" lengthAdjust="spacingAndGlyphs" font-style="italic">Sirpα</text>
<text x="301.60" y="453.50" font-size="4.6" style="stroke-width:0.06px" textLength="9.8" lengthAdjust="spacingAndGlyphs">ΔDC</text>
<text x="313.40" y="456.20" font-size="7.2" textLength="14.5" lengthAdjust="spacingAndGlyphs">mice</text>
<text x="343.00" y="430.60" font-size="10.5" style="stroke-width:0.75px" font-weight="bold" fill="#000">F</text>
<line x1="375.4" y1="445.5" x2="375.4" y2="516.3" stroke="#222" stroke-width="1.1" />
<line x1="374.9" y1="515.8" x2="501.1" y2="515.8" stroke="#222" stroke-width="1.1" />
<line x1="373.0" y1="515.8" x2="375.4" y2="515.8" stroke="#222" stroke-width="0.9" />
<line x1="373.9" y1="504.4833333333333" x2="375.4" y2="504.4833333333333" stroke="#222" stroke-width="0.9" />
<line x1="373.0" y1="493.16666666666663" x2="375.4" y2="493.16666666666663" stroke="#222" stroke-width="0.9" />
<line x1="373.9" y1="481.84999999999997" x2="375.4" y2="481.84999999999997" stroke="#222" stroke-width="0.9" />
<line x1="373.0" y1="470.5333333333333" x2="375.4" y2="470.5333333333333" stroke="#222" stroke-width="0.9" />
<line x1="373.9" y1="459.21666666666664" x2="375.4" y2="459.21666666666664" stroke="#222" stroke-width="0.9" />
<line x1="373.0" y1="447.9" x2="375.4" y2="447.9" stroke="#222" stroke-width="0.9" />
<text x="370.20" y="518.50" font-size="8.0" text-anchor="end" textLength="4.45" lengthAdjust="spacingAndGlyphs">0</text>
<text x="370.20" y="495.87" font-size="8.0" text-anchor="end" textLength="8.9" lengthAdjust="spacingAndGlyphs">40</text>
<text x="370.20" y="473.23" font-size="8.0" text-anchor="end" textLength="8.9" lengthAdjust="spacingAndGlyphs">80</text>
<text x="370.20" y="450.60" font-size="8.0" text-anchor="end" textLength="13.350000000000001" lengthAdjust="spacingAndGlyphs">120</text>
<line x1="375.4" y1="515.8" x2="375.4" y2="518.4" stroke="#222" stroke-width="0.9" />
<text x="375.40" y="528.00" font-size="8.0" text-anchor="middle" textLength="4.45" lengthAdjust="spacingAndGlyphs">0</text>
<line x1="403.325" y1="515.8" x2="403.325" y2="518.4" stroke="#222" stroke-width="0.9" />
<text x="403.32" y="528.00" font-size="8.0" text-anchor="middle" textLength="4.45" lengthAdjust="spacingAndGlyphs">5</text>
<line x1="431.25" y1="515.8" x2="431.25" y2="518.4" stroke="#222" stroke-width="0.9" />
<text x="431.25" y="528.00" font-size="8.0" text-anchor="middle" textLength="8.9" lengthAdjust="spacingAndGlyphs">10</text>
<line x1="459.17499999999995" y1="515.8" x2="459.17499999999995" y2="518.4" stroke="#222" stroke-width="0.9" />
<text x="459.17" y="528.00" font-size="8.0" text-anchor="middle" textLength="8.9" lengthAdjust="spacingAndGlyphs">15</text>
<line x1="487.09999999999997" y1="515.8" x2="487.09999999999997" y2="518.4" stroke="#222" stroke-width="0.9" />
<text x="487.10" y="528.00" font-size="8.0" text-anchor="middle" textLength="8.9" lengthAdjust="spacingAndGlyphs">20</text>
<path d="M375.40,459.61 L378.19,465.44 L380.98,471.89 L392.15,489.60 L408.91,493.28 L487.10,505.39" fill="none" stroke="#2fa9da" stroke-width="1.1"/>
<path d="M375.40,459.61 L378.19,463.01 L380.98,463.01 L392.15,463.91 L408.91,470.70 L487.10,471.55" fill="none" stroke="#b8163c" stroke-width="1.1"/>
<line x1="378.1925" y1="461.8760833333333" x2="378.1925" y2="464.13941666666665" stroke="#222" stroke-width="0.8" />
<line x1="376.5925" y1="461.8760833333333" x2="379.7925" y2="461.8760833333333" stroke="#222" stroke-width="0.8" />
<line x1="376.5925" y1="464.13941666666665" x2="379.7925" y2="464.13941666666665" stroke="#222" stroke-width="0.8" />
<line x1="380.98499999999996" y1="462.44191666666666" x2="380.98499999999996" y2="463.5735833333333" stroke="#222" stroke-width="0.8" />
<line x1="379.38499999999993" y1="462.44191666666666" x2="382.585" y2="462.44191666666666" stroke="#222" stroke-width="0.8" />
<line x1="379.38499999999993" y1="463.5735833333333" x2="382.585" y2="463.5735833333333" stroke="#222" stroke-width="0.8" />
<line x1="392.155" y1="462.78141666666664" x2="392.155" y2="465.04474999999996" stroke="#222" stroke-width="0.8" />
<line x1="390.55499999999995" y1="462.78141666666664" x2="393.755" y2="462.78141666666664" stroke="#222" stroke-width="0.8" />
<line x1="390.55499999999995" y1="465.04474999999996" x2="393.755" y2="465.04474999999996" stroke="#222" stroke-width="0.8" />
<line x1="408.90999999999997" y1="466.74224999999996" x2="408.90999999999997" y2="474.66391666666664" stroke="#222" stroke-width="0.8" />
<line x1="407.30999999999995" y1="466.74224999999996" x2="410.51" y2="466.74224999999996" stroke="#222" stroke-width="0.8" />
<line x1="407.30999999999995" y1="474.66391666666664" x2="410.51" y2="474.66391666666664" stroke="#222" stroke-width="0.8" />
<line x1="487.09999999999997" y1="470.986" x2="487.09999999999997" y2="472.11766666666665" stroke="#222" stroke-width="0.8" />
<line x1="485.49999999999994" y1="470.986" x2="488.7" y2="470.986" stroke="#222" stroke-width="0.8" />
<line x1="485.49999999999994" y1="472.11766666666665" x2="488.7" y2="472.11766666666665" stroke="#222" stroke-width="0.8" />
<circle cx="375.40" cy="459.61" r="1.75" fill="#b0506a" stroke="#3a0c1a" stroke-width="1.0"/>
<circle cx="378.19" cy="463.01" r="1.75" fill="#b0506a" stroke="#3a0c1a" stroke-width="1.0"/>
<circle cx="380.98" cy="463.01" r="1.75" fill="#b0506a" stroke="#3a0c1a" stroke-width="1.0"/>
<circle cx="392.15" cy="463.91" r="1.75" fill="#b0506a" stroke="#3a0c1a" stroke-width="1.0"/>
<circle cx="408.91" cy="470.70" r="1.75" fill="#b0506a" stroke="#3a0c1a" stroke-width="1.0"/>
<circle cx="487.10" cy="471.55" r="1.75" fill="#e8e0e2" stroke="#3a0c1a" stroke-width="1.0"/>
<line x1="378.1925" y1="464.30916666666667" x2="378.1925" y2="466.5725" stroke="#222" stroke-width="0.8" />
<line x1="376.5925" y1="464.30916666666667" x2="379.7925" y2="464.30916666666667" stroke="#222" stroke-width="0.8" />
<line x1="376.5925" y1="466.5725" x2="379.7925" y2="466.5725" stroke="#222" stroke-width="0.8" />
<line x1="380.98499999999996" y1="470.75966666666665" x2="380.98499999999996" y2="473.02299999999997" stroke="#222" stroke-width="0.8" />
<line x1="379.38499999999993" y1="470.75966666666665" x2="382.585" y2="470.75966666666665" stroke="#222" stroke-width="0.8" />
<line x1="379.38499999999993" y1="473.02299999999997" x2="382.585" y2="473.02299999999997" stroke="#222" stroke-width="0.8" />
<line x1="392.155" y1="488.47024999999996" x2="392.155" y2="490.7335833333333" stroke="#222" stroke-width="0.8" />
<line x1="390.55499999999995" y1="488.47024999999996" x2="393.755" y2="488.47024999999996" stroke="#222" stroke-width="0.8" />
<line x1="390.55499999999995" y1="490.7335833333333" x2="393.755" y2="490.7335833333333" stroke="#222" stroke-width="0.8" />
<line x1="408.90999999999997" y1="491.5823333333333" x2="408.90999999999997" y2="494.9773333333333" stroke="#222" stroke-width="0.8" />
<line x1="407.30999999999995" y1="491.5823333333333" x2="410.51" y2="491.5823333333333" stroke="#222" stroke-width="0.8" />
<line x1="407.30999999999995" y1="494.9773333333333" x2="410.51" y2="494.9773333333333" stroke="#222" stroke-width="0.8" />
<line x1="487.09999999999997" y1="502.55949999999996" x2="487.09999999999997" y2="508.2178333333333" stroke="#222" stroke-width="0.8" />
<line x1="485.49999999999994" y1="502.55949999999996" x2="488.7" y2="502.55949999999996" stroke="#222" stroke-width="0.8" />
<line x1="485.49999999999994" y1="508.2178333333333" x2="488.7" y2="508.2178333333333" stroke="#222" stroke-width="0.8" />
<circle cx="375.40" cy="459.61" r="2.25" fill="#111"/>
<circle cx="378.19" cy="465.44" r="2.25" fill="#111"/>
<circle cx="380.98" cy="471.89" r="2.25" fill="#111"/>
<circle cx="392.15" cy="489.60" r="2.25" fill="#111"/>
<circle cx="408.91" cy="493.28" r="2.25" fill="#111"/>
<circle cx="487.10" cy="505.39" r="2.25" fill="#111"/>
<text x="351.40" y="0.00" font-size="1" style="stroke-width:0.06px"></text>
<text transform="translate(351.0 481.8) rotate(-90)" text-anchor="middle" font-size="8.2" style="stroke-width:0.4px" textLength="51.4" lengthAdjust="spacingAndGlyphs">RBC recovery (%)</text>
<text x="426.00" y="541.40" font-size="8.6" style="stroke-width:0.5px" textLength="24.2" lengthAdjust="spacingAndGlyphs">Time (h)</text>
<line x1="443" y1="443.1" x2="452.8" y2="443.1" stroke="#333" stroke-width="1" />
<circle cx="448.00" cy="443.10" r="2.3" fill="#111"/>
<text x="456.70" y="445.70" font-size="7.2" textLength="17.3" lengthAdjust="spacingAndGlyphs" font-style="italic">Sirpα</text>
<text x="474.50" y="443.00" font-size="4.6" style="stroke-width:0.06px" textLength="4.1" lengthAdjust="spacingAndGlyphs">f/f</text>
<text x="480.30" y="445.70" font-size="7.2" textLength="13.8" lengthAdjust="spacingAndGlyphs">mice</text>
<line x1="443" y1="453.6" x2="452.8" y2="453.6" stroke="#b8163c" stroke-width="1" />
<circle cx="448.00" cy="453.60" r="1.8" fill="#fff" stroke="#2a0a12" stroke-width="1.0"/>
<text x="456.70" y="456.20" font-size="7.2" textLength="17.3" lengthAdjust="spacingAndGlyphs" font-style="italic">Sirpα</text>
<text x="474.50" y="453.50" font-size="4.6" style="stroke-width:0.06px" textLength="9.8" lengthAdjust="spacingAndGlyphs">ΔDC</text>
<text x="486.30" y="456.20" font-size="7.2" textLength="14.5" lengthAdjust="spacingAndGlyphs">mice</text>
<path d="M493.0,472.1 L495.8,472.1 L495.8,509.4 L493.0,509.4" fill="none" stroke="#333" stroke-width="1.1"/>
<circle cx="500.50" cy="491.60" r="0.95" fill="#151515"/>
<circle cx="503.60" cy="491.60" r="0.95" fill="#151515"/>
<circle cx="506.70" cy="491.60" r="0.95" fill="#151515"/>
<circle cx="509.80" cy="491.60" r="0.95" fill="#151515"/></g>
<rect x="0.5" y="0.5" width="519" height="549" fill="none" stroke="#4a4a4a" stroke-width="1"/>
</svg></body></html>
